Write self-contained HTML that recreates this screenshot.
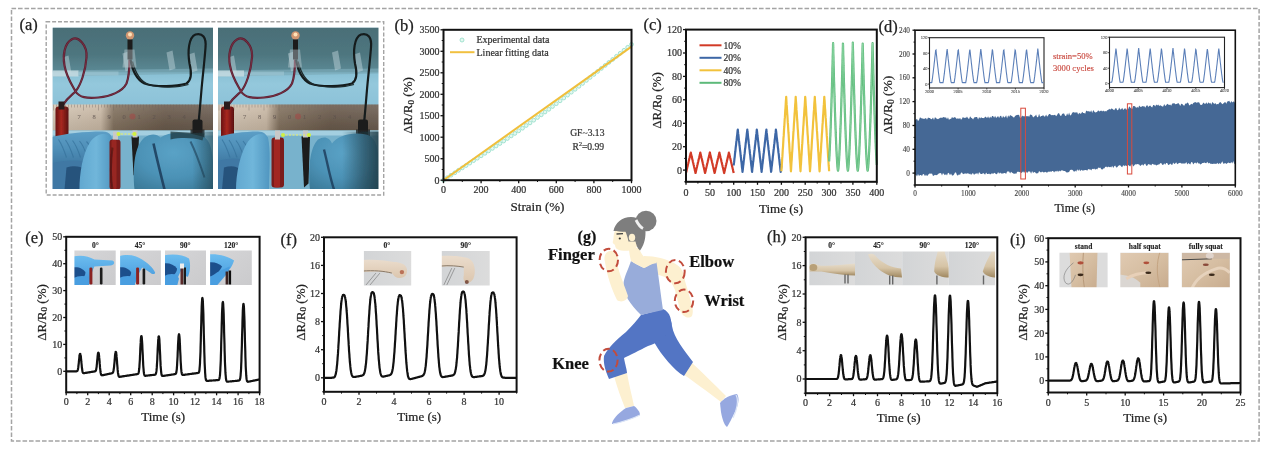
<!DOCTYPE html><html><head><meta charset="utf-8"><style>html,body{margin:0;padding:0;background:#fff;width:1268px;height:451px;overflow:hidden}svg{display:block;filter:blur(0.4px)}</style></head><body>
<svg width="1268" height="451" viewBox="0 0 1268 451" font-family="'Liberation Serif','Times New Roman',serif">
<rect width="1268" height="451" fill="#fff"/>
<rect x="11.5" y="8.6" width="1247.6" height="432.4" fill="none" stroke="#a4a4a4" stroke-width="1.5" stroke-dasharray="4.6 1.9"/>
<text x="19.5" y="30.0" font-size="16.5" fill="#222" stroke="#222" stroke-width="0.25">(a)</text>
<rect x="46.2" y="21.8" width="337.5" height="173.2" fill="none" stroke="#a4a4a4" stroke-width="1.4" stroke-dasharray="4 1.9"/>
<defs>
<linearGradient id="wallTop" x1="0" y1="0" x2="0" y2="1">
 <stop offset="0" stop-color="#4a6e77"/><stop offset="0.6" stop-color="#4e767f"/><stop offset="1" stop-color="#5c8a96"/></linearGradient>
<linearGradient id="wallLow" x1="0" y1="0" x2="0" y2="1">
 <stop offset="0" stop-color="#88c0d4"/><stop offset="0.35" stop-color="#94c8dc"/><stop offset="1" stop-color="#8cc2d8"/></linearGradient>
<linearGradient id="ruler" x1="0" y1="0" x2="1" y2="0">
 <stop offset="0" stop-color="#d6c8b6"/><stop offset="0.3" stop-color="#cbbaa6"/><stop offset="0.38" stop-color="#83725f"/><stop offset="0.7" stop-color="#6a5a4b"/><stop offset="1" stop-color="#6c5e52"/></linearGradient>
<linearGradient id="rulerV" x1="0" y1="0" x2="0" y2="1">
 <stop offset="0" stop-color="#fff" stop-opacity="0.12"/><stop offset="1" stop-color="#000" stop-opacity="0.1"/></linearGradient>
<linearGradient id="gloveA" x1="0" y1="0" x2="0" y2="1">
 <stop offset="0" stop-color="#5c9ec6"/><stop offset="0.5" stop-color="#4f8fb8"/><stop offset="1" stop-color="#3e78a2"/></linearGradient>
<linearGradient id="gloveB" x1="0" y1="0" x2="1" y2="0">
 <stop offset="0" stop-color="#62a8d0"/><stop offset="0.5" stop-color="#70b6da"/><stop offset="1" stop-color="#5096c0"/></linearGradient>
<radialGradient id="gloveC" cx="0.5" cy="0.35" r="0.8">
 <stop offset="0" stop-color="#5aa2c6"/><stop offset="0.55" stop-color="#4c92b6"/><stop offset="1" stop-color="#3a7896"/></radialGradient>
<linearGradient id="redclip" x1="0" y1="0" x2="1" y2="0">
 <stop offset="0" stop-color="#6a1212"/><stop offset="0.45" stop-color="#a82820"/><stop offset="1" stop-color="#5a1010"/></linearGradient>
<linearGradient id="darkEdge" x1="0" y1="0" x2="1" y2="0"><stop offset="0" stop-color="#20404c" stop-opacity="0"/><stop offset="1" stop-color="#20404c" stop-opacity="0.6"/></linearGradient>
<linearGradient id="darkEdge2" x1="0" y1="0" x2="1" y2="0"><stop offset="0" stop-color="#1e3a44" stop-opacity="0"/><stop offset="0.6" stop-color="#1e3a44" stop-opacity="0.55"/><stop offset="1" stop-color="#1e3a44" stop-opacity="0.85"/></linearGradient>
<clipPath id="cpA1"><rect x="0" y="0" width="160.5" height="161.5"/></clipPath>
<filter id="soft" x="-5%" y="-5%" width="110%" height="110%"><feGaussianBlur stdDeviation="0.6"/></filter>
<filter id="soft2" x="-20%" y="-20%" width="140%" height="140%"><feGaussianBlur stdDeviation="1.2"/></filter>
</defs>
<g transform="translate(52.5,27.5)" clip-path="url(#cpA1)">
<g filter="url(#soft)">
<rect x="0" y="0" width="161" height="162" fill="#6aaac6"/>
<rect x="0" y="0" width="161" height="45" fill="url(#wallTop)"/>
<rect x="0" y="45" width="161" height="33" fill="url(#wallLow)"/>
<path d="M0,43 L161,41 L161,46 L0,49 Z" fill="#7aaab8" opacity="0.7"/>
<rect x="0" y="43" width="26" height="6" fill="#d6e6ea" opacity="0.7"/>
<rect x="26" y="44" width="40" height="4" fill="#a8ccd8" opacity="0.5"/>
<path d="M10,30 l6,-2 l3,18 l-6,2 z" fill="#c5d9df" opacity="0.45"/>
<path d="M70,26 l6,-2 l3,18 l-6,2 z" fill="#c5d9df" opacity="0.45"/>
<path d="M114,25 l6,-2 l3,18 l-6,2 z" fill="#c5d9df" opacity="0.45"/>
<path d="M136,27 l6,-2 l3,18 l-6,2 z" fill="#c5d9df" opacity="0.45"/>
<rect x="0" y="77" width="161" height="26" fill="url(#ruler)"/>
<rect x="0" y="77" width="161" height="26" fill="url(#rulerV)"/>
<line x1="1" y1="77" x2="1" y2="83" stroke="#6d625e" stroke-width="0.6" opacity="0.6"/>
<line x1="4" y1="77" x2="4" y2="80" stroke="#6d625e" stroke-width="0.6" opacity="0.6"/>
<line x1="7" y1="77" x2="7" y2="80" stroke="#6d625e" stroke-width="0.6" opacity="0.6"/>
<line x1="10" y1="77" x2="10" y2="80" stroke="#6d625e" stroke-width="0.6" opacity="0.6"/>
<line x1="13" y1="77" x2="13" y2="80" stroke="#6d625e" stroke-width="0.6" opacity="0.6"/>
<line x1="16" y1="77" x2="16" y2="83" stroke="#6d625e" stroke-width="0.6" opacity="0.6"/>
<line x1="19" y1="77" x2="19" y2="80" stroke="#6d625e" stroke-width="0.6" opacity="0.6"/>
<line x1="22" y1="77" x2="22" y2="80" stroke="#6d625e" stroke-width="0.6" opacity="0.6"/>
<line x1="25" y1="77" x2="25" y2="80" stroke="#6d625e" stroke-width="0.6" opacity="0.6"/>
<line x1="28" y1="77" x2="28" y2="80" stroke="#6d625e" stroke-width="0.6" opacity="0.6"/>
<line x1="31" y1="77" x2="31" y2="83" stroke="#6d625e" stroke-width="0.6" opacity="0.6"/>
<line x1="34" y1="77" x2="34" y2="80" stroke="#6d625e" stroke-width="0.6" opacity="0.6"/>
<line x1="37" y1="77" x2="37" y2="80" stroke="#6d625e" stroke-width="0.6" opacity="0.6"/>
<line x1="40" y1="77" x2="40" y2="80" stroke="#6d625e" stroke-width="0.6" opacity="0.6"/>
<line x1="43" y1="77" x2="43" y2="80" stroke="#6d625e" stroke-width="0.6" opacity="0.6"/>
<line x1="46" y1="77" x2="46" y2="83" stroke="#6d625e" stroke-width="0.6" opacity="0.6"/>
<line x1="49" y1="77" x2="49" y2="80" stroke="#6d625e" stroke-width="0.6" opacity="0.6"/>
<line x1="52" y1="77" x2="52" y2="80" stroke="#6d625e" stroke-width="0.6" opacity="0.6"/>
<line x1="55" y1="77" x2="55" y2="80" stroke="#6d625e" stroke-width="0.6" opacity="0.6"/>
<line x1="58" y1="77" x2="58" y2="80" stroke="#6d625e" stroke-width="0.6" opacity="0.6"/>
<line x1="61" y1="77" x2="61" y2="83" stroke="#6d625e" stroke-width="0.6" opacity="0.6"/>
<line x1="64" y1="77" x2="64" y2="80" stroke="#6d625e" stroke-width="0.6" opacity="0.6"/>
<line x1="67" y1="77" x2="67" y2="80" stroke="#6d625e" stroke-width="0.6" opacity="0.6"/>
<line x1="70" y1="77" x2="70" y2="80" stroke="#6d625e" stroke-width="0.6" opacity="0.6"/>
<line x1="73" y1="77" x2="73" y2="80" stroke="#6d625e" stroke-width="0.6" opacity="0.6"/>
<line x1="76" y1="77" x2="76" y2="83" stroke="#6d625e" stroke-width="0.6" opacity="0.6"/>
<line x1="79" y1="77" x2="79" y2="80" stroke="#6d625e" stroke-width="0.6" opacity="0.6"/>
<line x1="82" y1="77" x2="82" y2="80" stroke="#6d625e" stroke-width="0.6" opacity="0.6"/>
<line x1="85" y1="77" x2="85" y2="80" stroke="#6d625e" stroke-width="0.6" opacity="0.6"/>
<line x1="88" y1="77" x2="88" y2="80" stroke="#6d625e" stroke-width="0.6" opacity="0.6"/>
<line x1="91" y1="77" x2="91" y2="83" stroke="#6d625e" stroke-width="0.6" opacity="0.6"/>
<line x1="94" y1="77" x2="94" y2="80" stroke="#6d625e" stroke-width="0.6" opacity="0.6"/>
<line x1="97" y1="77" x2="97" y2="80" stroke="#6d625e" stroke-width="0.6" opacity="0.6"/>
<line x1="100" y1="77" x2="100" y2="80" stroke="#6d625e" stroke-width="0.6" opacity="0.6"/>
<line x1="103" y1="77" x2="103" y2="80" stroke="#6d625e" stroke-width="0.6" opacity="0.6"/>
<line x1="106" y1="77" x2="106" y2="83" stroke="#6d625e" stroke-width="0.6" opacity="0.6"/>
<line x1="109" y1="77" x2="109" y2="80" stroke="#6d625e" stroke-width="0.6" opacity="0.6"/>
<line x1="112" y1="77" x2="112" y2="80" stroke="#6d625e" stroke-width="0.6" opacity="0.6"/>
<line x1="115" y1="77" x2="115" y2="80" stroke="#6d625e" stroke-width="0.6" opacity="0.6"/>
<line x1="118" y1="77" x2="118" y2="80" stroke="#6d625e" stroke-width="0.6" opacity="0.6"/>
<line x1="121" y1="77" x2="121" y2="83" stroke="#6d625e" stroke-width="0.6" opacity="0.6"/>
<line x1="124" y1="77" x2="124" y2="80" stroke="#6d625e" stroke-width="0.6" opacity="0.6"/>
<line x1="127" y1="77" x2="127" y2="80" stroke="#6d625e" stroke-width="0.6" opacity="0.6"/>
<line x1="130" y1="77" x2="130" y2="80" stroke="#6d625e" stroke-width="0.6" opacity="0.6"/>
<line x1="133" y1="77" x2="133" y2="80" stroke="#6d625e" stroke-width="0.6" opacity="0.6"/>
<line x1="136" y1="77" x2="136" y2="83" stroke="#6d625e" stroke-width="0.6" opacity="0.6"/>
<line x1="139" y1="77" x2="139" y2="80" stroke="#6d625e" stroke-width="0.6" opacity="0.6"/>
<line x1="142" y1="77" x2="142" y2="80" stroke="#6d625e" stroke-width="0.6" opacity="0.6"/>
<line x1="145" y1="77" x2="145" y2="80" stroke="#6d625e" stroke-width="0.6" opacity="0.6"/>
<line x1="148" y1="77" x2="148" y2="80" stroke="#6d625e" stroke-width="0.6" opacity="0.6"/>
<line x1="151" y1="77" x2="151" y2="83" stroke="#6d625e" stroke-width="0.6" opacity="0.6"/>
<line x1="154" y1="77" x2="154" y2="80" stroke="#6d625e" stroke-width="0.6" opacity="0.6"/>
<line x1="157" y1="77" x2="157" y2="80" stroke="#6d625e" stroke-width="0.6" opacity="0.6"/>
<line x1="160" y1="77" x2="160" y2="80" stroke="#6d625e" stroke-width="0.6" opacity="0.6"/>
<text x="10" y="91" font-size="6.5" fill="#5d524e" opacity="0.75" stroke="#5d524e" stroke-width="0.12">6</text>
<text x="25" y="91" font-size="6.5" fill="#5d524e" opacity="0.75" stroke="#5d524e" stroke-width="0.12">7</text>
<text x="40" y="91" font-size="6.5" fill="#5d524e" opacity="0.75" stroke="#5d524e" stroke-width="0.12">8</text>
<text x="55" y="91" font-size="6.5" fill="#5d524e" opacity="0.75" stroke="#5d524e" stroke-width="0.12">9</text>
<text x="70" y="91" font-size="6.5" fill="#5d524e" opacity="0.75" stroke="#5d524e" stroke-width="0.12">0</text>
<text x="85" y="91" font-size="6.5" fill="#5d524e" opacity="0.75" stroke="#5d524e" stroke-width="0.12">1</text>
<text x="100" y="91" font-size="6.5" fill="#5d524e" opacity="0.75" stroke="#5d524e" stroke-width="0.12">2</text>
<text x="115" y="91" font-size="6.5" fill="#5d524e" opacity="0.75" stroke="#5d524e" stroke-width="0.12">3</text>
<text x="130" y="91" font-size="6.5" fill="#5d524e" opacity="0.75" stroke="#5d524e" stroke-width="0.12">4</text>
<text x="145" y="91" font-size="6.5" fill="#5d524e" opacity="0.75" stroke="#5d524e" stroke-width="0.12">5</text>
<circle cx="80" cy="89" r="3" fill="#b04040" opacity="0.45"/>
<rect x="0" y="103" width="161" height="6" fill="#a4cfe0"/>
<rect x="0" y="108" width="161" height="54" fill="#78b2cc"/>
<path d="M10,78 C15,70 20,67 23,64 C28,58 33,44 34,30 C35,18 26,8 19,12 C12,16 10,28 12,38 C14,50 20,58 23,64 C27,70 34,71 46,70 C58,69 70,64 74,56 C77,48 77,40 77,32" fill="none" stroke="#5a2030" stroke-width="2.2"/>
<path d="M10,78 C15,70 20,67 23,64 C28,58 33,44 34,30 C35,18 26,8 19,12 C12,16 10,28 12,38 C14,50 20,58 23,64 C27,70 34,71 46,70 C58,69 70,64 74,56 C77,48 77,40 77,32" fill="none" stroke="#93405a" stroke-width="0.8" opacity="0.6"/>
<path d="M78,32 C80,44 84,52 92,56 C104,60 124,59 134,56 C140,52 139,44 137,36 C135,24 136,10 143,7 C150,5 154,10 153,20 C152,34 150,50 149,62 C148,74 147,86 146,96" fill="none" stroke="#141c1e" stroke-width="2.2"/>
<path d="M80,34 C83,46 88,54 96,57 C108,61 126,60 136,57" fill="none" stroke="#1e2a2c" stroke-width="1.3"/>
<circle cx="77.5" cy="8" r="4.2" fill="#e09a70" opacity="0.9"/>
<circle cx="77.5" cy="7" r="2" fill="#ffe2b8"/>
<rect x="75" y="12" width="5" height="20" fill="#1a1a1a"/>
<path d="M72,22 l10,0 l2,18 l-14,0 z" fill="#c8d8dc" opacity="0.4"/>
<rect x="3" y="79" width="13" height="34" rx="3" fill="url(#redclip)"/>
<rect x="6" y="74" width="6" height="8" fill="#2a1a1a"/>
<rect x="140" y="92" width="10" height="20" rx="2" fill="#1b1b1b"/>
<rect x="138" y="102" width="14" height="10" fill="#222" opacity="0.8"/>
<path d="M-2,110 C12,106 32,104 50,104 C58,104 62,110 58,118 L50,132 L30,136 L-2,138 Z" fill="url(#gloveA)"/>
<path d="M-2,136 C10,133 22,132 32,134 L30,162 L-2,162 Z" fill="#3f78a4"/>
<path d="M14,140 C20,138 28,138 32,142 L30,162 L12,162 Z" fill="#264f78" opacity="0.9"/>
<path d="M6,112.0 C10,118 12,124 14,130" stroke="#35709a" stroke-width="1.1" fill="none" opacity="0.7"/>
<path d="M13,112.5 C17,118 19,124 21,130" stroke="#35709a" stroke-width="1.1" fill="none" opacity="0.7"/>
<path d="M20,113.0 C24,118 26,124 28,130" stroke="#35709a" stroke-width="1.1" fill="none" opacity="0.7"/>
<path d="M27,113.5 C31,118 33,124 35,130" stroke="#35709a" stroke-width="1.1" fill="none" opacity="0.7"/>
<path d="M34,114.0 C38,118 40,124 42,130" stroke="#35709a" stroke-width="1.1" fill="none" opacity="0.7"/>
<path d="M27,162 C27,146 30,126 38,114 C44,106 54,104 58,110 C62,124 60,146 60,162 Z" fill="url(#gloveB)"/>
<rect x="57" y="112" width="11" height="50" rx="3" fill="#7a1c1c"/>
<rect x="59" y="112" width="5" height="50" rx="2" fill="#a02a24" opacity="0.8"/>
<rect x="60.5" y="104" width="5" height="8" fill="#c8c8c8"/>
<path d="M79,109 L86.5,109 L85,144 L81,148 Z" fill="#1a1a1a"/>
<rect x="80" y="103" width="5" height="7" fill="#c8c8c8"/>
<path d="M82,162 C80,140 82,118 92,110 C98,106 104,106 108,110 C116,104 130,104 146,108 C156,110 162,114 161,162 Z" fill="url(#gloveC)"/>
<path d="M118,104 L152,106 L150,113 C140,110 128,110 118,112 Z" fill="#20383e" opacity="0.75"/>
<path d="M101,116 C104,130 108,146 112,162" stroke="#1c3a58" stroke-width="2.6" fill="none" opacity="0.85"/>
<path d="M138,114 C144,126 148,138 152,150" stroke="#234a64" stroke-width="2" fill="none" opacity="0.7"/>
<path d="M60,162 C58,150 58,135 60,120" stroke="#3a1010" stroke-width="2" fill="none" opacity="0.5"/>
<rect x="140" y="104" width="21" height="58" fill="url(#darkEdge)"/>
<line x1="65" y1="106.5" x2="83" y2="106.5" stroke="#e8f060" stroke-width="1.2" stroke-dasharray="2 1.5"/>
<circle cx="66" cy="106.5" r="2" fill="#d0f040"/><circle cx="82" cy="106.5" r="2" fill="#d0f040"/>
</g></g>
<g transform="translate(218.0,27.5)" clip-path="url(#cpA1)">
<g filter="url(#soft)">
<rect x="0" y="0" width="161" height="162" fill="#6aaac6"/>
<rect x="0" y="0" width="161" height="45" fill="url(#wallTop)"/>
<rect x="0" y="45" width="161" height="33" fill="url(#wallLow)"/>
<path d="M0,43 L161,41 L161,46 L0,49 Z" fill="#7aaab8" opacity="0.7"/>
<rect x="0" y="43" width="26" height="6" fill="#d6e6ea" opacity="0.7"/>
<rect x="26" y="44" width="40" height="4" fill="#a8ccd8" opacity="0.5"/>
<path d="M10,30 l6,-2 l3,18 l-6,2 z" fill="#c5d9df" opacity="0.45"/>
<path d="M70,26 l6,-2 l3,18 l-6,2 z" fill="#c5d9df" opacity="0.45"/>
<path d="M114,25 l6,-2 l3,18 l-6,2 z" fill="#c5d9df" opacity="0.45"/>
<path d="M136,27 l6,-2 l3,18 l-6,2 z" fill="#c5d9df" opacity="0.45"/>
<rect x="0" y="77" width="161" height="26" fill="url(#ruler)"/>
<rect x="0" y="77" width="161" height="26" fill="url(#rulerV)"/>
<line x1="1" y1="77" x2="1" y2="83" stroke="#6d625e" stroke-width="0.6" opacity="0.6"/>
<line x1="4" y1="77" x2="4" y2="80" stroke="#6d625e" stroke-width="0.6" opacity="0.6"/>
<line x1="7" y1="77" x2="7" y2="80" stroke="#6d625e" stroke-width="0.6" opacity="0.6"/>
<line x1="10" y1="77" x2="10" y2="80" stroke="#6d625e" stroke-width="0.6" opacity="0.6"/>
<line x1="13" y1="77" x2="13" y2="80" stroke="#6d625e" stroke-width="0.6" opacity="0.6"/>
<line x1="16" y1="77" x2="16" y2="83" stroke="#6d625e" stroke-width="0.6" opacity="0.6"/>
<line x1="19" y1="77" x2="19" y2="80" stroke="#6d625e" stroke-width="0.6" opacity="0.6"/>
<line x1="22" y1="77" x2="22" y2="80" stroke="#6d625e" stroke-width="0.6" opacity="0.6"/>
<line x1="25" y1="77" x2="25" y2="80" stroke="#6d625e" stroke-width="0.6" opacity="0.6"/>
<line x1="28" y1="77" x2="28" y2="80" stroke="#6d625e" stroke-width="0.6" opacity="0.6"/>
<line x1="31" y1="77" x2="31" y2="83" stroke="#6d625e" stroke-width="0.6" opacity="0.6"/>
<line x1="34" y1="77" x2="34" y2="80" stroke="#6d625e" stroke-width="0.6" opacity="0.6"/>
<line x1="37" y1="77" x2="37" y2="80" stroke="#6d625e" stroke-width="0.6" opacity="0.6"/>
<line x1="40" y1="77" x2="40" y2="80" stroke="#6d625e" stroke-width="0.6" opacity="0.6"/>
<line x1="43" y1="77" x2="43" y2="80" stroke="#6d625e" stroke-width="0.6" opacity="0.6"/>
<line x1="46" y1="77" x2="46" y2="83" stroke="#6d625e" stroke-width="0.6" opacity="0.6"/>
<line x1="49" y1="77" x2="49" y2="80" stroke="#6d625e" stroke-width="0.6" opacity="0.6"/>
<line x1="52" y1="77" x2="52" y2="80" stroke="#6d625e" stroke-width="0.6" opacity="0.6"/>
<line x1="55" y1="77" x2="55" y2="80" stroke="#6d625e" stroke-width="0.6" opacity="0.6"/>
<line x1="58" y1="77" x2="58" y2="80" stroke="#6d625e" stroke-width="0.6" opacity="0.6"/>
<line x1="61" y1="77" x2="61" y2="83" stroke="#6d625e" stroke-width="0.6" opacity="0.6"/>
<line x1="64" y1="77" x2="64" y2="80" stroke="#6d625e" stroke-width="0.6" opacity="0.6"/>
<line x1="67" y1="77" x2="67" y2="80" stroke="#6d625e" stroke-width="0.6" opacity="0.6"/>
<line x1="70" y1="77" x2="70" y2="80" stroke="#6d625e" stroke-width="0.6" opacity="0.6"/>
<line x1="73" y1="77" x2="73" y2="80" stroke="#6d625e" stroke-width="0.6" opacity="0.6"/>
<line x1="76" y1="77" x2="76" y2="83" stroke="#6d625e" stroke-width="0.6" opacity="0.6"/>
<line x1="79" y1="77" x2="79" y2="80" stroke="#6d625e" stroke-width="0.6" opacity="0.6"/>
<line x1="82" y1="77" x2="82" y2="80" stroke="#6d625e" stroke-width="0.6" opacity="0.6"/>
<line x1="85" y1="77" x2="85" y2="80" stroke="#6d625e" stroke-width="0.6" opacity="0.6"/>
<line x1="88" y1="77" x2="88" y2="80" stroke="#6d625e" stroke-width="0.6" opacity="0.6"/>
<line x1="91" y1="77" x2="91" y2="83" stroke="#6d625e" stroke-width="0.6" opacity="0.6"/>
<line x1="94" y1="77" x2="94" y2="80" stroke="#6d625e" stroke-width="0.6" opacity="0.6"/>
<line x1="97" y1="77" x2="97" y2="80" stroke="#6d625e" stroke-width="0.6" opacity="0.6"/>
<line x1="100" y1="77" x2="100" y2="80" stroke="#6d625e" stroke-width="0.6" opacity="0.6"/>
<line x1="103" y1="77" x2="103" y2="80" stroke="#6d625e" stroke-width="0.6" opacity="0.6"/>
<line x1="106" y1="77" x2="106" y2="83" stroke="#6d625e" stroke-width="0.6" opacity="0.6"/>
<line x1="109" y1="77" x2="109" y2="80" stroke="#6d625e" stroke-width="0.6" opacity="0.6"/>
<line x1="112" y1="77" x2="112" y2="80" stroke="#6d625e" stroke-width="0.6" opacity="0.6"/>
<line x1="115" y1="77" x2="115" y2="80" stroke="#6d625e" stroke-width="0.6" opacity="0.6"/>
<line x1="118" y1="77" x2="118" y2="80" stroke="#6d625e" stroke-width="0.6" opacity="0.6"/>
<line x1="121" y1="77" x2="121" y2="83" stroke="#6d625e" stroke-width="0.6" opacity="0.6"/>
<line x1="124" y1="77" x2="124" y2="80" stroke="#6d625e" stroke-width="0.6" opacity="0.6"/>
<line x1="127" y1="77" x2="127" y2="80" stroke="#6d625e" stroke-width="0.6" opacity="0.6"/>
<line x1="130" y1="77" x2="130" y2="80" stroke="#6d625e" stroke-width="0.6" opacity="0.6"/>
<line x1="133" y1="77" x2="133" y2="80" stroke="#6d625e" stroke-width="0.6" opacity="0.6"/>
<line x1="136" y1="77" x2="136" y2="83" stroke="#6d625e" stroke-width="0.6" opacity="0.6"/>
<line x1="139" y1="77" x2="139" y2="80" stroke="#6d625e" stroke-width="0.6" opacity="0.6"/>
<line x1="142" y1="77" x2="142" y2="80" stroke="#6d625e" stroke-width="0.6" opacity="0.6"/>
<line x1="145" y1="77" x2="145" y2="80" stroke="#6d625e" stroke-width="0.6" opacity="0.6"/>
<line x1="148" y1="77" x2="148" y2="80" stroke="#6d625e" stroke-width="0.6" opacity="0.6"/>
<line x1="151" y1="77" x2="151" y2="83" stroke="#6d625e" stroke-width="0.6" opacity="0.6"/>
<line x1="154" y1="77" x2="154" y2="80" stroke="#6d625e" stroke-width="0.6" opacity="0.6"/>
<line x1="157" y1="77" x2="157" y2="80" stroke="#6d625e" stroke-width="0.6" opacity="0.6"/>
<line x1="160" y1="77" x2="160" y2="80" stroke="#6d625e" stroke-width="0.6" opacity="0.6"/>
<text x="10" y="91" font-size="6.5" fill="#5d524e" opacity="0.75" stroke="#5d524e" stroke-width="0.12">6</text>
<text x="25" y="91" font-size="6.5" fill="#5d524e" opacity="0.75" stroke="#5d524e" stroke-width="0.12">7</text>
<text x="40" y="91" font-size="6.5" fill="#5d524e" opacity="0.75" stroke="#5d524e" stroke-width="0.12">8</text>
<text x="55" y="91" font-size="6.5" fill="#5d524e" opacity="0.75" stroke="#5d524e" stroke-width="0.12">9</text>
<text x="70" y="91" font-size="6.5" fill="#5d524e" opacity="0.75" stroke="#5d524e" stroke-width="0.12">0</text>
<text x="85" y="91" font-size="6.5" fill="#5d524e" opacity="0.75" stroke="#5d524e" stroke-width="0.12">1</text>
<text x="100" y="91" font-size="6.5" fill="#5d524e" opacity="0.75" stroke="#5d524e" stroke-width="0.12">2</text>
<text x="115" y="91" font-size="6.5" fill="#5d524e" opacity="0.75" stroke="#5d524e" stroke-width="0.12">3</text>
<text x="130" y="91" font-size="6.5" fill="#5d524e" opacity="0.75" stroke="#5d524e" stroke-width="0.12">4</text>
<text x="145" y="91" font-size="6.5" fill="#5d524e" opacity="0.75" stroke="#5d524e" stroke-width="0.12">5</text>
<circle cx="80" cy="89" r="3" fill="#b04040" opacity="0.45"/>
<rect x="0" y="103" width="161" height="6" fill="#a4cfe0"/>
<rect x="0" y="108" width="161" height="54" fill="#78b2cc"/>
<path d="M10,78 C15,70 20,67 23,64 C28,58 33,44 34,30 C35,18 26,8 19,12 C12,16 10,28 12,38 C14,50 20,58 23,64 C27,70 34,71 46,70 C58,69 70,64 74,56 C77,48 77,40 77,32" fill="none" stroke="#5a2030" stroke-width="2.2"/>
<path d="M10,78 C15,70 20,67 23,64 C28,58 33,44 34,30 C35,18 26,8 19,12 C12,16 10,28 12,38 C14,50 20,58 23,64 C27,70 34,71 46,70 C58,69 70,64 74,56 C77,48 77,40 77,32" fill="none" stroke="#93405a" stroke-width="0.8" opacity="0.6"/>
<path d="M78,32 C80,44 84,52 92,56 C104,60 124,59 134,56 C140,52 139,44 137,36 C135,24 136,10 143,7 C150,5 154,10 153,20 C152,34 150,50 149,62 C148,74 147,86 146,96" fill="none" stroke="#141c1e" stroke-width="2.2"/>
<path d="M80,34 C83,46 88,54 96,57 C108,61 126,60 136,57" fill="none" stroke="#1e2a2c" stroke-width="1.3"/>
<circle cx="77.5" cy="8" r="4.2" fill="#e09a70" opacity="0.9"/>
<circle cx="77.5" cy="7" r="2" fill="#ffe2b8"/>
<rect x="75" y="12" width="5" height="20" fill="#1a1a1a"/>
<path d="M72,22 l10,0 l2,18 l-14,0 z" fill="#c8d8dc" opacity="0.4"/>
<rect x="3" y="79" width="13" height="34" rx="3" fill="url(#redclip)"/>
<rect x="6" y="74" width="6" height="8" fill="#2a1a1a"/>
<rect x="140" y="92" width="10" height="20" rx="2" fill="#1b1b1b"/>
<rect x="138" y="102" width="14" height="10" fill="#222" opacity="0.8"/>
<path d="M-2,110 C10,106 26,104 40,104 C48,104 52,110 48,118 L42,130 L24,134 L-2,136 Z" fill="url(#gloveA)"/>
<path d="M-2,134 C8,131 16,130 24,132 L22,162 L-2,162 Z" fill="#3f78a4"/>
<path d="M6,140 C12,138 18,138 22,142 L20,162 L4,162 Z" fill="#264f78" opacity="0.9"/>
<path d="M4,112.0 C8,118 10,124 12,130" stroke="#35709a" stroke-width="1.1" fill="none" opacity="0.7"/>
<path d="M11,112.5 C15,118 17,124 19,130" stroke="#35709a" stroke-width="1.1" fill="none" opacity="0.7"/>
<path d="M18,113.0 C22,118 24,124 26,130" stroke="#35709a" stroke-width="1.1" fill="none" opacity="0.7"/>
<path d="M25,113.5 C29,118 31,124 33,130" stroke="#35709a" stroke-width="1.1" fill="none" opacity="0.7"/>
<path d="M18,162 C18,146 22,126 30,114 C36,106 46,104 50,110 C53,124 51,146 51,162 Z" fill="url(#gloveB)"/>
<rect x="53.5" y="110" width="12.5" height="50" rx="3" fill="#7a1c1c"/>
<rect x="56" y="110" width="6" height="50" rx="2" fill="#a82a24" opacity="0.85"/>
<rect x="57" y="103" width="5" height="9" fill="#c8c8c8"/>
<path d="M83.5,109 L92,109 L90.5,156 L86,160 Z" fill="#1a1a1a"/>
<rect x="85" y="103" width="5" height="7" fill="#c8c8c8"/>
<path d="M92,162 C90,140 92,120 100,112 C106,108 112,110 114,116 C120,108 134,104 148,107 C158,110 162,116 161,162 Z" fill="url(#gloveC)"/>
<path d="M106,122 C110,138 112,150 116,162" stroke="#1c3a58" stroke-width="2.4" fill="none" opacity="0.8"/>
<rect x="124" y="104" width="37" height="58" fill="url(#darkEdge2)"/>
<line x1="64" y1="107.5" x2="92" y2="107.5" stroke="#e8f060" stroke-width="1.2" stroke-dasharray="2 1.5"/>
<circle cx="65" cy="107.5" r="2" fill="#d0f040"/><circle cx="91" cy="107.5" r="2" fill="#d0f040"/>
</g></g>
<text x="394.5" y="30.5" font-size="16.5" fill="#222" stroke="#222" stroke-width="0.25">(b)</text>
<circle cx="443.5" cy="180.2" r="1.9" fill="#e4f8f0" stroke="#8edcc6" stroke-width="0.8"/>
<circle cx="447.3" cy="177.7" r="1.9" fill="#e4f8f0" stroke="#8edcc6" stroke-width="0.8"/>
<circle cx="451.0" cy="175.2" r="1.9" fill="#e4f8f0" stroke="#8edcc6" stroke-width="0.8"/>
<circle cx="454.8" cy="172.8" r="1.9" fill="#e4f8f0" stroke="#8edcc6" stroke-width="0.8"/>
<circle cx="458.5" cy="170.3" r="1.9" fill="#e4f8f0" stroke="#8edcc6" stroke-width="0.8"/>
<circle cx="462.3" cy="167.9" r="1.9" fill="#e4f8f0" stroke="#8edcc6" stroke-width="0.8"/>
<circle cx="466.1" cy="165.5" r="1.9" fill="#e4f8f0" stroke="#8edcc6" stroke-width="0.8"/>
<circle cx="469.8" cy="163.1" r="1.9" fill="#e4f8f0" stroke="#8edcc6" stroke-width="0.8"/>
<circle cx="473.6" cy="160.6" r="1.9" fill="#e4f8f0" stroke="#8edcc6" stroke-width="0.8"/>
<circle cx="477.3" cy="158.2" r="1.9" fill="#e4f8f0" stroke="#8edcc6" stroke-width="0.8"/>
<circle cx="481.1" cy="155.8" r="1.9" fill="#e4f8f0" stroke="#8edcc6" stroke-width="0.8"/>
<circle cx="484.9" cy="153.3" r="1.9" fill="#e4f8f0" stroke="#8edcc6" stroke-width="0.8"/>
<circle cx="488.6" cy="150.9" r="1.9" fill="#e4f8f0" stroke="#8edcc6" stroke-width="0.8"/>
<circle cx="492.4" cy="148.4" r="1.9" fill="#e4f8f0" stroke="#8edcc6" stroke-width="0.8"/>
<circle cx="496.1" cy="146.0" r="1.9" fill="#e4f8f0" stroke="#8edcc6" stroke-width="0.8"/>
<circle cx="499.9" cy="143.5" r="1.9" fill="#e4f8f0" stroke="#8edcc6" stroke-width="0.8"/>
<circle cx="503.7" cy="141.0" r="1.9" fill="#e4f8f0" stroke="#8edcc6" stroke-width="0.8"/>
<circle cx="507.4" cy="138.5" r="1.9" fill="#e4f8f0" stroke="#8edcc6" stroke-width="0.8"/>
<circle cx="511.2" cy="135.9" r="1.9" fill="#e4f8f0" stroke="#8edcc6" stroke-width="0.8"/>
<circle cx="514.9" cy="133.4" r="1.9" fill="#e4f8f0" stroke="#8edcc6" stroke-width="0.8"/>
<circle cx="518.7" cy="130.8" r="1.9" fill="#e4f8f0" stroke="#8edcc6" stroke-width="0.8"/>
<circle cx="522.5" cy="128.2" r="1.9" fill="#e4f8f0" stroke="#8edcc6" stroke-width="0.8"/>
<circle cx="526.2" cy="125.5" r="1.9" fill="#e4f8f0" stroke="#8edcc6" stroke-width="0.8"/>
<circle cx="530.0" cy="122.9" r="1.9" fill="#e4f8f0" stroke="#8edcc6" stroke-width="0.8"/>
<circle cx="533.7" cy="120.2" r="1.9" fill="#e4f8f0" stroke="#8edcc6" stroke-width="0.8"/>
<circle cx="537.5" cy="117.5" r="1.9" fill="#e4f8f0" stroke="#8edcc6" stroke-width="0.8"/>
<circle cx="541.3" cy="114.8" r="1.9" fill="#e4f8f0" stroke="#8edcc6" stroke-width="0.8"/>
<circle cx="545.0" cy="112.0" r="1.9" fill="#e4f8f0" stroke="#8edcc6" stroke-width="0.8"/>
<circle cx="548.8" cy="109.3" r="1.9" fill="#e4f8f0" stroke="#8edcc6" stroke-width="0.8"/>
<circle cx="552.5" cy="106.5" r="1.9" fill="#e4f8f0" stroke="#8edcc6" stroke-width="0.8"/>
<circle cx="556.3" cy="103.7" r="1.9" fill="#e4f8f0" stroke="#8edcc6" stroke-width="0.8"/>
<circle cx="560.1" cy="100.8" r="1.9" fill="#e4f8f0" stroke="#8edcc6" stroke-width="0.8"/>
<circle cx="563.8" cy="98.0" r="1.9" fill="#e4f8f0" stroke="#8edcc6" stroke-width="0.8"/>
<circle cx="567.6" cy="95.1" r="1.9" fill="#e4f8f0" stroke="#8edcc6" stroke-width="0.8"/>
<circle cx="571.3" cy="92.2" r="1.9" fill="#e4f8f0" stroke="#8edcc6" stroke-width="0.8"/>
<circle cx="575.1" cy="89.3" r="1.9" fill="#e4f8f0" stroke="#8edcc6" stroke-width="0.8"/>
<circle cx="578.9" cy="86.3" r="1.9" fill="#e4f8f0" stroke="#8edcc6" stroke-width="0.8"/>
<circle cx="582.6" cy="83.4" r="1.9" fill="#e4f8f0" stroke="#8edcc6" stroke-width="0.8"/>
<circle cx="586.4" cy="80.4" r="1.9" fill="#e4f8f0" stroke="#8edcc6" stroke-width="0.8"/>
<circle cx="590.1" cy="77.4" r="1.9" fill="#e4f8f0" stroke="#8edcc6" stroke-width="0.8"/>
<circle cx="593.9" cy="74.4" r="1.9" fill="#e4f8f0" stroke="#8edcc6" stroke-width="0.8"/>
<circle cx="597.7" cy="71.4" r="1.9" fill="#e4f8f0" stroke="#8edcc6" stroke-width="0.8"/>
<circle cx="601.4" cy="68.4" r="1.9" fill="#e4f8f0" stroke="#8edcc6" stroke-width="0.8"/>
<circle cx="605.2" cy="65.4" r="1.9" fill="#e4f8f0" stroke="#8edcc6" stroke-width="0.8"/>
<circle cx="608.9" cy="62.4" r="1.9" fill="#e4f8f0" stroke="#8edcc6" stroke-width="0.8"/>
<circle cx="612.7" cy="59.4" r="1.9" fill="#e4f8f0" stroke="#8edcc6" stroke-width="0.8"/>
<circle cx="616.5" cy="56.3" r="1.9" fill="#e4f8f0" stroke="#8edcc6" stroke-width="0.8"/>
<circle cx="620.2" cy="53.3" r="1.9" fill="#e4f8f0" stroke="#8edcc6" stroke-width="0.8"/>
<circle cx="624.0" cy="50.3" r="1.9" fill="#e4f8f0" stroke="#8edcc6" stroke-width="0.8"/>
<circle cx="627.7" cy="47.3" r="1.9" fill="#e4f8f0" stroke="#8edcc6" stroke-width="0.8"/>
<circle cx="631.5" cy="44.4" r="1.9" fill="#e4f8f0" stroke="#8edcc6" stroke-width="0.8"/>
<line x1="443.5" y1="180.2" x2="631.5" y2="46.6" stroke="#f0bf3c" stroke-width="2"/>
<rect x="443.5" y="29.8" width="188.0" height="150.4" fill="none" stroke="#111" stroke-width="2.0"/>
<line x1="443.5" y1="180.2" x2="443.5" y2="183.2" stroke="#111" stroke-width="1.3"/>
<text x="443.5" y="193.2" font-size="10" text-anchor="middle" fill="#333" stroke="#333" stroke-width="0.22">0</text>
<line x1="481.1" y1="180.2" x2="481.1" y2="183.2" stroke="#111" stroke-width="1.3"/>
<text x="481.1" y="193.2" font-size="10" text-anchor="middle" fill="#333" stroke="#333" stroke-width="0.22">200</text>
<line x1="518.7" y1="180.2" x2="518.7" y2="183.2" stroke="#111" stroke-width="1.3"/>
<text x="518.7" y="193.2" font-size="10" text-anchor="middle" fill="#333" stroke="#333" stroke-width="0.22">400</text>
<line x1="556.3" y1="180.2" x2="556.3" y2="183.2" stroke="#111" stroke-width="1.3"/>
<text x="556.3" y="193.2" font-size="10" text-anchor="middle" fill="#333" stroke="#333" stroke-width="0.22">600</text>
<line x1="593.9" y1="180.2" x2="593.9" y2="183.2" stroke="#111" stroke-width="1.3"/>
<text x="593.9" y="193.2" font-size="10" text-anchor="middle" fill="#333" stroke="#333" stroke-width="0.22">800</text>
<line x1="631.5" y1="180.2" x2="631.5" y2="183.2" stroke="#111" stroke-width="1.3"/>
<text x="631.5" y="193.2" font-size="10" text-anchor="middle" fill="#333" stroke="#333" stroke-width="0.22">1000</text>
<line x1="462.3" y1="180.2" x2="462.3" y2="182.0" stroke="#111" stroke-width="1"/>
<line x1="499.9" y1="180.2" x2="499.9" y2="182.0" stroke="#111" stroke-width="1"/>
<line x1="537.5" y1="180.2" x2="537.5" y2="182.0" stroke="#111" stroke-width="1"/>
<line x1="575.1" y1="180.2" x2="575.1" y2="182.0" stroke="#111" stroke-width="1"/>
<line x1="612.7" y1="180.2" x2="612.7" y2="182.0" stroke="#111" stroke-width="1"/>
<line x1="440.5" y1="180.2" x2="443.5" y2="180.2" stroke="#111" stroke-width="1.3"/>
<text x="439.5" y="183.6" font-size="10" text-anchor="end" fill="#333" stroke="#333" stroke-width="0.22">0</text>
<line x1="440.5" y1="158.7" x2="443.5" y2="158.7" stroke="#111" stroke-width="1.3"/>
<text x="439.5" y="162.1" font-size="10" text-anchor="end" fill="#333" stroke="#333" stroke-width="0.22">500</text>
<line x1="440.5" y1="137.2" x2="443.5" y2="137.2" stroke="#111" stroke-width="1.3"/>
<text x="439.5" y="140.6" font-size="10" text-anchor="end" fill="#333" stroke="#333" stroke-width="0.22">1000</text>
<line x1="440.5" y1="115.7" x2="443.5" y2="115.7" stroke="#111" stroke-width="1.3"/>
<text x="439.5" y="119.1" font-size="10" text-anchor="end" fill="#333" stroke="#333" stroke-width="0.22">1500</text>
<line x1="440.5" y1="94.3" x2="443.5" y2="94.3" stroke="#111" stroke-width="1.3"/>
<text x="439.5" y="97.7" font-size="10" text-anchor="end" fill="#333" stroke="#333" stroke-width="0.22">2000</text>
<line x1="440.5" y1="72.8" x2="443.5" y2="72.8" stroke="#111" stroke-width="1.3"/>
<text x="439.5" y="76.2" font-size="10" text-anchor="end" fill="#333" stroke="#333" stroke-width="0.22">2500</text>
<line x1="440.5" y1="51.3" x2="443.5" y2="51.3" stroke="#111" stroke-width="1.3"/>
<text x="439.5" y="54.7" font-size="10" text-anchor="end" fill="#333" stroke="#333" stroke-width="0.22">3000</text>
<line x1="440.5" y1="29.8" x2="443.5" y2="29.8" stroke="#111" stroke-width="1.3"/>
<text x="439.5" y="33.2" font-size="10" text-anchor="end" fill="#333" stroke="#333" stroke-width="0.22">3500</text>
<line x1="441.7" y1="169.5" x2="443.5" y2="169.5" stroke="#111" stroke-width="1"/>
<line x1="441.7" y1="148.0" x2="443.5" y2="148.0" stroke="#111" stroke-width="1"/>
<line x1="441.7" y1="126.5" x2="443.5" y2="126.5" stroke="#111" stroke-width="1"/>
<line x1="441.7" y1="105.0" x2="443.5" y2="105.0" stroke="#111" stroke-width="1"/>
<line x1="441.7" y1="83.5" x2="443.5" y2="83.5" stroke="#111" stroke-width="1"/>
<line x1="441.7" y1="62.0" x2="443.5" y2="62.0" stroke="#111" stroke-width="1"/>
<line x1="441.7" y1="40.5" x2="443.5" y2="40.5" stroke="#111" stroke-width="1"/>
<circle cx="462" cy="40" r="2" fill="#e4f8f0" stroke="#8edcc6" stroke-width="0.8"/>
<text x="476.5" y="43.3" font-size="10" fill="#333" stroke="#333" stroke-width="0.22">Experimental data</text>
<line x1="450" y1="52.2" x2="474.5" y2="52.2" stroke="#f1c040" stroke-width="2"/>
<text x="476.5" y="55.6" font-size="10" fill="#333" stroke="#333" stroke-width="0.22">Linear fitting data</text>
<text x="570.2" y="136.3" font-size="9.6" fill="#333" stroke="#333" stroke-width="0.22">GF<tspan fill="#bbb">~</tspan>3.13</text>
<text x="572.5" y="149.6" font-size="9.6" fill="#333" stroke="#333" stroke-width="0.22">R<tspan font-size="6" dy="-3.5">2</tspan><tspan dy="3.5">=0.99</tspan></text>
<text transform="translate(407.3,105.5) rotate(-90)" font-size="13" text-anchor="middle" fill="#222" dominant-baseline="central" stroke="#222" stroke-width="0.22">ΔR/R<tspan font-size="9.1" dy="3.2">0</tspan><tspan dy="-3.2"> (%)</tspan></text>
<text x="537.5" y="210.5" font-size="13" text-anchor="middle" fill="#222" stroke="#222" stroke-width="0.22">Strain (%)</text>
<text x="643.5" y="30.0" font-size="16.5" fill="#222" stroke="#222" stroke-width="0.25">(c)</text>
<path d="M686.0,173.0 L686.1,172.5 L686.2,172.0 L686.4,171.5 L686.5,171.0 L686.6,170.5 L686.7,169.9 L686.8,169.4 L687.0,168.9 L687.1,168.4 L687.2,167.9 L687.3,167.4 L687.4,166.9 L687.6,166.4 L687.7,165.8 L687.8,165.3 L687.9,164.8 L688.0,164.3 L688.1,163.8 L688.3,163.3 L688.4,162.8 L688.5,162.3 L688.6,161.8 L688.7,161.2 L688.9,160.7 L689.0,160.2 L689.1,159.7 L689.2,159.2 L689.3,158.7 L689.5,158.2 L689.6,157.7 L689.7,157.1 L689.8,156.6 L689.9,156.1 L690.1,155.6 L690.2,155.1 L690.3,154.6 L690.4,154.1 L690.5,153.6 L690.7,153.0 L690.8,152.5 L690.9,153.0 L691.0,153.6 L691.1,154.1 L691.2,154.6 L691.4,155.1 L691.5,155.6 L691.6,156.1 L691.7,156.6 L691.8,157.1 L692.0,157.7 L692.1,158.2 L692.2,158.7 L692.3,159.2 L692.4,159.7 L692.6,160.2 L692.7,160.7 L692.8,161.2 L692.9,161.8 L693.0,162.3 L693.2,162.8 L693.3,163.3 L693.4,163.8 L693.5,164.3 L693.6,164.8 L693.8,165.3 L693.9,165.8 L694.0,166.4 L694.1,166.9 L694.2,167.4 L694.3,167.9 L694.5,168.4 L694.6,168.9 L694.7,169.4 L694.8,169.9 L694.9,170.5 L695.1,171.0 L695.2,171.5 L695.3,172.0 L695.4,172.5 L695.5,173.0 L695.7,172.5 L695.8,172.0 L695.9,171.5 L696.0,171.0 L696.1,170.5 L696.3,169.9 L696.4,169.4 L696.5,168.9 L696.6,168.4 L696.7,167.9 L696.9,167.4 L697.0,166.9 L697.1,166.4 L697.2,165.8 L697.3,165.3 L697.4,164.8 L697.6,164.3 L697.7,163.8 L697.8,163.3 L697.9,162.8 L698.0,162.3 L698.2,161.8 L698.3,161.2 L698.4,160.7 L698.5,160.2 L698.6,159.7 L698.8,159.2 L698.9,158.7 L699.0,158.2 L699.1,157.7 L699.2,157.1 L699.4,156.6 L699.5,156.1 L699.6,155.6 L699.7,155.1 L699.8,154.6 L700.0,154.1 L700.1,153.6 L700.2,153.0 L700.3,152.5 L700.4,153.0 L700.5,153.6 L700.7,154.1 L700.8,154.6 L700.9,155.1 L701.0,155.6 L701.1,156.1 L701.3,156.6 L701.4,157.1 L701.5,157.7 L701.6,158.2 L701.7,158.7 L701.9,159.2 L702.0,159.7 L702.1,160.2 L702.2,160.7 L702.3,161.2 L702.5,161.8 L702.6,162.3 L702.7,162.8 L702.8,163.3 L702.9,163.8 L703.1,164.3 L703.2,164.8 L703.3,165.3 L703.4,165.8 L703.5,166.4 L703.6,166.9 L703.8,167.4 L703.9,167.9 L704.0,168.4 L704.1,168.9 L704.2,169.4 L704.4,169.9 L704.5,170.5 L704.6,171.0 L704.7,171.5 L704.8,172.0 L705.0,172.5 L705.1,173.0 L705.2,172.5 L705.3,172.0 L705.4,171.5 L705.6,171.0 L705.7,170.5 L705.8,169.9 L705.9,169.4 L706.0,168.9 L706.2,168.4 L706.3,167.9 L706.4,167.4 L706.5,166.9 L706.6,166.4 L706.7,165.8 L706.9,165.3 L707.0,164.8 L707.1,164.3 L707.2,163.8 L707.3,163.3 L707.5,162.8 L707.6,162.3 L707.7,161.8 L707.8,161.2 L707.9,160.7 L708.1,160.2 L708.2,159.7 L708.3,159.2 L708.4,158.7 L708.5,158.2 L708.7,157.7 L708.8,157.1 L708.9,156.6 L709.0,156.1 L709.1,155.6 L709.3,155.1 L709.4,154.6 L709.5,154.1 L709.6,153.6 L709.7,153.0 L709.9,152.5 L710.0,153.0 L710.1,153.6 L710.2,154.1 L710.3,154.6 L710.4,155.1 L710.6,155.6 L710.7,156.1 L710.8,156.6 L710.9,157.1 L711.0,157.7 L711.2,158.2 L711.3,158.7 L711.4,159.2 L711.5,159.7 L711.6,160.2 L711.8,160.7 L711.9,161.2 L712.0,161.8 L712.1,162.3 L712.2,162.8 L712.4,163.3 L712.5,163.8 L712.6,164.3 L712.7,164.8 L712.8,165.3 L713.0,165.8 L713.1,166.4 L713.2,166.9 L713.3,167.4 L713.4,167.9 L713.5,168.4 L713.7,168.9 L713.8,169.4 L713.9,169.9 L714.0,170.5 L714.1,171.0 L714.3,171.5 L714.4,172.0 L714.5,172.5 L714.6,173.0 L714.7,172.5 L714.9,172.0 L715.0,171.5 L715.1,171.0 L715.2,170.5 L715.3,169.9 L715.5,169.4 L715.6,168.9 L715.7,168.4 L715.8,167.9 L715.9,167.4 L716.1,166.9 L716.2,166.4 L716.3,165.8 L716.4,165.3 L716.5,164.8 L716.6,164.3 L716.8,163.8 L716.9,163.3 L717.0,162.8 L717.1,162.3 L717.2,161.8 L717.4,161.2 L717.5,160.7 L717.6,160.2 L717.7,159.7 L717.8,159.2 L718.0,158.7 L718.1,158.2 L718.2,157.7 L718.3,157.1 L718.4,156.6 L718.6,156.1 L718.7,155.6 L718.8,155.1 L718.9,154.6 L719.0,154.1 L719.2,153.6 L719.3,153.0 L719.4,152.5 L719.5,153.0 L719.6,153.6 L719.7,154.1 L719.9,154.6 L720.0,155.1 L720.1,155.6 L720.2,156.1 L720.3,156.6 L720.5,157.1 L720.6,157.7 L720.7,158.2 L720.8,158.7 L720.9,159.2 L721.1,159.7 L721.2,160.2 L721.3,160.7 L721.4,161.2 L721.5,161.8 L721.7,162.3 L721.8,162.8 L721.9,163.3 L722.0,163.8 L722.1,164.3 L722.3,164.8 L722.4,165.3 L722.5,165.8 L722.6,166.4 L722.7,166.9 L722.8,167.4 L723.0,167.9 L723.1,168.4 L723.2,168.9 L723.3,169.4 L723.4,169.9 L723.6,170.5 L723.7,171.0 L723.8,171.5 L723.9,172.0 L724.0,172.5 L724.2,173.0 L724.3,172.5 L724.4,172.0 L724.5,171.5 L724.6,171.0 L724.8,170.5 L724.9,169.9 L725.0,169.4 L725.1,168.9 L725.2,168.4 L725.4,167.9 L725.5,167.4 L725.6,166.9 L725.7,166.4 L725.8,165.8 L725.9,165.3 L726.1,164.8 L726.2,164.3 L726.3,163.8 L726.4,163.3 L726.5,162.8 L726.7,162.3 L726.8,161.8 L726.9,161.2 L727.0,160.7 L727.1,160.2 L727.3,159.7 L727.4,159.2 L727.5,158.7 L727.6,158.2 L727.7,157.7 L727.9,157.1 L728.0,156.6 L728.1,156.1 L728.2,155.6 L728.3,155.1 L728.5,154.6 L728.6,154.1 L728.7,153.6 L728.8,153.0 L728.9,152.5 L729.0,153.0 L729.2,153.6 L729.3,154.1 L729.4,154.6 L729.5,155.1 L729.6,155.6 L729.8,156.1 L729.9,156.6 L730.0,157.1 L730.1,157.7 L730.2,158.2 L730.4,158.7 L730.5,159.2 L730.6,159.7 L730.7,160.2 L730.8,160.7 L731.0,161.2 L731.1,161.8 L731.2,162.3 L731.3,162.8 L731.4,163.3 L731.6,163.8 L731.7,164.3 L731.8,164.8 L731.9,165.3 L732.0,165.8 L732.1,166.4 L732.3,166.9 L732.4,167.4 L732.5,167.9 L732.6,168.4 L732.7,168.9 L732.9,169.4 L733.0,169.9 L733.1,170.5 L733.2,171.0 L733.3,171.5 L733.5,172.0 L733.6,172.5 L733.7,173.0" fill="none" stroke="#d23a26" stroke-width="2.2" stroke-linejoin="round"/>
<path d="M733.7,165.5 L733.8,164.5 L733.9,163.4 L734.1,162.4 L734.2,161.3 L734.3,160.3 L734.4,159.2 L734.5,158.2 L734.7,157.1 L734.8,156.0 L734.9,155.0 L735.0,153.9 L735.1,152.9 L735.3,151.8 L735.4,150.8 L735.5,149.7 L735.6,148.7 L735.7,147.6 L735.8,146.6 L736.0,145.5 L736.1,144.5 L736.2,143.4 L736.3,142.3 L736.4,141.3 L736.6,140.2 L736.7,139.2 L736.8,138.1 L736.9,137.1 L737.0,136.0 L737.2,135.0 L737.3,133.9 L737.4,132.9 L737.5,131.8 L737.6,130.8 L737.8,129.7 L737.9,130.8 L738.0,131.8 L738.1,132.9 L738.2,133.9 L738.4,135.0 L738.5,136.0 L738.6,137.1 L738.7,138.1 L738.8,139.2 L738.9,140.2 L739.1,141.3 L739.2,142.3 L739.3,143.4 L739.4,144.5 L739.5,145.5 L739.7,146.6 L739.8,147.6 L739.9,148.7 L740.0,149.7 L740.1,150.8 L740.3,151.8 L740.4,152.9 L740.5,153.9 L740.6,155.0 L740.7,156.0 L740.9,157.1 L741.0,158.2 L741.1,159.2 L741.2,160.3 L741.3,161.3 L741.5,162.4 L741.6,163.4 L741.7,164.5 L741.8,165.5 L741.9,166.6 L742.0,167.6 L742.2,168.7 L742.3,169.7 L742.4,170.8 L742.5,171.8 L742.6,170.8 L742.8,169.7 L742.9,168.7 L743.0,167.6 L743.1,166.6 L743.2,165.5 L743.4,164.5 L743.5,163.4 L743.6,162.4 L743.7,161.3 L743.8,160.3 L744.0,159.2 L744.1,158.2 L744.2,157.1 L744.3,156.0 L744.4,155.0 L744.6,153.9 L744.7,152.9 L744.8,151.8 L744.9,150.8 L745.0,149.7 L745.1,148.7 L745.3,147.6 L745.4,146.6 L745.5,145.5 L745.6,144.5 L745.7,143.4 L745.9,142.3 L746.0,141.3 L746.1,140.2 L746.2,139.2 L746.3,138.1 L746.5,137.1 L746.6,136.0 L746.7,135.0 L746.8,133.9 L746.9,132.9 L747.1,131.8 L747.2,130.8 L747.3,129.7 L747.4,130.8 L747.5,131.8 L747.7,132.9 L747.8,133.9 L747.9,135.0 L748.0,136.0 L748.1,137.1 L748.2,138.1 L748.4,139.2 L748.5,140.2 L748.6,141.3 L748.7,142.3 L748.8,143.4 L749.0,144.5 L749.1,145.5 L749.2,146.6 L749.3,147.6 L749.4,148.7 L749.6,149.7 L749.7,150.8 L749.8,151.8 L749.9,152.9 L750.0,153.9 L750.2,155.0 L750.3,156.0 L750.4,157.1 L750.5,158.2 L750.6,159.2 L750.8,160.3 L750.9,161.3 L751.0,162.4 L751.1,163.4 L751.2,164.5 L751.3,165.5 L751.5,166.6 L751.6,167.6 L751.7,168.7 L751.8,169.7 L751.9,170.8 L752.1,171.8 L752.2,170.8 L752.3,169.7 L752.4,168.7 L752.5,167.6 L752.7,166.6 L752.8,165.5 L752.9,164.5 L753.0,163.4 L753.1,162.4 L753.3,161.3 L753.4,160.3 L753.5,159.2 L753.6,158.2 L753.7,157.1 L753.9,156.0 L754.0,155.0 L754.1,153.9 L754.2,152.9 L754.3,151.8 L754.4,150.8 L754.6,149.7 L754.7,148.7 L754.8,147.6 L754.9,146.6 L755.0,145.5 L755.2,144.5 L755.3,143.4 L755.4,142.3 L755.5,141.3 L755.6,140.2 L755.8,139.2 L755.9,138.1 L756.0,137.1 L756.1,136.0 L756.2,135.0 L756.4,133.9 L756.5,132.9 L756.6,131.8 L756.7,130.8 L756.8,129.7 L757.0,130.8 L757.1,131.8 L757.2,132.9 L757.3,133.9 L757.4,135.0 L757.5,136.0 L757.7,137.1 L757.8,138.1 L757.9,139.2 L758.0,140.2 L758.1,141.3 L758.3,142.3 L758.4,143.4 L758.5,144.5 L758.6,145.5 L758.7,146.6 L758.9,147.6 L759.0,148.7 L759.1,149.7 L759.2,150.8 L759.3,151.8 L759.5,152.9 L759.6,153.9 L759.7,155.0 L759.8,156.0 L759.9,157.1 L760.1,158.2 L760.2,159.2 L760.3,160.3 L760.4,161.3 L760.5,162.4 L760.7,163.4 L760.8,164.5 L760.9,165.5 L761.0,166.6 L761.1,167.6 L761.2,168.7 L761.4,169.7 L761.5,170.8 L761.6,171.8 L761.7,170.8 L761.8,169.7 L762.0,168.7 L762.1,167.6 L762.2,166.6 L762.3,165.5 L762.4,164.5 L762.6,163.4 L762.7,162.4 L762.8,161.3 L762.9,160.3 L763.0,159.2 L763.2,158.2 L763.3,157.1 L763.4,156.0 L763.5,155.0 L763.6,153.9 L763.8,152.9 L763.9,151.8 L764.0,150.8 L764.1,149.7 L764.2,148.7 L764.3,147.6 L764.5,146.6 L764.6,145.5 L764.7,144.5 L764.8,143.4 L764.9,142.3 L765.1,141.3 L765.2,140.2 L765.3,139.2 L765.4,138.1 L765.5,137.1 L765.7,136.0 L765.8,135.0 L765.9,133.9 L766.0,132.9 L766.1,131.8 L766.3,130.8 L766.4,129.7 L766.5,130.8 L766.6,131.8 L766.7,132.9 L766.9,133.9 L767.0,135.0 L767.1,136.0 L767.2,137.1 L767.3,138.1 L767.4,139.2 L767.6,140.2 L767.7,141.3 L767.8,142.3 L767.9,143.4 L768.0,144.5 L768.2,145.5 L768.3,146.6 L768.4,147.6 L768.5,148.7 L768.6,149.7 L768.8,150.8 L768.9,151.8 L769.0,152.9 L769.1,153.9 L769.2,155.0 L769.4,156.0 L769.5,157.1 L769.6,158.2 L769.7,159.2 L769.8,160.3 L770.0,161.3 L770.1,162.4 L770.2,163.4 L770.3,164.5 L770.4,165.5 L770.5,166.6 L770.7,167.6 L770.8,168.7 L770.9,169.7 L771.0,170.8 L771.1,171.8 L771.3,170.8 L771.4,169.7 L771.5,168.7 L771.6,167.6 L771.7,166.6 L771.9,165.5 L772.0,164.5 L772.1,163.4 L772.2,162.4 L772.3,161.3 L772.5,160.3 L772.6,159.2 L772.7,158.2 L772.8,157.1 L772.9,156.0 L773.1,155.0 L773.2,153.9 L773.3,152.9 L773.4,151.8 L773.5,150.8 L773.6,149.7 L773.8,148.7 L773.9,147.6 L774.0,146.6 L774.1,145.5 L774.2,144.5 L774.4,143.4 L774.5,142.3 L774.6,141.3 L774.7,140.2 L774.8,139.2 L775.0,138.1 L775.1,137.1 L775.2,136.0 L775.3,135.0 L775.4,133.9 L775.6,132.9 L775.7,131.8 L775.8,130.8 L775.9,129.7 L776.0,130.8 L776.2,131.8 L776.3,132.9 L776.4,133.9 L776.5,135.0 L776.6,136.0 L776.7,137.1 L776.9,138.1 L777.0,139.2 L777.1,140.2 L777.2,141.3 L777.3,142.3 L777.5,143.4 L777.6,144.5 L777.7,145.5 L777.8,146.6 L777.9,147.6 L778.1,148.7 L778.2,149.7 L778.3,150.8 L778.4,151.8 L778.5,152.9 L778.7,153.9 L778.8,155.0 L778.9,156.0 L779.0,157.1 L779.1,158.2 L779.3,159.2 L779.4,160.3 L779.5,161.3 L779.6,162.4 L779.7,163.4 L779.8,164.5 L780.0,165.5 L780.1,166.6 L780.2,167.6 L780.3,168.7 L780.4,169.7 L780.6,170.8 L780.7,171.8 L780.8,170.8 L780.9,169.7 L781.0,168.7 L781.2,167.6 L781.3,166.6 L781.4,165.5" fill="none" stroke="#3d67a6" stroke-width="2.2" stroke-linejoin="round"/>
<path d="M781.4,171.3 L781.5,169.4 L781.6,167.5 L781.8,165.7 L781.9,163.8 L782.0,162.0 L782.1,160.1 L782.2,158.3 L782.4,156.4 L782.5,154.5 L782.6,152.7 L782.7,150.8 L782.8,149.0 L783.0,147.1 L783.1,145.2 L783.2,143.4 L783.3,141.5 L783.4,139.7 L783.5,137.8 L783.7,135.9 L783.8,134.1 L783.9,132.2 L784.0,130.4 L784.1,128.5 L784.3,126.7 L784.4,124.8 L784.5,122.9 L784.6,121.1 L784.7,119.2 L784.9,117.4 L785.0,115.5 L785.1,113.6 L785.2,111.8 L785.3,109.9 L785.5,108.1 L785.6,106.2 L785.7,104.4 L785.8,102.5 L785.9,100.6 L786.1,98.8 L786.2,96.9 L786.3,98.8 L786.4,100.6 L786.5,102.5 L786.6,104.4 L786.8,106.2 L786.9,108.1 L787.0,109.9 L787.1,111.8 L787.2,113.6 L787.4,115.5 L787.5,117.4 L787.6,119.2 L787.7,121.1 L787.8,122.9 L788.0,124.8 L788.1,126.7 L788.2,128.5 L788.3,130.4 L788.4,132.2 L788.6,134.1 L788.7,135.9 L788.8,137.8 L788.9,139.7 L789.0,141.5 L789.2,143.4 L789.3,145.2 L789.4,147.1 L789.5,149.0 L789.6,150.8 L789.7,152.7 L789.9,154.5 L790.0,156.4 L790.1,158.3 L790.2,160.1 L790.3,162.0 L790.5,163.8 L790.6,165.7 L790.7,167.5 L790.8,169.4 L790.9,171.3 L791.1,169.4 L791.2,167.5 L791.3,165.7 L791.4,163.8 L791.5,162.0 L791.7,160.1 L791.8,158.3 L791.9,156.4 L792.0,154.5 L792.1,152.7 L792.3,150.8 L792.4,149.0 L792.5,147.1 L792.6,145.2 L792.7,143.4 L792.8,141.5 L793.0,139.7 L793.1,137.8 L793.2,135.9 L793.3,134.1 L793.4,132.2 L793.6,130.4 L793.7,128.5 L793.8,126.7 L793.9,124.8 L794.0,122.9 L794.2,121.1 L794.3,119.2 L794.4,117.4 L794.5,115.5 L794.6,113.6 L794.8,111.8 L794.9,109.9 L795.0,108.1 L795.1,106.2 L795.2,104.4 L795.4,102.5 L795.5,100.6 L795.6,98.8 L795.7,96.9 L795.8,98.8 L795.9,100.6 L796.1,102.5 L796.2,104.4 L796.3,106.2 L796.4,108.1 L796.5,109.9 L796.7,111.8 L796.8,113.6 L796.9,115.5 L797.0,117.4 L797.1,119.2 L797.3,121.1 L797.4,122.9 L797.5,124.8 L797.6,126.7 L797.7,128.5 L797.9,130.4 L798.0,132.2 L798.1,134.1 L798.2,135.9 L798.3,137.8 L798.5,139.7 L798.6,141.5 L798.7,143.4 L798.8,145.2 L798.9,147.1 L799.0,149.0 L799.2,150.8 L799.3,152.7 L799.4,154.5 L799.5,156.4 L799.6,158.3 L799.8,160.1 L799.9,162.0 L800.0,163.8 L800.1,165.7 L800.2,167.5 L800.4,169.4 L800.5,171.3 L800.6,169.4 L800.7,167.5 L800.8,165.7 L801.0,163.8 L801.1,162.0 L801.2,160.1 L801.3,158.3 L801.4,156.4 L801.6,154.5 L801.7,152.7 L801.8,150.8 L801.9,149.0 L802.0,147.1 L802.1,145.2 L802.3,143.4 L802.4,141.5 L802.5,139.7 L802.6,137.8 L802.7,135.9 L802.9,134.1 L803.0,132.2 L803.1,130.4 L803.2,128.5 L803.3,126.7 L803.5,124.8 L803.6,122.9 L803.7,121.1 L803.8,119.2 L803.9,117.4 L804.1,115.5 L804.2,113.6 L804.3,111.8 L804.4,109.9 L804.5,108.1 L804.7,106.2 L804.8,104.4 L804.9,102.5 L805.0,100.6 L805.1,98.8 L805.2,96.9 L805.4,98.8 L805.5,100.6 L805.6,102.5 L805.7,104.4 L805.8,106.2 L806.0,108.1 L806.1,109.9 L806.2,111.8 L806.3,113.6 L806.4,115.5 L806.6,117.4 L806.7,119.2 L806.8,121.1 L806.9,122.9 L807.0,124.8 L807.2,126.7 L807.3,128.5 L807.4,130.4 L807.5,132.2 L807.6,134.1 L807.8,135.9 L807.9,137.8 L808.0,139.7 L808.1,141.5 L808.2,143.4 L808.4,145.2 L808.5,147.1 L808.6,149.0 L808.7,150.8 L808.8,152.7 L808.9,154.5 L809.1,156.4 L809.2,158.3 L809.3,160.1 L809.4,162.0 L809.5,163.8 L809.7,165.7 L809.8,167.5 L809.9,169.4 L810.0,171.3 L810.1,169.4 L810.3,167.5 L810.4,165.7 L810.5,163.8 L810.6,162.0 L810.7,160.1 L810.9,158.3 L811.0,156.4 L811.1,154.5 L811.2,152.7 L811.3,150.8 L811.5,149.0 L811.6,147.1 L811.7,145.2 L811.8,143.4 L811.9,141.5 L812.0,139.7 L812.2,137.8 L812.3,135.9 L812.4,134.1 L812.5,132.2 L812.6,130.4 L812.8,128.5 L812.9,126.7 L813.0,124.8 L813.1,122.9 L813.2,121.1 L813.4,119.2 L813.5,117.4 L813.6,115.5 L813.7,113.6 L813.8,111.8 L814.0,109.9 L814.1,108.1 L814.2,106.2 L814.3,104.4 L814.4,102.5 L814.6,100.6 L814.7,98.8 L814.8,96.9 L814.9,98.8 L815.0,100.6 L815.1,102.5 L815.3,104.4 L815.4,106.2 L815.5,108.1 L815.6,109.9 L815.7,111.8 L815.9,113.6 L816.0,115.5 L816.1,117.4 L816.2,119.2 L816.3,121.1 L816.5,122.9 L816.6,124.8 L816.7,126.7 L816.8,128.5 L816.9,130.4 L817.1,132.2 L817.2,134.1 L817.3,135.9 L817.4,137.8 L817.5,139.7 L817.7,141.5 L817.8,143.4 L817.9,145.2 L818.0,147.1 L818.1,149.0 L818.2,150.8 L818.4,152.7 L818.5,154.5 L818.6,156.4 L818.7,158.3 L818.8,160.1 L819.0,162.0 L819.1,163.8 L819.2,165.7 L819.3,167.5 L819.4,169.4 L819.6,171.3 L819.7,169.4 L819.8,167.5 L819.9,165.7 L820.0,163.8 L820.2,162.0 L820.3,160.1 L820.4,158.3 L820.5,156.4 L820.6,154.5 L820.8,152.7 L820.9,150.8 L821.0,149.0 L821.1,147.1 L821.2,145.2 L821.3,143.4 L821.5,141.5 L821.6,139.7 L821.7,137.8 L821.8,135.9 L821.9,134.1 L822.1,132.2 L822.2,130.4 L822.3,128.5 L822.4,126.7 L822.5,124.8 L822.7,122.9 L822.8,121.1 L822.9,119.2 L823.0,117.4 L823.1,115.5 L823.3,113.6 L823.4,111.8 L823.5,109.9 L823.6,108.1 L823.7,106.2 L823.9,104.4 L824.0,102.5 L824.1,100.6 L824.2,98.8 L824.3,96.9 L824.4,98.8 L824.6,100.6 L824.7,102.5 L824.8,104.4 L824.9,106.2 L825.0,108.1 L825.2,109.9 L825.3,111.8 L825.4,113.6 L825.5,115.5 L825.6,117.4 L825.8,119.2 L825.9,121.1 L826.0,122.9 L826.1,124.8 L826.2,126.7 L826.4,128.5 L826.5,130.4 L826.6,132.2 L826.7,134.1 L826.8,135.9 L827.0,137.8 L827.1,139.7 L827.2,141.5 L827.3,143.4 L827.4,145.2 L827.5,147.1 L827.7,149.0 L827.8,150.8 L827.9,152.7 L828.0,154.5 L828.1,156.4 L828.3,158.3 L828.4,160.1 L828.5,162.0 L828.6,163.8 L828.7,165.7 L828.9,167.5 L829.0,169.4 L829.1,171.3" fill="none" stroke="#f2c23c" stroke-width="2.2" stroke-linejoin="round"/>
<path d="M829.1,161.4 L829.2,160.5 L829.2,159.5 L829.3,158.5 L829.3,157.5 L829.4,156.4 L829.5,155.3 L829.5,154.2 L829.6,153.0 L829.6,151.8 L829.7,150.6 L829.8,149.3 L829.8,148.1 L829.9,146.8 L829.9,145.4 L830.0,144.1 L830.1,142.7 L830.1,141.3 L830.2,139.8 L830.2,138.4 L830.3,136.9 L830.4,135.3 L830.4,133.8 L830.5,132.2 L830.5,130.7 L830.6,129.0 L830.7,127.4 L830.7,125.7 L830.8,124.1 L830.8,122.4 L830.9,120.6 L830.9,118.9 L831.0,117.1 L831.1,115.3 L831.1,113.5 L831.2,111.6 L831.2,109.8 L831.3,107.9 L831.4,106.0 L831.4,104.1 L831.5,102.1 L831.5,100.1 L831.6,98.1 L831.7,96.1 L831.7,94.1 L831.8,92.1 L831.8,90.0 L831.9,87.9 L832.0,85.8 L832.0,83.6 L832.1,81.5 L832.1,79.3 L832.2,77.1 L832.3,74.9 L832.3,72.7 L832.4,70.4 L832.4,68.2 L832.5,65.9 L832.6,63.6 L832.6,61.2 L832.7,58.9 L832.7,56.5 L832.8,54.2 L832.9,51.8 L832.9,49.3 L833.0,46.9 L833.0,44.5 L833.1,43.0 L833.2,45.4 L833.2,47.9 L833.3,50.3 L833.3,52.7 L833.4,55.1 L833.5,57.5 L833.5,59.8 L833.6,62.2 L833.6,64.5 L833.7,66.8 L833.8,69.1 L833.8,71.3 L833.9,73.6 L833.9,75.8 L834.0,78.0 L834.0,80.2 L834.1,82.4 L834.2,84.5 L834.2,86.6 L834.3,88.7 L834.3,90.8 L834.4,92.9 L834.5,94.9 L834.5,96.9 L834.6,98.9 L834.6,100.9 L834.7,102.9 L834.8,104.8 L834.8,106.7 L834.9,108.6 L834.9,110.5 L835.0,112.4 L835.1,114.2 L835.1,116.0 L835.2,117.8 L835.2,119.6 L835.3,121.3 L835.4,123.0 L835.4,124.7 L835.5,126.4 L835.5,128.1 L835.6,129.7 L835.7,131.3 L835.7,132.9 L835.8,134.4 L835.8,136.0 L835.9,137.5 L836.0,138.9 L836.0,140.4 L836.1,141.8 L836.1,143.2 L836.2,144.6 L836.3,146.0 L836.3,147.3 L836.4,148.6 L836.4,149.8 L836.5,151.1 L836.6,152.3 L836.6,153.5 L836.7,154.6 L836.7,155.7 L836.8,156.8 L836.9,157.9 L836.9,158.9 L837.0,159.9 L837.0,160.9 L837.1,161.8 L837.1,162.7 L837.2,163.6 L837.3,164.4 L837.3,165.2 L837.4,165.9 L837.4,166.6 L837.5,167.3 L837.6,167.9 L837.6,168.4 L837.7,169.0 L837.7,169.4 L837.8,169.8 L837.9,170.2 L837.9,170.4 L838.0,170.6 L838.0,170.7 L838.1,170.5 L838.2,170.2 L838.2,169.9 L838.3,169.5 L838.3,169.1 L838.4,168.5 L838.5,168.0 L838.5,167.4 L838.6,166.7 L838.6,166.0 L838.7,165.3 L838.8,164.5 L838.8,163.7 L838.9,162.9 L838.9,162.0 L839.0,161.1 L839.1,160.1 L839.1,159.1 L839.2,158.1 L839.2,157.0 L839.3,156.0 L839.4,154.8 L839.4,153.7 L839.5,152.5 L839.5,151.3 L839.6,150.1 L839.7,148.8 L839.7,147.5 L839.8,146.2 L839.8,144.9 L839.9,143.5 L840.0,142.1 L840.0,140.7 L840.1,139.2 L840.1,137.8 L840.2,136.3 L840.2,134.7 L840.3,133.2 L840.4,131.6 L840.4,130.0 L840.5,128.4 L840.5,126.7 L840.6,125.1 L840.7,123.4 L840.7,121.7 L840.8,119.9 L840.8,118.2 L840.9,116.4 L841.0,114.6 L841.0,112.7 L841.1,110.9 L841.1,109.0 L841.2,107.1 L841.3,105.2 L841.3,103.3 L841.4,101.3 L841.4,99.3 L841.5,97.3 L841.6,95.3 L841.6,93.3 L841.7,91.2 L841.7,89.1 L841.8,87.0 L841.9,84.9 L841.9,82.8 L842.0,80.6 L842.0,78.4 L842.1,76.2 L842.2,74.0 L842.2,71.8 L842.3,69.5 L842.3,67.3 L842.4,65.0 L842.5,62.6 L842.5,60.3 L842.6,58.0 L842.6,55.6 L842.7,53.2 L842.8,50.8 L842.8,48.4 L842.9,45.9 L842.9,43.5 L843.0,44.0 L843.1,46.4 L843.1,48.9 L843.2,51.3 L843.2,53.7 L843.3,56.1 L843.4,58.4 L843.4,60.8 L843.5,63.1 L843.5,65.4 L843.6,67.7 L843.6,70.0 L843.7,72.2 L843.8,74.5 L843.8,76.7 L843.9,78.9 L843.9,81.1 L844.0,83.2 L844.1,85.3 L844.1,87.5 L844.2,89.6 L844.2,91.6 L844.3,93.7 L844.4,95.7 L844.4,97.7 L844.5,99.7 L844.5,101.7 L844.6,103.7 L844.7,105.6 L844.7,107.5 L844.8,109.4 L844.8,111.3 L844.9,113.1 L845.0,114.9 L845.0,116.7 L845.1,118.5 L845.1,120.3 L845.2,122.0 L845.3,123.7 L845.3,125.4 L845.4,127.1 L845.4,128.7 L845.5,130.3 L845.6,131.9 L845.6,133.5 L845.7,135.0 L845.7,136.6 L845.8,138.1 L845.9,139.5 L845.9,141.0 L846.0,142.4 L846.0,143.8 L846.1,145.1 L846.2,146.5 L846.2,147.8 L846.3,149.1 L846.3,150.3 L846.4,151.6 L846.5,152.8 L846.5,153.9 L846.6,155.1 L846.6,156.2 L846.7,157.3 L846.7,158.3 L846.8,159.3 L846.9,160.3 L846.9,161.3 L847.0,162.2 L847.0,163.0 L847.1,163.9 L847.2,164.7 L847.2,165.5 L847.3,166.2 L847.3,166.9 L847.4,167.5 L847.5,168.1 L847.5,168.7 L847.6,169.1 L847.6,169.6 L847.7,170.0 L847.8,170.3 L847.8,170.5 L847.9,170.7 L847.9,170.6 L848.0,170.4 L848.1,170.1 L848.1,169.8 L848.2,169.3 L848.2,168.9 L848.3,168.3 L848.4,167.8 L848.4,167.1 L848.5,166.5 L848.5,165.8 L848.6,165.0 L848.7,164.2 L848.7,163.4 L848.8,162.5 L848.8,161.6 L848.9,160.7 L849.0,159.7 L849.0,158.7 L849.1,157.7 L849.1,156.6 L849.2,155.5 L849.3,154.4 L849.3,153.2 L849.4,152.0 L849.4,150.8 L849.5,149.6 L849.6,148.3 L849.6,147.0 L849.7,145.7 L849.7,144.3 L849.8,142.9 L849.8,141.5 L849.9,140.1 L850.0,138.6 L850.0,137.2 L850.1,135.7 L850.1,134.1 L850.2,132.6 L850.3,131.0 L850.3,129.4 L850.4,127.7 L850.4,126.1 L850.5,124.4 L850.6,122.7 L850.6,121.0 L850.7,119.2 L850.7,117.5 L850.8,115.7 L850.9,113.8 L850.9,112.0 L851.0,110.1 L851.0,108.3 L851.1,106.4 L851.2,104.4 L851.2,102.5 L851.3,100.5 L851.3,98.5 L851.4,96.5 L851.5,94.5 L851.5,92.5 L851.6,90.4 L851.6,88.3 L851.7,86.2 L851.8,84.1 L851.8,81.9 L851.9,79.8 L851.9,77.6 L852.0,75.4 L852.1,73.1 L852.1,70.9 L852.2,68.6 L852.2,66.3 L852.3,64.0 L852.4,61.7 L852.4,59.4 L852.5,57.0 L852.5,54.6 L852.6,52.2 L852.7,49.8 L852.7,47.4 L852.8,44.9 L852.8,42.5 L852.9,44.9 L852.9,47.4 L853.0,49.8 L853.1,52.2 L853.1,54.6 L853.2,57.0 L853.2,59.4 L853.3,61.7 L853.4,64.0 L853.4,66.3 L853.5,68.6 L853.5,70.9 L853.6,73.1 L853.7,75.4 L853.7,77.6 L853.8,79.8 L853.8,81.9 L853.9,84.1 L854.0,86.2 L854.0,88.3 L854.1,90.4 L854.1,92.5 L854.2,94.5 L854.3,96.5 L854.3,98.5 L854.4,100.5 L854.4,102.5 L854.5,104.4 L854.6,106.4 L854.6,108.3 L854.7,110.1 L854.7,112.0 L854.8,113.8 L854.9,115.7 L854.9,117.5 L855.0,119.2 L855.0,121.0 L855.1,122.7 L855.2,124.4 L855.2,126.1 L855.3,127.7 L855.3,129.4 L855.4,131.0 L855.5,132.6 L855.5,134.1 L855.6,135.7 L855.6,137.2 L855.7,138.6 L855.8,140.1 L855.8,141.5 L855.9,142.9 L855.9,144.3 L856.0,145.7 L856.1,147.0 L856.1,148.3 L856.2,149.6 L856.2,150.8 L856.3,152.0 L856.3,153.2 L856.4,154.4 L856.5,155.5 L856.5,156.6 L856.6,157.7 L856.6,158.7 L856.7,159.7 L856.8,160.7 L856.8,161.6 L856.9,162.5 L856.9,163.4 L857.0,164.2 L857.1,165.0 L857.1,165.8 L857.2,166.5 L857.2,167.1 L857.3,167.8 L857.4,168.3 L857.4,168.9 L857.5,169.3 L857.5,169.8 L857.6,170.1 L857.7,170.4 L857.7,170.6 L857.8,170.7 L857.8,170.5 L857.9,170.3 L858.0,170.0 L858.0,169.6 L858.1,169.1 L858.1,168.7 L858.2,168.1 L858.3,167.5 L858.3,166.9 L858.4,166.2 L858.4,165.5 L858.5,164.7 L858.6,163.9 L858.6,163.0 L858.7,162.2 L858.7,161.3 L858.8,160.3 L858.9,159.3 L858.9,158.3 L859.0,157.3 L859.0,156.2 L859.1,155.1 L859.2,153.9 L859.2,152.8 L859.3,151.6 L859.3,150.3 L859.4,149.1 L859.4,147.8 L859.5,146.5 L859.6,145.1 L859.6,143.8 L859.7,142.4 L859.7,141.0 L859.8,139.5 L859.9,138.1 L859.9,136.6 L860.0,135.0 L860.0,133.5 L860.1,131.9 L860.2,130.3 L860.2,128.7 L860.3,127.1 L860.3,125.4 L860.4,123.7 L860.5,122.0 L860.5,120.3 L860.6,118.5 L860.6,116.7 L860.7,114.9 L860.8,113.1 L860.8,111.3 L860.9,109.4 L860.9,107.5 L861.0,105.6 L861.1,103.7 L861.1,101.7 L861.2,99.7 L861.2,97.7 L861.3,95.7 L861.4,93.7 L861.4,91.6 L861.5,89.6 L861.5,87.5 L861.6,85.3 L861.7,83.2 L861.7,81.1 L861.8,78.9 L861.8,76.7 L861.9,74.5 L862.0,72.2 L862.0,70.0 L862.1,67.7 L862.1,65.4 L862.2,63.1 L862.3,60.8 L862.3,58.4 L862.4,56.1 L862.4,53.7 L862.5,51.3 L862.5,48.9 L862.6,46.4 L862.7,44.0 L862.7,43.5 L862.8,45.9 L862.8,48.4 L862.9,50.8 L863.0,53.2 L863.0,55.6 L863.1,58.0 L863.1,60.3 L863.2,62.6 L863.3,65.0 L863.3,67.3 L863.4,69.5 L863.4,71.8 L863.5,74.0 L863.6,76.2 L863.6,78.4 L863.7,80.6 L863.7,82.8 L863.8,84.9 L863.9,87.0 L863.9,89.1 L864.0,91.2 L864.0,93.3 L864.1,95.3 L864.2,97.3 L864.2,99.3 L864.3,101.3 L864.3,103.3 L864.4,105.2 L864.5,107.1 L864.5,109.0 L864.6,110.9 L864.6,112.7 L864.7,114.6 L864.8,116.4 L864.8,118.2 L864.9,119.9 L864.9,121.7 L865.0,123.4 L865.1,125.1 L865.1,126.7 L865.2,128.4 L865.2,130.0 L865.3,131.6 L865.4,133.2 L865.4,134.7 L865.5,136.3 L865.5,137.8 L865.6,139.2 L865.7,140.7 L865.7,142.1 L865.8,143.5 L865.8,144.9 L865.9,146.2 L865.9,147.5 L866.0,148.8 L866.1,150.1 L866.1,151.3 L866.2,152.5 L866.2,153.7 L866.3,154.8 L866.4,156.0 L866.4,157.0 L866.5,158.1 L866.5,159.1 L866.6,160.1 L866.7,161.1 L866.7,162.0 L866.8,162.9 L866.8,163.7 L866.9,164.5 L867.0,165.3 L867.0,166.0 L867.1,166.7 L867.1,167.4 L867.2,168.0 L867.3,168.5 L867.3,169.1 L867.4,169.5 L867.4,169.9 L867.5,170.2 L867.6,170.5 L867.6,170.7 L867.7,170.6 L867.7,170.4 L867.8,170.2 L867.9,169.8 L867.9,169.4 L868.0,169.0 L868.0,168.4 L868.1,167.9 L868.2,167.3 L868.2,166.6 L868.3,165.9 L868.3,165.2 L868.4,164.4 L868.5,163.6 L868.5,162.7 L868.6,161.8 L868.6,160.9 L868.7,159.9 L868.8,158.9 L868.8,157.9 L868.9,156.8 L868.9,155.7 L869.0,154.6 L869.0,153.5 L869.1,152.3 L869.2,151.1 L869.2,149.8 L869.3,148.6 L869.3,147.3 L869.4,146.0 L869.5,144.6 L869.5,143.2 L869.6,141.8 L869.6,140.4 L869.7,138.9 L869.8,137.5 L869.8,136.0 L869.9,134.4 L869.9,132.9 L870.0,131.3 L870.1,129.7 L870.1,128.1 L870.2,126.4 L870.2,124.7 L870.3,123.0 L870.4,121.3 L870.4,119.6 L870.5,117.8 L870.5,116.0 L870.6,114.2 L870.7,112.4 L870.7,110.5 L870.8,108.6 L870.8,106.7 L870.9,104.8 L871.0,102.9 L871.0,100.9 L871.1,98.9 L871.1,96.9 L871.2,94.9 L871.3,92.9 L871.3,90.8 L871.4,88.7 L871.4,86.6 L871.5,84.5 L871.6,82.4 L871.6,80.2 L871.7,78.0 L871.7,75.8 L871.8,73.6 L871.9,71.3 L871.9,69.1 L872.0,66.8 L872.0,64.5 L872.1,62.2 L872.1,59.8 L872.2,57.5 L872.3,55.1 L872.3,52.7 L872.4,50.3 L872.4,47.9 L872.5,45.4 L872.6,43.0 L872.6,44.5 L872.7,46.9 L872.7,49.3 L872.8,51.8 L872.9,54.2 L872.9,56.5 L873.0,58.9 L873.0,61.2 L873.1,63.6 L873.2,65.9 L873.2,68.2 L873.3,70.4 L873.3,72.7 L873.4,74.9 L873.5,77.1 L873.5,79.3 L873.6,81.5 L873.6,83.6 L873.7,85.8 L873.8,87.9 L873.8,90.0 L873.9,92.1 L873.9,94.1 L874.0,96.1 L874.1,98.1 L874.1,100.1 L874.2,102.1 L874.2,104.1 L874.3,106.0 L874.4,107.9 L874.4,109.8 L874.5,111.6 L874.5,113.5 L874.6,115.3 L874.7,117.1 L874.7,118.9 L874.8,120.6 L874.8,122.4 L874.9,124.1 L875.0,125.7 L875.0,127.4 L875.1,129.0 L875.1,130.7 L875.2,132.2 L875.2,133.8 L875.3,135.3 L875.4,136.9 L875.4,138.4 L875.5,139.8 L875.5,141.3 L875.6,142.7 L875.7,144.1 L875.7,145.4 L875.8,146.8 L875.8,148.1 L875.9,149.3 L876.0,150.6 L876.0,151.8 L876.1,153.0 L876.1,154.2 L876.2,155.3 L876.3,156.4 L876.3,157.5 L876.4,158.5 L876.4,159.5 L876.5,160.5 L876.6,161.4 L876.6,162.3 L876.7,163.2 L876.7,164.1 L876.8,164.8" fill="none" stroke="#5dba7a" stroke-width="2.2" stroke-linejoin="round"/>
<path d="M829.1,161.4 L829.2,160.5 L829.2,159.5 L829.3,158.5 L829.3,157.5 L829.4,156.4 L829.5,155.3 L829.5,154.2 L829.6,153.0 L829.6,151.8 L829.7,150.6 L829.8,149.3 L829.8,148.1 L829.9,146.8 L829.9,145.4 L830.0,144.1 L830.1,142.7 L830.1,141.3 L830.2,139.8 L830.2,138.4 L830.3,136.9 L830.4,135.3 L830.4,133.8 L830.5,132.2 L830.5,130.7 L830.6,129.0 L830.7,127.4 L830.7,125.7 L830.8,124.1 L830.8,122.4 L830.9,120.6 L830.9,118.9 L831.0,117.1 L831.1,115.3 L831.1,113.5 L831.2,111.6 L831.2,109.8 L831.3,107.9 L831.4,106.0 L831.4,104.1 L831.5,102.1 L831.5,100.1 L831.6,98.1 L831.7,96.1 L831.7,94.1 L831.8,92.1 L831.8,90.0 L831.9,87.9 L832.0,85.8 L832.0,83.6 L832.1,81.5 L832.1,79.3 L832.2,77.1 L832.3,74.9 L832.3,72.7 L832.4,70.4 L832.4,68.2 L832.5,65.9 L832.6,63.6 L832.6,61.2 L832.7,58.9 L832.7,56.5 L832.8,54.2 L832.9,51.8 L832.9,49.3 L833.0,46.9 L833.0,44.5 L833.1,43.0 L833.2,45.4 L833.2,47.9 L833.3,50.3 L833.3,52.7 L833.4,55.1 L833.5,57.5 L833.5,59.8 L833.6,62.2 L833.6,64.5 L833.7,66.8 L833.8,69.1 L833.8,71.3 L833.9,73.6 L833.9,75.8 L834.0,78.0 L834.0,80.2 L834.1,82.4 L834.2,84.5 L834.2,86.6 L834.3,88.7 L834.3,90.8 L834.4,92.9 L834.5,94.9 L834.5,96.9 L834.6,98.9 L834.6,100.9 L834.7,102.9 L834.8,104.8 L834.8,106.7 L834.9,108.6 L834.9,110.5 L835.0,112.4 L835.1,114.2 L835.1,116.0 L835.2,117.8 L835.2,119.6 L835.3,121.3 L835.4,123.0 L835.4,124.7 L835.5,126.4 L835.5,128.1 L835.6,129.7 L835.7,131.3 L835.7,132.9 L835.8,134.4 L835.8,136.0 L835.9,137.5 L836.0,138.9 L836.0,140.4 L836.1,141.8 L836.1,143.2 L836.2,144.6 L836.3,146.0 L836.3,147.3 L836.4,148.6 L836.4,149.8 L836.5,151.1 L836.6,152.3 L836.6,153.5 L836.7,154.6 L836.7,155.7 L836.8,156.8 L836.9,157.9 L836.9,158.9 L837.0,159.9 L837.0,160.9 L837.1,161.8 L837.1,162.7 L837.2,163.6 L837.3,164.4 L837.3,165.2 L837.4,165.9 L837.4,166.6 L837.5,167.3 L837.6,167.9 L837.6,168.4 L837.7,169.0 L837.7,169.4 L837.8,169.8 L837.9,170.2 L837.9,170.4 L838.0,170.6 L838.0,170.7 L838.1,170.5 L838.2,170.2 L838.2,169.9 L838.3,169.5 L838.3,169.1 L838.4,168.5 L838.5,168.0 L838.5,167.4 L838.6,166.7 L838.6,166.0 L838.7,165.3 L838.8,164.5 L838.8,163.7 L838.9,162.9 L838.9,162.0 L839.0,161.1 L839.1,160.1 L839.1,159.1 L839.2,158.1 L839.2,157.0 L839.3,156.0 L839.4,154.8 L839.4,153.7 L839.5,152.5 L839.5,151.3 L839.6,150.1 L839.7,148.8 L839.7,147.5 L839.8,146.2 L839.8,144.9 L839.9,143.5 L840.0,142.1 L840.0,140.7 L840.1,139.2 L840.1,137.8 L840.2,136.3 L840.2,134.7 L840.3,133.2 L840.4,131.6 L840.4,130.0 L840.5,128.4 L840.5,126.7 L840.6,125.1 L840.7,123.4 L840.7,121.7 L840.8,119.9 L840.8,118.2 L840.9,116.4 L841.0,114.6 L841.0,112.7 L841.1,110.9 L841.1,109.0 L841.2,107.1 L841.3,105.2 L841.3,103.3 L841.4,101.3 L841.4,99.3 L841.5,97.3 L841.6,95.3 L841.6,93.3 L841.7,91.2 L841.7,89.1 L841.8,87.0 L841.9,84.9 L841.9,82.8 L842.0,80.6 L842.0,78.4 L842.1,76.2 L842.2,74.0 L842.2,71.8 L842.3,69.5 L842.3,67.3 L842.4,65.0 L842.5,62.6 L842.5,60.3 L842.6,58.0 L842.6,55.6 L842.7,53.2 L842.8,50.8 L842.8,48.4 L842.9,45.9 L842.9,43.5 L843.0,44.0 L843.1,46.4 L843.1,48.9 L843.2,51.3 L843.2,53.7 L843.3,56.1 L843.4,58.4 L843.4,60.8 L843.5,63.1 L843.5,65.4 L843.6,67.7 L843.6,70.0 L843.7,72.2 L843.8,74.5 L843.8,76.7 L843.9,78.9 L843.9,81.1 L844.0,83.2 L844.1,85.3 L844.1,87.5 L844.2,89.6 L844.2,91.6 L844.3,93.7 L844.4,95.7 L844.4,97.7 L844.5,99.7 L844.5,101.7 L844.6,103.7 L844.7,105.6 L844.7,107.5 L844.8,109.4 L844.8,111.3 L844.9,113.1 L845.0,114.9 L845.0,116.7 L845.1,118.5 L845.1,120.3 L845.2,122.0 L845.3,123.7 L845.3,125.4 L845.4,127.1 L845.4,128.7 L845.5,130.3 L845.6,131.9 L845.6,133.5 L845.7,135.0 L845.7,136.6 L845.8,138.1 L845.9,139.5 L845.9,141.0 L846.0,142.4 L846.0,143.8 L846.1,145.1 L846.2,146.5 L846.2,147.8 L846.3,149.1 L846.3,150.3 L846.4,151.6 L846.5,152.8 L846.5,153.9 L846.6,155.1 L846.6,156.2 L846.7,157.3 L846.7,158.3 L846.8,159.3 L846.9,160.3 L846.9,161.3 L847.0,162.2 L847.0,163.0 L847.1,163.9 L847.2,164.7 L847.2,165.5 L847.3,166.2 L847.3,166.9 L847.4,167.5 L847.5,168.1 L847.5,168.7 L847.6,169.1 L847.6,169.6 L847.7,170.0 L847.8,170.3 L847.8,170.5 L847.9,170.7 L847.9,170.6 L848.0,170.4 L848.1,170.1 L848.1,169.8 L848.2,169.3 L848.2,168.9 L848.3,168.3 L848.4,167.8 L848.4,167.1 L848.5,166.5 L848.5,165.8 L848.6,165.0 L848.7,164.2 L848.7,163.4 L848.8,162.5 L848.8,161.6 L848.9,160.7 L849.0,159.7 L849.0,158.7 L849.1,157.7 L849.1,156.6 L849.2,155.5 L849.3,154.4 L849.3,153.2 L849.4,152.0 L849.4,150.8 L849.5,149.6 L849.6,148.3 L849.6,147.0 L849.7,145.7 L849.7,144.3 L849.8,142.9 L849.8,141.5 L849.9,140.1 L850.0,138.6 L850.0,137.2 L850.1,135.7 L850.1,134.1 L850.2,132.6 L850.3,131.0 L850.3,129.4 L850.4,127.7 L850.4,126.1 L850.5,124.4 L850.6,122.7 L850.6,121.0 L850.7,119.2 L850.7,117.5 L850.8,115.7 L850.9,113.8 L850.9,112.0 L851.0,110.1 L851.0,108.3 L851.1,106.4 L851.2,104.4 L851.2,102.5 L851.3,100.5 L851.3,98.5 L851.4,96.5 L851.5,94.5 L851.5,92.5 L851.6,90.4 L851.6,88.3 L851.7,86.2 L851.8,84.1 L851.8,81.9 L851.9,79.8 L851.9,77.6 L852.0,75.4 L852.1,73.1 L852.1,70.9 L852.2,68.6 L852.2,66.3 L852.3,64.0 L852.4,61.7 L852.4,59.4 L852.5,57.0 L852.5,54.6 L852.6,52.2 L852.7,49.8 L852.7,47.4 L852.8,44.9 L852.8,42.5 L852.9,44.9 L852.9,47.4 L853.0,49.8 L853.1,52.2 L853.1,54.6 L853.2,57.0 L853.2,59.4 L853.3,61.7 L853.4,64.0 L853.4,66.3 L853.5,68.6 L853.5,70.9 L853.6,73.1 L853.7,75.4 L853.7,77.6 L853.8,79.8 L853.8,81.9 L853.9,84.1 L854.0,86.2 L854.0,88.3 L854.1,90.4 L854.1,92.5 L854.2,94.5 L854.3,96.5 L854.3,98.5 L854.4,100.5 L854.4,102.5 L854.5,104.4 L854.6,106.4 L854.6,108.3 L854.7,110.1 L854.7,112.0 L854.8,113.8 L854.9,115.7 L854.9,117.5 L855.0,119.2 L855.0,121.0 L855.1,122.7 L855.2,124.4 L855.2,126.1 L855.3,127.7 L855.3,129.4 L855.4,131.0 L855.5,132.6 L855.5,134.1 L855.6,135.7 L855.6,137.2 L855.7,138.6 L855.8,140.1 L855.8,141.5 L855.9,142.9 L855.9,144.3 L856.0,145.7 L856.1,147.0 L856.1,148.3 L856.2,149.6 L856.2,150.8 L856.3,152.0 L856.3,153.2 L856.4,154.4 L856.5,155.5 L856.5,156.6 L856.6,157.7 L856.6,158.7 L856.7,159.7 L856.8,160.7 L856.8,161.6 L856.9,162.5 L856.9,163.4 L857.0,164.2 L857.1,165.0 L857.1,165.8 L857.2,166.5 L857.2,167.1 L857.3,167.8 L857.4,168.3 L857.4,168.9 L857.5,169.3 L857.5,169.8 L857.6,170.1 L857.7,170.4 L857.7,170.6 L857.8,170.7 L857.8,170.5 L857.9,170.3 L858.0,170.0 L858.0,169.6 L858.1,169.1 L858.1,168.7 L858.2,168.1 L858.3,167.5 L858.3,166.9 L858.4,166.2 L858.4,165.5 L858.5,164.7 L858.6,163.9 L858.6,163.0 L858.7,162.2 L858.7,161.3 L858.8,160.3 L858.9,159.3 L858.9,158.3 L859.0,157.3 L859.0,156.2 L859.1,155.1 L859.2,153.9 L859.2,152.8 L859.3,151.6 L859.3,150.3 L859.4,149.1 L859.4,147.8 L859.5,146.5 L859.6,145.1 L859.6,143.8 L859.7,142.4 L859.7,141.0 L859.8,139.5 L859.9,138.1 L859.9,136.6 L860.0,135.0 L860.0,133.5 L860.1,131.9 L860.2,130.3 L860.2,128.7 L860.3,127.1 L860.3,125.4 L860.4,123.7 L860.5,122.0 L860.5,120.3 L860.6,118.5 L860.6,116.7 L860.7,114.9 L860.8,113.1 L860.8,111.3 L860.9,109.4 L860.9,107.5 L861.0,105.6 L861.1,103.7 L861.1,101.7 L861.2,99.7 L861.2,97.7 L861.3,95.7 L861.4,93.7 L861.4,91.6 L861.5,89.6 L861.5,87.5 L861.6,85.3 L861.7,83.2 L861.7,81.1 L861.8,78.9 L861.8,76.7 L861.9,74.5 L862.0,72.2 L862.0,70.0 L862.1,67.7 L862.1,65.4 L862.2,63.1 L862.3,60.8 L862.3,58.4 L862.4,56.1 L862.4,53.7 L862.5,51.3 L862.5,48.9 L862.6,46.4 L862.7,44.0 L862.7,43.5 L862.8,45.9 L862.8,48.4 L862.9,50.8 L863.0,53.2 L863.0,55.6 L863.1,58.0 L863.1,60.3 L863.2,62.6 L863.3,65.0 L863.3,67.3 L863.4,69.5 L863.4,71.8 L863.5,74.0 L863.6,76.2 L863.6,78.4 L863.7,80.6 L863.7,82.8 L863.8,84.9 L863.9,87.0 L863.9,89.1 L864.0,91.2 L864.0,93.3 L864.1,95.3 L864.2,97.3 L864.2,99.3 L864.3,101.3 L864.3,103.3 L864.4,105.2 L864.5,107.1 L864.5,109.0 L864.6,110.9 L864.6,112.7 L864.7,114.6 L864.8,116.4 L864.8,118.2 L864.9,119.9 L864.9,121.7 L865.0,123.4 L865.1,125.1 L865.1,126.7 L865.2,128.4 L865.2,130.0 L865.3,131.6 L865.4,133.2 L865.4,134.7 L865.5,136.3 L865.5,137.8 L865.6,139.2 L865.7,140.7 L865.7,142.1 L865.8,143.5 L865.8,144.9 L865.9,146.2 L865.9,147.5 L866.0,148.8 L866.1,150.1 L866.1,151.3 L866.2,152.5 L866.2,153.7 L866.3,154.8 L866.4,156.0 L866.4,157.0 L866.5,158.1 L866.5,159.1 L866.6,160.1 L866.7,161.1 L866.7,162.0 L866.8,162.9 L866.8,163.7 L866.9,164.5 L867.0,165.3 L867.0,166.0 L867.1,166.7 L867.1,167.4 L867.2,168.0 L867.3,168.5 L867.3,169.1 L867.4,169.5 L867.4,169.9 L867.5,170.2 L867.6,170.5 L867.6,170.7 L867.7,170.6 L867.7,170.4 L867.8,170.2 L867.9,169.8 L867.9,169.4 L868.0,169.0 L868.0,168.4 L868.1,167.9 L868.2,167.3 L868.2,166.6 L868.3,165.9 L868.3,165.2 L868.4,164.4 L868.5,163.6 L868.5,162.7 L868.6,161.8 L868.6,160.9 L868.7,159.9 L868.8,158.9 L868.8,157.9 L868.9,156.8 L868.9,155.7 L869.0,154.6 L869.0,153.5 L869.1,152.3 L869.2,151.1 L869.2,149.8 L869.3,148.6 L869.3,147.3 L869.4,146.0 L869.5,144.6 L869.5,143.2 L869.6,141.8 L869.6,140.4 L869.7,138.9 L869.8,137.5 L869.8,136.0 L869.9,134.4 L869.9,132.9 L870.0,131.3 L870.1,129.7 L870.1,128.1 L870.2,126.4 L870.2,124.7 L870.3,123.0 L870.4,121.3 L870.4,119.6 L870.5,117.8 L870.5,116.0 L870.6,114.2 L870.7,112.4 L870.7,110.5 L870.8,108.6 L870.8,106.7 L870.9,104.8 L871.0,102.9 L871.0,100.9 L871.1,98.9 L871.1,96.9 L871.2,94.9 L871.3,92.9 L871.3,90.8 L871.4,88.7 L871.4,86.6 L871.5,84.5 L871.6,82.4 L871.6,80.2 L871.7,78.0 L871.7,75.8 L871.8,73.6 L871.9,71.3 L871.9,69.1 L872.0,66.8 L872.0,64.5 L872.1,62.2 L872.1,59.8 L872.2,57.5 L872.3,55.1 L872.3,52.7 L872.4,50.3 L872.4,47.9 L872.5,45.4 L872.6,43.0 L872.6,44.5 L872.7,46.9 L872.7,49.3 L872.8,51.8 L872.9,54.2 L872.9,56.5 L873.0,58.9 L873.0,61.2 L873.1,63.6 L873.2,65.9 L873.2,68.2 L873.3,70.4 L873.3,72.7 L873.4,74.9 L873.5,77.1 L873.5,79.3 L873.6,81.5 L873.6,83.6 L873.7,85.8 L873.8,87.9 L873.8,90.0 L873.9,92.1 L873.9,94.1 L874.0,96.1 L874.1,98.1 L874.1,100.1 L874.2,102.1 L874.2,104.1 L874.3,106.0 L874.4,107.9 L874.4,109.8 L874.5,111.6 L874.5,113.5 L874.6,115.3 L874.7,117.1 L874.7,118.9 L874.8,120.6 L874.8,122.4 L874.9,124.1 L875.0,125.7 L875.0,127.4 L875.1,129.0 L875.1,130.7 L875.2,132.2 L875.2,133.8 L875.3,135.3 L875.4,136.9 L875.4,138.4 L875.5,139.8 L875.5,141.3 L875.6,142.7 L875.7,144.1 L875.7,145.4 L875.8,146.8 L875.8,148.1 L875.9,149.3 L876.0,150.6 L876.0,151.8 L876.1,153.0 L876.1,154.2 L876.2,155.3 L876.3,156.4 L876.3,157.5 L876.4,158.5 L876.4,159.5 L876.5,160.5 L876.6,161.4 L876.6,162.3 L876.7,163.2 L876.7,164.1 L876.8,164.8" fill="none" stroke="#9ee0b4" stroke-width="0.7" opacity="0.8"/>
<rect x="686.0" y="29.6" width="190.8" height="152.2" fill="none" stroke="#111" stroke-width="2.0"/>
<line x1="686.0" y1="181.8" x2="686.0" y2="184.8" stroke="#111" stroke-width="1.3"/>
<text x="686.0" y="195.8" font-size="10" text-anchor="middle" fill="#333" stroke="#333" stroke-width="0.22">0</text>
<line x1="709.9" y1="181.8" x2="709.9" y2="184.8" stroke="#111" stroke-width="1.3"/>
<text x="709.9" y="195.8" font-size="10" text-anchor="middle" fill="#333" stroke="#333" stroke-width="0.22">50</text>
<line x1="733.7" y1="181.8" x2="733.7" y2="184.8" stroke="#111" stroke-width="1.3"/>
<text x="733.7" y="195.8" font-size="10" text-anchor="middle" fill="#333" stroke="#333" stroke-width="0.22">100</text>
<line x1="757.5" y1="181.8" x2="757.5" y2="184.8" stroke="#111" stroke-width="1.3"/>
<text x="757.5" y="195.8" font-size="10" text-anchor="middle" fill="#333" stroke="#333" stroke-width="0.22">150</text>
<line x1="781.4" y1="181.8" x2="781.4" y2="184.8" stroke="#111" stroke-width="1.3"/>
<text x="781.4" y="195.8" font-size="10" text-anchor="middle" fill="#333" stroke="#333" stroke-width="0.22">200</text>
<line x1="805.2" y1="181.8" x2="805.2" y2="184.8" stroke="#111" stroke-width="1.3"/>
<text x="805.2" y="195.8" font-size="10" text-anchor="middle" fill="#333" stroke="#333" stroke-width="0.22">250</text>
<line x1="829.1" y1="181.8" x2="829.1" y2="184.8" stroke="#111" stroke-width="1.3"/>
<text x="829.1" y="195.8" font-size="10" text-anchor="middle" fill="#333" stroke="#333" stroke-width="0.22">300</text>
<line x1="852.9" y1="181.8" x2="852.9" y2="184.8" stroke="#111" stroke-width="1.3"/>
<text x="852.9" y="195.8" font-size="10" text-anchor="middle" fill="#333" stroke="#333" stroke-width="0.22">350</text>
<line x1="876.8" y1="181.8" x2="876.8" y2="184.8" stroke="#111" stroke-width="1.3"/>
<text x="876.8" y="195.8" font-size="10" text-anchor="middle" fill="#333" stroke="#333" stroke-width="0.22">400</text>
<line x1="697.9" y1="181.8" x2="697.9" y2="183.6" stroke="#111" stroke-width="1"/>
<line x1="721.8" y1="181.8" x2="721.8" y2="183.6" stroke="#111" stroke-width="1"/>
<line x1="745.6" y1="181.8" x2="745.6" y2="183.6" stroke="#111" stroke-width="1"/>
<line x1="769.5" y1="181.8" x2="769.5" y2="183.6" stroke="#111" stroke-width="1"/>
<line x1="793.3" y1="181.8" x2="793.3" y2="183.6" stroke="#111" stroke-width="1"/>
<line x1="817.2" y1="181.8" x2="817.2" y2="183.6" stroke="#111" stroke-width="1"/>
<line x1="841.0" y1="181.8" x2="841.0" y2="183.6" stroke="#111" stroke-width="1"/>
<line x1="864.9" y1="181.8" x2="864.9" y2="183.6" stroke="#111" stroke-width="1"/>
<line x1="683.0" y1="170.1" x2="686.0" y2="170.1" stroke="#111" stroke-width="1.3"/>
<text x="682.0" y="173.5" font-size="10" text-anchor="end" fill="#333" stroke="#333" stroke-width="0.22">0</text>
<line x1="683.0" y1="146.7" x2="686.0" y2="146.7" stroke="#111" stroke-width="1.3"/>
<text x="682.0" y="150.1" font-size="10" text-anchor="end" fill="#333" stroke="#333" stroke-width="0.22">20</text>
<line x1="683.0" y1="123.3" x2="686.0" y2="123.3" stroke="#111" stroke-width="1.3"/>
<text x="682.0" y="126.7" font-size="10" text-anchor="end" fill="#333" stroke="#333" stroke-width="0.22">40</text>
<line x1="683.0" y1="99.8" x2="686.0" y2="99.8" stroke="#111" stroke-width="1.3"/>
<text x="682.0" y="103.2" font-size="10" text-anchor="end" fill="#333" stroke="#333" stroke-width="0.22">60</text>
<line x1="683.0" y1="76.4" x2="686.0" y2="76.4" stroke="#111" stroke-width="1.3"/>
<text x="682.0" y="79.8" font-size="10" text-anchor="end" fill="#333" stroke="#333" stroke-width="0.22">80</text>
<line x1="683.0" y1="53.0" x2="686.0" y2="53.0" stroke="#111" stroke-width="1.3"/>
<text x="682.0" y="56.4" font-size="10" text-anchor="end" fill="#333" stroke="#333" stroke-width="0.22">100</text>
<line x1="683.0" y1="29.6" x2="686.0" y2="29.6" stroke="#111" stroke-width="1.3"/>
<text x="682.0" y="33.0" font-size="10" text-anchor="end" fill="#333" stroke="#333" stroke-width="0.22">120</text>
<line x1="684.2" y1="181.8" x2="686.0" y2="181.8" stroke="#111" stroke-width="1"/>
<line x1="684.2" y1="158.4" x2="686.0" y2="158.4" stroke="#111" stroke-width="1"/>
<line x1="684.2" y1="135.0" x2="686.0" y2="135.0" stroke="#111" stroke-width="1"/>
<line x1="684.2" y1="111.6" x2="686.0" y2="111.6" stroke="#111" stroke-width="1"/>
<line x1="684.2" y1="88.1" x2="686.0" y2="88.1" stroke="#111" stroke-width="1"/>
<line x1="684.2" y1="64.7" x2="686.0" y2="64.7" stroke="#111" stroke-width="1"/>
<line x1="684.2" y1="41.3" x2="686.0" y2="41.3" stroke="#111" stroke-width="1"/>
<line x1="699.5" y1="45.3" x2="721.5" y2="45.3" stroke="#d23a26" stroke-width="2"/>
<text x="723.5" y="48.7" font-size="9.6" fill="#333" stroke="#333" stroke-width="0.22">10%</text>
<line x1="699.5" y1="57.8" x2="721.5" y2="57.8" stroke="#3d67a6" stroke-width="2"/>
<text x="723.5" y="61.2" font-size="9.6" fill="#333" stroke="#333" stroke-width="0.22">20%</text>
<line x1="699.5" y1="70.3" x2="721.5" y2="70.3" stroke="#f2c23c" stroke-width="2"/>
<text x="723.5" y="73.7" font-size="9.6" fill="#333" stroke="#333" stroke-width="0.22">40%</text>
<line x1="699.5" y1="82.8" x2="721.5" y2="82.8" stroke="#5dba7a" stroke-width="2"/>
<text x="723.5" y="86.2" font-size="9.6" fill="#333" stroke="#333" stroke-width="0.22">80%</text>
<text transform="translate(656.0,100.5) rotate(-90)" font-size="13" text-anchor="middle" fill="#222" dominant-baseline="central" stroke="#222" stroke-width="0.22">ΔR/R<tspan font-size="9.1" dy="3.2">0</tspan><tspan dy="-3.2"> (%)</tspan></text>
<text x="781.0" y="213.0" font-size="13" text-anchor="middle" fill="#222" stroke="#222" stroke-width="0.22">Time (s)</text>
<text x="878.5" y="31.5" font-size="16.5" fill="#222" stroke="#222" stroke-width="0.25">(d)</text>
<path d="M915.0,120.1 L916.0,119.7 L917.0,118.7 L918.0,120.9 L919.0,120.0 L920.0,117.3 L921.0,117.9 L922.0,118.6 L923.0,118.5 L924.0,118.9 L925.0,118.4 L926.0,118.0 L927.0,119.7 L928.0,117.6 L929.0,118.1 L930.0,118.1 L931.0,119.2 L932.0,119.0 L933.0,117.5 L934.0,120.1 L935.0,117.1 L936.0,118.3 L937.0,118.7 L938.0,119.2 L939.0,118.4 L940.0,118.0 L941.0,117.4 L942.0,118.0 L943.0,117.3 L944.0,117.1 L945.0,117.8 L946.0,117.3 L947.0,119.3 L948.0,117.2 L949.0,119.9 L950.0,118.7 L951.0,119.1 L952.0,117.1 L953.0,118.0 L954.0,117.6 L955.0,117.0 L956.0,118.3 L957.0,119.0 L958.0,117.9 L959.0,119.3 L960.0,117.8 L961.0,119.8 L962.0,118.8 L963.0,116.7 L964.0,118.3 L965.0,117.6 L966.0,117.9 L967.0,116.5 L968.0,118.3 L969.1,118.9 L970.1,116.3 L971.1,117.8 L972.1,118.2 L973.1,119.6 L974.1,117.4 L975.1,117.3 L976.1,117.1 L977.1,117.0 L978.1,119.4 L979.1,117.0 L980.1,118.5 L981.1,117.3 L982.1,118.0 L983.1,118.0 L984.1,118.2 L985.1,116.5 L986.1,117.2 L987.1,118.1 L988.1,116.3 L989.1,118.4 L990.1,116.6 L991.1,117.9 L992.1,116.0 L993.1,115.9 L994.1,117.7 L995.1,115.8 L996.1,118.1 L997.1,117.0 L998.1,115.9 L999.1,118.1 L1000.1,115.9 L1001.1,115.8 L1002.1,118.2 L1003.1,115.8 L1004.1,117.4 L1005.1,117.1 L1006.1,115.3 L1007.1,118.5 L1008.1,115.3 L1009.1,116.9 L1010.1,115.1 L1011.1,115.7 L1012.1,116.0 L1013.1,117.3 L1014.1,117.5 L1015.1,116.1 L1016.1,115.3 L1017.1,114.9 L1018.1,114.8 L1019.1,114.9 L1020.1,118.0 L1021.1,117.4 L1022.1,115.6 L1023.1,116.5 L1024.1,115.7 L1025.1,117.0 L1026.1,116.1 L1027.1,116.5 L1028.1,115.8 L1029.1,117.1 L1030.1,114.4 L1031.1,114.7 L1032.1,115.3 L1033.1,117.4 L1034.1,116.5 L1035.1,116.0 L1036.1,114.6 L1037.1,117.2 L1038.1,116.9 L1039.1,113.8 L1040.1,116.9 L1041.1,116.1 L1042.1,115.9 L1043.1,115.0 L1044.1,116.4 L1045.1,116.6 L1046.1,114.4 L1047.1,116.7 L1048.1,115.6 L1049.1,114.1 L1050.1,114.0 L1051.1,115.2 L1052.1,115.0 L1053.1,115.2 L1054.1,115.0 L1055.1,114.7 L1056.1,116.3 L1057.1,115.0 L1058.1,113.2 L1059.1,113.2 L1060.1,115.5 L1061.1,115.9 L1062.1,114.0 L1063.1,113.5 L1064.1,113.6 L1065.1,115.8 L1066.1,116.0 L1067.1,113.2 L1068.1,115.5 L1069.1,112.6 L1070.1,115.6 L1071.1,115.1 L1072.1,113.0 L1073.1,111.9 L1074.1,112.4 L1075.2,112.4 L1076.2,112.5 L1077.2,112.3 L1078.2,114.6 L1079.2,112.7 L1080.2,113.8 L1081.2,113.6 L1082.2,111.7 L1083.2,113.0 L1084.2,113.0 L1085.2,113.8 L1086.2,110.5 L1087.2,111.2 L1088.2,111.3 L1089.2,111.3 L1090.2,111.9 L1091.2,110.3 L1092.2,113.1 L1093.2,110.0 L1094.2,111.6 L1095.2,112.4 L1096.2,112.3 L1097.2,111.8 L1098.2,110.3 L1099.2,111.6 L1100.2,111.1 L1101.2,110.4 L1102.2,111.6 L1103.2,110.6 L1104.2,111.6 L1105.2,110.9 L1106.2,111.5 L1107.2,110.2 L1108.2,110.1 L1109.2,108.7 L1110.2,109.8 L1111.2,108.4 L1112.2,108.7 L1113.2,109.6 L1114.2,110.3 L1115.2,108.6 L1116.2,107.9 L1117.2,110.2 L1118.2,110.1 L1119.2,107.6 L1120.2,109.6 L1121.2,109.3 L1122.2,107.7 L1123.2,109.9 L1124.2,109.1 L1125.2,108.0 L1126.2,109.9 L1127.2,108.3 L1128.2,109.0 L1129.2,106.2 L1130.2,107.6 L1131.2,108.5 L1132.2,109.0 L1133.2,106.1 L1134.2,105.9 L1135.2,106.4 L1136.2,108.0 L1137.2,106.7 L1138.2,108.0 L1139.2,105.4 L1140.2,106.8 L1141.2,106.9 L1142.2,106.0 L1143.2,106.5 L1144.2,106.1 L1145.2,107.7 L1146.2,105.9 L1147.2,104.9 L1148.2,106.9 L1149.2,105.9 L1150.2,105.6 L1151.2,106.8 L1152.2,107.6 L1153.2,105.0 L1154.2,105.0 L1155.2,106.6 L1156.2,104.4 L1157.2,105.6 L1158.2,104.6 L1159.2,106.0 L1160.2,105.2 L1161.2,105.8 L1162.2,106.6 L1163.2,106.6 L1164.2,104.1 L1165.2,106.1 L1166.2,105.2 L1167.2,103.7 L1168.2,104.5 L1169.2,105.1 L1170.2,104.6 L1171.2,105.8 L1172.2,103.6 L1173.2,103.5 L1174.2,103.0 L1175.2,104.3 L1176.2,104.0 L1177.2,103.8 L1178.2,103.1 L1179.2,104.0 L1180.2,106.1 L1181.2,103.7 L1182.3,104.1 L1183.3,105.3 L1184.3,105.8 L1185.3,103.6 L1186.3,103.8 L1187.3,102.6 L1188.3,102.9 L1189.3,105.5 L1190.3,104.8 L1191.3,103.7 L1192.3,104.4 L1193.3,103.1 L1194.3,102.4 L1195.3,102.1 L1196.3,102.8 L1197.3,102.5 L1198.3,102.2 L1199.3,102.6 L1200.3,104.8 L1201.3,104.9 L1202.3,104.6 L1203.3,102.6 L1204.3,103.6 L1205.3,103.9 L1206.3,102.3 L1207.3,104.3 L1208.3,102.3 L1209.3,103.5 L1210.3,102.7 L1211.3,104.8 L1212.3,101.9 L1213.3,103.0 L1214.3,103.9 L1215.3,103.1 L1216.3,104.4 L1217.3,103.9 L1218.3,104.2 L1219.3,102.8 L1220.3,101.9 L1221.3,102.9 L1222.3,104.2 L1223.3,103.5 L1224.3,102.5 L1225.3,101.9 L1226.3,103.7 L1227.3,101.5 L1228.3,101.2 L1229.3,100.7 L1230.3,103.1 L1231.3,101.0 L1232.3,102.6 L1233.3,101.4 L1234.3,101.7 L1235.3,103.6 L1235.3,163.6 L1234.3,163.9 L1233.3,161.0 L1232.3,163.6 L1231.3,162.1 L1230.3,163.2 L1229.3,163.1 L1228.3,162.6 L1227.3,163.2 L1226.3,163.9 L1225.3,163.0 L1224.3,163.6 L1223.3,163.8 L1222.3,161.3 L1221.3,163.0 L1220.3,164.0 L1219.3,163.0 L1218.3,164.2 L1217.3,162.8 L1216.3,163.9 L1215.3,163.8 L1214.3,163.8 L1213.3,163.8 L1212.3,163.9 L1211.3,163.8 L1210.3,163.7 L1209.3,162.8 L1208.3,163.4 L1207.3,161.8 L1206.3,163.3 L1205.3,163.1 L1204.3,162.6 L1203.3,163.0 L1202.3,163.1 L1201.3,164.0 L1200.3,164.5 L1199.3,163.2 L1198.3,163.4 L1197.3,161.9 L1196.3,163.7 L1195.3,162.6 L1194.3,163.0 L1193.3,164.4 L1192.3,162.2 L1191.3,162.0 L1190.3,164.6 L1189.3,163.8 L1188.3,163.0 L1187.3,164.5 L1186.3,162.1 L1185.3,163.6 L1184.3,163.5 L1183.3,163.4 L1182.3,163.6 L1181.2,163.6 L1180.2,162.8 L1179.2,162.9 L1178.2,163.6 L1177.2,164.2 L1176.2,162.2 L1175.2,163.4 L1174.2,164.0 L1173.2,162.5 L1172.2,165.1 L1171.2,164.5 L1170.2,163.6 L1169.2,164.7 L1168.2,164.9 L1167.2,163.1 L1166.2,163.1 L1165.2,164.8 L1164.2,163.3 L1163.2,165.1 L1162.2,164.7 L1161.2,163.0 L1160.2,163.3 L1159.2,164.4 L1158.2,164.6 L1157.2,165.0 L1156.2,165.6 L1155.2,164.6 L1154.2,164.7 L1153.2,164.2 L1152.2,163.8 L1151.2,165.4 L1150.2,164.6 L1149.2,164.4 L1148.2,163.9 L1147.2,165.7 L1146.2,165.8 L1145.2,163.5 L1144.2,164.3 L1143.2,165.7 L1142.2,164.3 L1141.2,165.3 L1140.2,166.0 L1139.2,164.4 L1138.2,164.2 L1137.2,164.1 L1136.2,164.5 L1135.2,164.3 L1134.2,165.5 L1133.2,166.4 L1132.2,164.1 L1131.2,164.8 L1130.2,166.4 L1129.2,165.7 L1128.2,165.1 L1127.2,165.5 L1126.2,166.1 L1125.2,165.2 L1124.2,166.3 L1123.2,165.0 L1122.2,167.3 L1121.2,166.4 L1120.2,165.2 L1119.2,165.2 L1118.2,165.9 L1117.2,167.3 L1116.2,167.5 L1115.2,165.5 L1114.2,166.3 L1113.2,167.9 L1112.2,165.8 L1111.2,167.6 L1110.2,166.7 L1109.2,167.3 L1108.2,166.6 L1107.2,167.4 L1106.2,166.4 L1105.2,167.1 L1104.2,168.5 L1103.2,168.5 L1102.2,169.7 L1101.2,169.1 L1100.2,167.5 L1099.2,168.0 L1098.2,167.4 L1097.2,169.6 L1096.2,168.7 L1095.2,169.8 L1094.2,168.5 L1093.2,169.2 L1092.2,168.7 L1091.2,170.6 L1090.2,169.2 L1089.2,169.6 L1088.2,169.0 L1087.2,170.8 L1086.2,170.1 L1085.2,169.9 L1084.2,170.2 L1083.2,170.4 L1082.2,170.4 L1081.2,169.8 L1080.2,171.2 L1079.2,169.3 L1078.2,170.9 L1077.2,169.2 L1076.2,171.7 L1075.2,170.6 L1074.1,172.0 L1073.1,170.5 L1072.1,169.8 L1071.1,169.8 L1070.1,169.9 L1069.1,171.9 L1068.1,172.3 L1067.1,172.5 L1066.1,172.3 L1065.1,171.0 L1064.1,171.1 L1063.1,170.8 L1062.1,170.2 L1061.1,170.5 L1060.1,171.5 L1059.1,170.6 L1058.1,171.9 L1057.1,170.4 L1056.1,171.8 L1055.1,171.0 L1054.1,172.4 L1053.1,171.0 L1052.1,171.0 L1051.1,172.1 L1050.1,171.3 L1049.1,172.1 L1048.1,171.5 L1047.1,172.7 L1046.1,172.2 L1045.1,171.7 L1044.1,172.4 L1043.1,172.3 L1042.1,171.5 L1041.1,172.5 L1040.1,172.0 L1039.1,171.0 L1038.1,173.3 L1037.1,173.2 L1036.1,173.6 L1035.1,172.2 L1034.1,172.1 L1033.1,172.9 L1032.1,171.1 L1031.1,173.7 L1030.1,171.4 L1029.1,171.4 L1028.1,171.4 L1027.1,173.2 L1026.1,171.5 L1025.1,171.3 L1024.1,172.9 L1023.1,171.2 L1022.1,172.4 L1021.1,173.1 L1020.1,171.8 L1019.1,172.3 L1018.1,171.4 L1017.1,172.0 L1016.1,174.0 L1015.1,173.3 L1014.1,174.0 L1013.1,173.2 L1012.1,172.7 L1011.1,171.7 L1010.1,173.6 L1009.1,171.4 L1008.1,171.4 L1007.1,171.5 L1006.1,173.9 L1005.1,173.1 L1004.1,173.1 L1003.1,173.6 L1002.1,173.6 L1001.1,173.4 L1000.1,172.6 L999.1,173.7 L998.1,172.0 L997.1,174.0 L996.1,174.2 L995.1,173.2 L994.1,172.7 L993.1,174.1 L992.1,173.3 L991.1,173.7 L990.1,174.4 L989.1,173.4 L988.1,174.0 L987.1,174.1 L986.1,172.6 L985.1,174.7 L984.1,173.7 L983.1,173.1 L982.1,173.9 L981.1,173.9 L980.1,173.6 L979.1,172.1 L978.1,174.8 L977.1,172.8 L976.1,174.0 L975.1,173.6 L974.1,174.9 L973.1,173.2 L972.1,173.4 L971.1,175.1 L970.1,173.6 L969.1,174.3 L968.0,173.0 L967.0,173.7 L966.0,173.4 L965.0,173.5 L964.0,173.7 L963.0,174.2 L962.0,172.5 L961.0,172.8 L960.0,174.9 L959.0,174.2 L958.0,175.4 L957.0,175.3 L956.0,172.5 L955.0,172.6 L954.0,174.6 L953.0,175.5 L952.0,175.5 L951.0,173.4 L950.0,175.2 L949.0,173.3 L948.0,172.8 L947.0,175.6 L946.0,174.1 L945.0,175.2 L944.0,174.2 L943.0,173.0 L942.0,175.4 L941.0,173.0 L940.0,173.2 L939.0,173.3 L938.0,174.3 L937.0,174.9 L936.0,175.2 L935.0,174.8 L934.0,175.5 L933.0,175.9 L932.0,173.4 L931.0,173.8 L930.0,173.5 L929.0,173.7 L928.0,174.9 L927.0,176.2 L926.0,174.6 L925.0,176.2 L924.0,174.2 L923.0,173.9 L922.0,176.0 L921.0,175.1 L920.0,175.1 L919.0,175.9 L918.0,174.1 L917.0,176.4 L916.0,174.8 L915.0,175.0 Z" fill="#456895"/>
<rect x="1020.8" y="108.2" width="4.6" height="70.8" fill="none" stroke="#d94a3c" stroke-width="1"/>
<rect x="1127.4" y="103.8" width="4.4" height="70.2" fill="none" stroke="#d94a3c" stroke-width="1"/>
<rect x="915.0" y="30.2" width="320.3" height="154.8" fill="none" stroke="#111" stroke-width="1.6"/>
<line x1="915.0" y1="185.0" x2="915.0" y2="187.5" stroke="#111" stroke-width="1.3"/>
<text x="915.0" y="196.0" font-size="7.3" text-anchor="middle" fill="#444" stroke="#444" stroke-width="0.12">0</text>
<line x1="968.4" y1="185.0" x2="968.4" y2="187.5" stroke="#111" stroke-width="1.3"/>
<text x="968.4" y="196.0" font-size="7.3" text-anchor="middle" fill="#444" stroke="#444" stroke-width="0.12">1000</text>
<line x1="1021.8" y1="185.0" x2="1021.8" y2="187.5" stroke="#111" stroke-width="1.3"/>
<text x="1021.8" y="196.0" font-size="7.3" text-anchor="middle" fill="#444" stroke="#444" stroke-width="0.12">2000</text>
<line x1="1075.2" y1="185.0" x2="1075.2" y2="187.5" stroke="#111" stroke-width="1.3"/>
<text x="1075.2" y="196.0" font-size="7.3" text-anchor="middle" fill="#444" stroke="#444" stroke-width="0.12">3000</text>
<line x1="1128.5" y1="185.0" x2="1128.5" y2="187.5" stroke="#111" stroke-width="1.3"/>
<text x="1128.5" y="196.0" font-size="7.3" text-anchor="middle" fill="#444" stroke="#444" stroke-width="0.12">4000</text>
<line x1="1181.9" y1="185.0" x2="1181.9" y2="187.5" stroke="#111" stroke-width="1.3"/>
<text x="1181.9" y="196.0" font-size="7.3" text-anchor="middle" fill="#444" stroke="#444" stroke-width="0.12">5000</text>
<line x1="1235.3" y1="185.0" x2="1235.3" y2="187.5" stroke="#111" stroke-width="1.3"/>
<text x="1235.3" y="196.0" font-size="7.3" text-anchor="middle" fill="#444" stroke="#444" stroke-width="0.12">6000</text>
<line x1="941.7" y1="185.0" x2="941.7" y2="186.5" stroke="#111" stroke-width="1"/>
<line x1="995.1" y1="185.0" x2="995.1" y2="186.5" stroke="#111" stroke-width="1"/>
<line x1="1048.5" y1="185.0" x2="1048.5" y2="186.5" stroke="#111" stroke-width="1"/>
<line x1="1101.8" y1="185.0" x2="1101.8" y2="186.5" stroke="#111" stroke-width="1"/>
<line x1="1155.2" y1="185.0" x2="1155.2" y2="186.5" stroke="#111" stroke-width="1"/>
<line x1="1208.6" y1="185.0" x2="1208.6" y2="186.5" stroke="#111" stroke-width="1"/>
<line x1="912.5" y1="173.1" x2="915.0" y2="173.1" stroke="#111" stroke-width="1.3"/>
<text x="910.0" y="175.6" font-size="7.3" text-anchor="end" fill="#444" stroke="#444" stroke-width="0.12">0</text>
<line x1="912.5" y1="149.3" x2="915.0" y2="149.3" stroke="#111" stroke-width="1.3"/>
<text x="910.0" y="151.8" font-size="7.3" text-anchor="end" fill="#444" stroke="#444" stroke-width="0.12">40</text>
<line x1="912.5" y1="125.5" x2="915.0" y2="125.5" stroke="#111" stroke-width="1.3"/>
<text x="910.0" y="127.9" font-size="7.3" text-anchor="end" fill="#444" stroke="#444" stroke-width="0.12">80</text>
<line x1="912.5" y1="101.6" x2="915.0" y2="101.6" stroke="#111" stroke-width="1.3"/>
<text x="910.0" y="104.1" font-size="7.3" text-anchor="end" fill="#444" stroke="#444" stroke-width="0.12">120</text>
<line x1="912.5" y1="77.8" x2="915.0" y2="77.8" stroke="#111" stroke-width="1.3"/>
<text x="910.0" y="80.3" font-size="7.3" text-anchor="end" fill="#444" stroke="#444" stroke-width="0.12">160</text>
<line x1="912.5" y1="54.0" x2="915.0" y2="54.0" stroke="#111" stroke-width="1.3"/>
<text x="910.0" y="56.5" font-size="7.3" text-anchor="end" fill="#444" stroke="#444" stroke-width="0.12">200</text>
<line x1="912.5" y1="30.2" x2="915.0" y2="30.2" stroke="#111" stroke-width="1.3"/>
<text x="910.0" y="32.7" font-size="7.3" text-anchor="end" fill="#444" stroke="#444" stroke-width="0.12">240</text>
<line x1="913.5" y1="185.0" x2="915.0" y2="185.0" stroke="#111" stroke-width="1"/>
<line x1="913.5" y1="161.2" x2="915.0" y2="161.2" stroke="#111" stroke-width="1"/>
<line x1="913.5" y1="137.4" x2="915.0" y2="137.4" stroke="#111" stroke-width="1"/>
<line x1="913.5" y1="113.6" x2="915.0" y2="113.6" stroke="#111" stroke-width="1"/>
<line x1="913.5" y1="89.7" x2="915.0" y2="89.7" stroke="#111" stroke-width="1"/>
<line x1="913.5" y1="65.9" x2="915.0" y2="65.9" stroke="#111" stroke-width="1"/>
<line x1="913.5" y1="42.1" x2="915.0" y2="42.1" stroke="#111" stroke-width="1"/>
<text transform="translate(887.2,105.0) rotate(-90)" font-size="13.5" text-anchor="middle" fill="#222" dominant-baseline="central" stroke="#222" stroke-width="0.22">ΔR/R<tspan font-size="9.4" dy="3.4">0</tspan><tspan dy="-3.4"> (%)</tspan></text>
<text x="1074.7" y="211.5" font-size="12" text-anchor="middle" fill="#222" stroke="#222" stroke-width="0.22">Time (s)</text>
<text x="1053" y="58.5" font-size="8.6" fill="#c8443a" stroke="#c8443a" stroke-width="0.12">strain=50%</text>
<text x="1053" y="70.5" font-size="8.6" fill="#c8443a" stroke="#c8443a" stroke-width="0.12">3000 cycles</text>
<rect x="929.5" y="37.7" width="114.5" height="50.3" fill="#fff" stroke="#222" stroke-width="1.1"/>
<path d="M930.0,82.6 L930.4,82.6 L930.7,82.6 L931.1,82.6 L931.4,82.6 L931.8,82.5 L932.1,80.4 L932.5,77.9 L932.8,75.2 L933.2,72.4 L933.5,69.5 L933.9,66.5 L934.2,63.4 L934.6,60.2 L934.9,57.0 L935.3,53.8 L935.6,50.4 L936.0,50.0 L936.3,53.3 L936.7,56.6 L937.0,59.8 L937.4,62.9 L937.7,66.0 L938.1,69.0 L938.4,72.0 L938.8,74.8 L939.1,77.5 L939.5,80.0 L939.8,82.2 L940.2,82.6 L940.5,82.6 L940.9,82.6 L941.2,82.6 L941.6,82.6 L941.9,82.6 L942.3,82.6 L942.6,82.6 L943.0,82.6 L943.3,81.0 L943.7,78.6 L944.0,76.0 L944.4,73.2 L944.7,70.3 L945.1,67.3 L945.4,64.3 L945.8,61.1 L946.1,57.9 L946.5,54.7 L946.8,51.4 L947.2,49.0 L947.5,52.3 L947.9,55.6 L948.2,58.9 L948.6,62.0 L948.9,65.1 L949.3,68.2 L949.6,71.1 L950.0,74.0 L950.3,76.7 L950.7,79.3 L951.0,81.6 L951.4,82.6 L951.7,82.6 L952.1,82.6 L952.4,82.6 L952.8,82.6 L953.1,82.6 L953.5,82.6 L953.8,82.6 L954.2,82.5 L954.5,80.4 L954.9,77.9 L955.2,75.2 L955.6,72.4 L955.9,69.5 L956.3,66.5 L956.6,63.4 L957.0,60.2 L957.3,57.0 L957.7,53.8 L958.0,50.4 L958.4,50.0 L958.7,53.3 L959.1,56.6 L959.4,59.8 L959.8,62.9 L960.1,66.0 L960.5,69.0 L960.8,72.0 L961.2,74.8 L961.5,77.5 L961.9,80.0 L962.2,82.2 L962.6,82.6 L962.9,82.6 L963.3,82.6 L963.6,82.6 L964.0,82.6 L964.3,82.6 L964.7,82.6 L965.0,82.6 L965.4,82.6 L965.7,82.6 L966.1,80.7 L966.4,78.2 L966.8,75.6 L967.1,72.8 L967.5,69.9 L967.8,66.9 L968.2,63.8 L968.5,60.7 L968.9,57.5 L969.2,54.2 L969.6,50.9 L969.9,49.5 L970.3,52.8 L970.6,56.1 L971.0,59.3 L971.3,62.5 L971.7,65.6 L972.0,68.6 L972.4,71.6 L972.7,74.4 L973.1,77.1 L973.4,79.7 L973.8,81.9 L974.1,82.6 L974.5,82.6 L974.8,82.6 L975.2,82.6 L975.5,82.6 L975.9,82.6 L976.2,82.6 L976.6,82.6 L976.9,81.6 L977.3,79.3 L977.6,76.7 L978.0,74.0 L978.3,71.1 L978.7,68.2 L979.0,65.1 L979.4,62.0 L979.7,58.9 L980.1,55.6 L980.4,52.3 L980.8,49.0 L981.1,51.4 L981.5,54.7 L981.8,57.9 L982.2,61.1 L982.5,64.3 L982.9,67.3 L983.2,70.3 L983.6,73.2 L983.9,76.0 L984.3,78.6 L984.6,81.0 L985.0,82.6 L985.3,82.6 L985.7,82.6 L986.0,82.6 L986.4,82.6 L986.7,82.6 L987.1,82.6 L987.4,82.6 L987.8,82.6 L988.1,82.6 L988.5,81.9 L988.8,79.7 L989.2,77.1 L989.5,74.4 L989.9,71.6 L990.2,68.6 L990.6,65.6 L990.9,62.5 L991.3,59.3 L991.6,56.1 L992.0,52.8 L992.3,49.5 L992.7,50.9 L993.0,54.2 L993.4,57.5 L993.7,60.7 L994.1,63.8 L994.4,66.9 L994.8,69.9 L995.1,72.8 L995.5,75.6 L995.8,78.2 L996.2,80.7 L996.5,82.6 L996.9,82.6 L997.2,82.6 L997.6,82.6 L997.9,82.6 L998.3,82.6 L998.6,82.6 L999.0,82.6 L999.3,82.6 L999.7,82.5 L1000.0,80.4 L1000.4,77.9 L1000.7,75.2 L1001.1,72.4 L1001.4,69.5 L1001.8,66.5 L1002.1,63.4 L1002.5,60.2 L1002.8,57.0 L1003.2,53.8 L1003.5,50.4 L1003.9,50.0 L1004.2,53.3 L1004.6,56.6 L1004.9,59.8 L1005.3,62.9 L1005.6,66.0 L1006.0,69.0 L1006.3,72.0 L1006.7,74.8 L1007.0,77.5 L1007.4,80.0 L1007.7,82.2 L1008.1,82.6 L1008.4,82.6 L1008.8,82.6 L1009.1,82.6 L1009.5,82.6 L1009.8,82.6 L1010.2,82.6 L1010.5,82.6 L1010.9,82.6 L1011.2,82.2 L1011.6,80.0 L1011.9,77.5 L1012.3,74.8 L1012.6,72.0 L1013.0,69.0 L1013.3,66.0 L1013.7,62.9 L1014.0,59.8 L1014.4,56.6 L1014.7,53.3 L1015.1,50.0 L1015.4,50.4 L1015.8,53.8 L1016.1,57.0 L1016.5,60.2 L1016.8,63.4 L1017.2,66.5 L1017.5,69.5 L1017.9,72.4 L1018.2,75.2 L1018.6,77.9 L1018.9,80.4 L1019.3,82.5 L1019.6,82.6 L1020.0,82.6 L1020.3,82.6 L1020.7,82.6 L1021.0,82.6 L1021.4,82.6 L1021.7,82.6 L1022.1,82.6 L1022.4,82.6 L1022.8,80.7 L1023.1,78.2 L1023.5,75.6 L1023.8,72.8 L1024.2,69.9 L1024.5,66.9 L1024.9,63.8 L1025.2,60.7 L1025.6,57.5 L1025.9,54.2 L1026.3,50.9 L1026.6,49.5 L1027.0,52.8 L1027.3,56.1 L1027.7,59.3 L1028.0,62.5 L1028.4,65.6 L1028.7,68.6 L1029.1,71.6 L1029.4,74.4 L1029.8,77.1 L1030.1,79.7 L1030.5,81.9 L1030.8,82.6 L1031.2,82.6 L1031.5,82.6 L1031.9,82.6 L1032.2,82.6 L1032.6,82.6 L1032.9,82.6 L1033.3,82.6 L1033.6,82.6 L1034.0,81.3 L1034.3,79.0 L1034.7,76.4 L1035.0,73.6 L1035.4,70.7 L1035.7,67.8 L1036.1,64.7 L1036.4,61.6 L1036.8,58.4 L1037.1,55.2 L1037.5,51.9 L1037.8,48.5 L1038.2,51.9 L1038.5,55.2 L1038.9,58.4 L1039.2,61.6 L1039.6,64.7 L1039.9,67.8 L1040.3,70.7 L1040.6,73.6 L1041.0,76.4 L1041.3,79.0 L1041.7,81.3 L1042.0,82.6 L1042.4,82.6 L1042.7,82.6 L1043.1,82.6 L1043.4,82.6" fill="none" stroke="#5b7fb8" stroke-width="1.1"/>
<line x1="928.0" y1="84.1" x2="929.5" y2="84.1" stroke="#222" stroke-width="0.8"/>
<text x="927.5" y="85.6" font-size="4.5" text-anchor="end" fill="#555" stroke="#555" stroke-width="0.12">0</text>
<line x1="928.0" y1="68.7" x2="929.5" y2="68.7" stroke="#222" stroke-width="0.8"/>
<text x="927.5" y="70.2" font-size="4.5" text-anchor="end" fill="#555" stroke="#555" stroke-width="0.12">40</text>
<line x1="928.0" y1="53.2" x2="929.5" y2="53.2" stroke="#222" stroke-width="0.8"/>
<text x="927.5" y="54.7" font-size="4.5" text-anchor="end" fill="#555" stroke="#555" stroke-width="0.12">80</text>
<line x1="928.0" y1="37.7" x2="929.5" y2="37.7" stroke="#222" stroke-width="0.8"/>
<text x="927.5" y="39.2" font-size="4.5" text-anchor="end" fill="#555" stroke="#555" stroke-width="0.12">120</text>
<line x1="929.5" y1="88" x2="929.5" y2="89.5" stroke="#222" stroke-width="0.8"/>
<text x="929.5" y="92.6" font-size="4.5" text-anchor="middle" fill="#555" stroke="#555" stroke-width="0.12">2000</text>
<line x1="958.1" y1="88" x2="958.1" y2="89.5" stroke="#222" stroke-width="0.8"/>
<text x="958.1" y="92.6" font-size="4.5" text-anchor="middle" fill="#555" stroke="#555" stroke-width="0.12">2005</text>
<line x1="986.8" y1="88" x2="986.8" y2="89.5" stroke="#222" stroke-width="0.8"/>
<text x="986.8" y="92.6" font-size="4.5" text-anchor="middle" fill="#555" stroke="#555" stroke-width="0.12">2010</text>
<line x1="1015.4" y1="88" x2="1015.4" y2="89.5" stroke="#222" stroke-width="0.8"/>
<text x="1015.4" y="92.6" font-size="4.5" text-anchor="middle" fill="#555" stroke="#555" stroke-width="0.12">2015</text>
<line x1="1044.0" y1="88" x2="1044.0" y2="89.5" stroke="#222" stroke-width="0.8"/>
<text x="1044.0" y="92.6" font-size="4.5" text-anchor="middle" fill="#555" stroke="#555" stroke-width="0.12">2020</text>
<rect x="1109.5" y="37.2" width="115.0" height="50.39999999999999" fill="#fff" stroke="#222" stroke-width="1.1"/>
<path d="M1110.0,82.2 L1110.3,82.2 L1110.7,82.2 L1111.0,82.2 L1111.4,82.2 L1111.7,82.2 L1112.1,81.0 L1112.4,78.7 L1112.8,76.1 L1113.1,73.4 L1113.5,70.6 L1113.8,67.6 L1114.2,64.6 L1114.5,61.5 L1114.9,58.3 L1115.2,55.1 L1115.6,51.8 L1115.9,48.5 L1116.3,50.9 L1116.6,54.2 L1117.0,57.4 L1117.3,60.6 L1117.7,63.7 L1118.0,66.7 L1118.4,69.7 L1118.7,72.6 L1119.1,75.4 L1119.4,78.0 L1119.8,80.4 L1120.1,82.2 L1120.5,82.2 L1120.8,82.2 L1121.2,82.2 L1121.5,82.2 L1121.9,82.2 L1122.2,82.2 L1122.6,82.2 L1122.9,82.2 L1123.3,81.0 L1123.6,78.7 L1124.0,76.1 L1124.3,73.4 L1124.7,70.6 L1125.0,67.6 L1125.4,64.6 L1125.7,61.5 L1126.1,58.3 L1126.4,55.1 L1126.8,51.8 L1127.1,48.5 L1127.5,50.9 L1127.8,54.2 L1128.2,57.4 L1128.5,60.6 L1128.9,63.7 L1129.2,66.7 L1129.6,69.7 L1129.9,72.6 L1130.3,75.4 L1130.6,78.0 L1131.0,80.4 L1131.3,82.2 L1131.7,82.2 L1132.0,82.2 L1132.4,82.2 L1132.7,82.2 L1133.1,82.2 L1133.4,82.2 L1133.8,82.2 L1134.1,82.2 L1134.5,82.2 L1134.8,80.7 L1135.2,78.4 L1135.5,75.8 L1135.9,73.0 L1136.2,70.1 L1136.6,67.2 L1136.9,64.1 L1137.3,61.0 L1137.6,57.9 L1138.0,54.6 L1138.3,51.4 L1138.7,48.1 L1139.0,51.4 L1139.4,54.6 L1139.7,57.9 L1140.1,61.0 L1140.4,64.1 L1140.8,67.2 L1141.1,70.1 L1141.5,73.0 L1141.8,75.8 L1142.2,78.4 L1142.5,80.7 L1142.9,82.2 L1143.2,82.2 L1143.6,82.2 L1143.9,82.2 L1144.3,82.2 L1144.6,82.2 L1145.0,82.2 L1145.3,82.2 L1145.7,82.2 L1146.0,82.2 L1146.4,80.4 L1146.7,78.0 L1147.1,75.4 L1147.4,72.6 L1147.8,69.7 L1148.1,66.7 L1148.5,63.7 L1148.8,60.6 L1149.2,57.4 L1149.5,54.2 L1149.9,50.9 L1150.2,48.5 L1150.6,51.8 L1150.9,55.1 L1151.3,58.3 L1151.6,61.5 L1152.0,64.6 L1152.3,67.6 L1152.7,70.6 L1153.0,73.4 L1153.4,76.1 L1153.7,78.7 L1154.1,81.0 L1154.4,82.2 L1154.8,82.2 L1155.1,82.2 L1155.5,82.2 L1155.8,82.2 L1156.2,82.2 L1156.5,82.2 L1156.9,82.2 L1157.2,82.2 L1157.6,81.0 L1157.9,78.7 L1158.3,76.1 L1158.6,73.4 L1159.0,70.6 L1159.3,67.6 L1159.7,64.6 L1160.0,61.5 L1160.4,58.3 L1160.7,55.1 L1161.1,51.8 L1161.4,48.5 L1161.8,50.9 L1162.1,54.2 L1162.5,57.4 L1162.8,60.6 L1163.2,63.7 L1163.5,66.7 L1163.9,69.7 L1164.2,72.6 L1164.6,75.4 L1164.9,78.0 L1165.3,80.4 L1165.6,82.2 L1166.0,82.2 L1166.3,82.2 L1166.7,82.2 L1167.0,82.2 L1167.4,82.2 L1167.7,82.2 L1168.1,82.2 L1168.4,82.2 L1168.8,82.2 L1169.1,80.7 L1169.5,78.4 L1169.8,75.8 L1170.2,73.0 L1170.5,70.1 L1170.9,67.2 L1171.2,64.1 L1171.6,61.0 L1171.9,57.9 L1172.3,54.6 L1172.6,51.4 L1173.0,48.1 L1173.3,51.4 L1173.7,54.6 L1174.0,57.9 L1174.4,61.0 L1174.7,64.1 L1175.1,67.2 L1175.4,70.1 L1175.8,73.0 L1176.1,75.8 L1176.5,78.4 L1176.8,80.7 L1177.2,82.2 L1177.5,82.2 L1177.9,82.2 L1178.2,82.2 L1178.6,82.2 L1178.9,82.2 L1179.3,82.2 L1179.6,82.2 L1180.0,82.2 L1180.3,82.2 L1180.7,81.0 L1181.0,78.7 L1181.4,76.1 L1181.7,73.4 L1182.1,70.6 L1182.4,67.6 L1182.8,64.6 L1183.1,61.5 L1183.5,58.3 L1183.8,55.1 L1184.2,51.8 L1184.5,48.5 L1184.9,50.9 L1185.2,54.2 L1185.6,57.4 L1185.9,60.6 L1186.3,63.7 L1186.6,66.7 L1187.0,69.7 L1187.3,72.6 L1187.7,75.4 L1188.0,78.0 L1188.4,80.4 L1188.7,82.2 L1189.1,82.2 L1189.4,82.2 L1189.8,82.2 L1190.1,82.2 L1190.5,82.2 L1190.8,82.2 L1191.2,82.2 L1191.5,82.2 L1191.9,81.6 L1192.2,79.4 L1192.6,76.9 L1192.9,74.2 L1193.3,71.4 L1193.6,68.5 L1194.0,65.4 L1194.3,62.4 L1194.7,59.2 L1195.0,56.0 L1195.4,52.8 L1195.7,49.5 L1196.1,50.0 L1196.4,53.2 L1196.8,56.5 L1197.1,59.7 L1197.5,62.8 L1197.8,65.9 L1198.2,68.9 L1198.5,71.8 L1198.9,74.6 L1199.2,77.3 L1199.6,79.8 L1199.9,81.9 L1200.3,82.2 L1200.6,82.2 L1201.0,82.2 L1201.3,82.2 L1201.7,82.2 L1202.0,82.2 L1202.4,82.2 L1202.7,82.2 L1203.1,82.2 L1203.4,81.3 L1203.8,79.1 L1204.1,76.5 L1204.5,73.8 L1204.8,71.0 L1205.2,68.0 L1205.5,65.0 L1205.9,61.9 L1206.2,58.8 L1206.6,55.6 L1206.9,52.3 L1207.3,49.0 L1207.6,50.4 L1208.0,53.7 L1208.3,57.0 L1208.7,60.1 L1209.0,63.3 L1209.4,66.3 L1209.7,69.3 L1210.1,72.2 L1210.4,75.0 L1210.8,77.6 L1211.1,80.1 L1211.5,82.1 L1211.8,82.2 L1212.2,82.2 L1212.5,82.2 L1212.9,82.2 L1213.2,82.2 L1213.6,82.2 L1213.9,82.2 L1214.3,82.2 L1214.6,82.2 L1215.0,80.4 L1215.3,78.0 L1215.7,75.4 L1216.0,72.6 L1216.4,69.7 L1216.7,66.7 L1217.1,63.7 L1217.4,60.6 L1217.8,57.4 L1218.1,54.2 L1218.5,50.9 L1218.8,48.5 L1219.2,51.8 L1219.5,55.1 L1219.9,58.3 L1220.2,61.5 L1220.6,64.6 L1220.9,67.6 L1221.3,70.6 L1221.6,73.4 L1222.0,76.1 L1222.3,78.7 L1222.7,81.0 L1223.0,82.2 L1223.4,82.2 L1223.7,82.2" fill="none" stroke="#5b7fb8" stroke-width="1.1"/>
<line x1="1108.0" y1="83.7" x2="1109.5" y2="83.7" stroke="#222" stroke-width="0.8"/>
<text x="1107.5" y="85.2" font-size="4.5" text-anchor="end" fill="#555" stroke="#555" stroke-width="0.12">0</text>
<line x1="1108.0" y1="68.2" x2="1109.5" y2="68.2" stroke="#222" stroke-width="0.8"/>
<text x="1107.5" y="69.7" font-size="4.5" text-anchor="end" fill="#555" stroke="#555" stroke-width="0.12">40</text>
<line x1="1108.0" y1="52.7" x2="1109.5" y2="52.7" stroke="#222" stroke-width="0.8"/>
<text x="1107.5" y="54.2" font-size="4.5" text-anchor="end" fill="#555" stroke="#555" stroke-width="0.12">80</text>
<line x1="1108.0" y1="37.2" x2="1109.5" y2="37.2" stroke="#222" stroke-width="0.8"/>
<text x="1107.5" y="38.7" font-size="4.5" text-anchor="end" fill="#555" stroke="#555" stroke-width="0.12">120</text>
<line x1="1109.5" y1="87.6" x2="1109.5" y2="89.1" stroke="#222" stroke-width="0.8"/>
<text x="1109.5" y="92.2" font-size="4.5" text-anchor="middle" fill="#555" stroke="#555" stroke-width="0.12">4000</text>
<line x1="1138.2" y1="87.6" x2="1138.2" y2="89.1" stroke="#222" stroke-width="0.8"/>
<text x="1138.2" y="92.2" font-size="4.5" text-anchor="middle" fill="#555" stroke="#555" stroke-width="0.12">4005</text>
<line x1="1167.0" y1="87.6" x2="1167.0" y2="89.1" stroke="#222" stroke-width="0.8"/>
<text x="1167.0" y="92.2" font-size="4.5" text-anchor="middle" fill="#555" stroke="#555" stroke-width="0.12">4010</text>
<line x1="1195.8" y1="87.6" x2="1195.8" y2="89.1" stroke="#222" stroke-width="0.8"/>
<text x="1195.8" y="92.2" font-size="4.5" text-anchor="middle" fill="#555" stroke="#555" stroke-width="0.12">4015</text>
<line x1="1224.5" y1="87.6" x2="1224.5" y2="89.1" stroke="#222" stroke-width="0.8"/>
<text x="1224.5" y="92.2" font-size="4.5" text-anchor="middle" fill="#555" stroke="#555" stroke-width="0.12">4020</text>
<text x="25.3" y="242.5" font-size="16.5" fill="#222" stroke="#222" stroke-width="0.25">(e)</text>
<path d="M66.2,371.3 L66.4,371.3 L66.5,371.3 L66.7,371.3 L66.8,371.3 L67.0,371.3 L67.2,371.3 L67.3,371.3 L67.5,371.3 L67.7,371.3 L67.8,371.3 L68.0,371.3 L68.1,371.3 L68.3,371.3 L68.5,371.3 L68.6,371.3 L68.8,371.3 L68.9,371.3 L69.1,371.3 L69.3,371.3 L69.4,371.3 L69.6,371.3 L69.7,371.3 L69.9,371.3 L70.1,371.3 L70.2,371.3 L70.4,371.3 L70.6,371.3 L70.7,371.3 L70.9,371.3 L71.0,371.3 L71.2,371.3 L71.4,371.3 L71.5,371.3 L71.7,371.3 L71.8,371.3 L72.0,371.3 L72.2,371.3 L72.3,371.3 L72.5,371.3 L72.6,371.3 L72.8,371.3 L73.0,371.3 L73.1,371.3 L73.3,371.3 L73.5,371.3 L73.6,371.3 L73.8,371.3 L73.9,371.3 L74.1,371.3 L74.3,371.3 L74.4,371.3 L74.6,371.3 L74.7,371.3 L74.9,371.3 L75.1,371.3 L75.2,371.3 L75.4,371.3 L75.5,371.3 L75.7,371.3 L75.9,371.3 L76.0,371.3 L76.2,371.3 L76.4,371.3 L76.5,371.3 L76.7,371.2 L76.8,371.2 L77.0,371.1 L77.2,371.0 L77.3,370.9 L77.5,370.7 L77.6,370.3 L77.8,369.8 L78.0,369.1 L78.1,368.3 L78.3,367.2 L78.4,366.0 L78.6,364.5 L78.8,363.0 L78.9,361.3 L79.1,359.7 L79.3,358.1 L79.4,356.7 L79.6,355.5 L79.7,354.6 L79.9,354.0 L80.1,353.8 L80.2,353.8 L80.4,354.1 L80.5,354.7 L80.7,355.6 L80.9,356.8 L81.0,358.3 L81.2,360.0 L81.3,361.7 L81.5,363.5 L81.7,365.2 L81.8,366.8 L82.0,368.3 L82.2,369.5 L82.3,370.6 L82.5,371.4 L82.6,372.0 L82.8,372.4 L83.0,372.7 L83.1,372.9 L83.3,373.0 L83.4,373.1 L83.6,373.2 L83.8,373.2 L83.9,373.2 L84.1,373.2 L84.3,373.1 L84.4,373.1 L84.6,373.1 L84.7,373.1 L84.9,373.0 L85.1,373.0 L85.2,373.0 L85.4,373.0 L85.5,372.9 L85.7,372.9 L85.9,372.9 L86.0,372.8 L86.2,372.8 L86.3,372.8 L86.5,372.8 L86.7,372.7 L86.8,372.7 L87.0,372.7 L87.2,372.7 L87.3,372.6 L87.5,372.6 L87.6,372.6 L87.8,372.6 L88.0,372.5 L88.1,372.5 L88.3,372.5 L88.4,372.4 L88.6,372.4 L88.8,372.4 L88.9,372.4 L89.1,372.3 L89.2,372.3 L89.4,372.3 L89.6,372.3 L89.7,372.2 L89.9,372.2 L90.1,372.2 L90.2,372.1 L90.4,372.1 L90.5,372.1 L90.7,372.1 L90.9,372.0 L91.0,372.0 L91.2,372.0 L91.3,372.0 L91.5,371.9 L91.7,371.9 L91.8,371.9 L92.0,371.9 L92.1,371.8 L92.3,371.8 L92.5,371.8 L92.6,371.7 L92.8,371.7 L93.0,371.7 L93.1,371.7 L93.3,371.6 L93.4,371.6 L93.6,371.6 L93.8,371.6 L93.9,371.5 L94.1,371.5 L94.2,371.5 L94.4,371.4 L94.6,371.4 L94.7,371.4 L94.9,371.3 L95.0,371.2 L95.2,371.1 L95.4,371.1 L95.5,371.0 L95.7,370.8 L95.9,370.6 L96.0,370.1 L96.2,369.5 L96.3,368.6 L96.5,367.6 L96.7,366.3 L96.8,364.8 L97.0,363.1 L97.1,361.3 L97.3,359.5 L97.5,357.8 L97.6,356.2 L97.8,354.8 L97.9,353.7 L98.1,353.0 L98.3,352.6 L98.4,352.6 L98.6,352.9 L98.8,353.5 L98.9,354.5 L99.1,355.8 L99.2,357.4 L99.4,359.3 L99.6,361.3 L99.7,363.4 L99.9,365.4 L100.0,367.4 L100.2,369.1 L100.4,370.7 L100.5,372.0 L100.7,373.0 L100.9,373.7 L101.0,374.3 L101.2,374.6 L101.3,374.9 L101.5,375.1 L101.7,375.2 L101.8,375.2 L102.0,375.3 L102.1,375.3 L102.3,375.2 L102.5,375.2 L102.6,375.2 L102.8,375.2 L102.9,375.1 L103.1,375.1 L103.3,375.1 L103.4,375.0 L103.6,375.0 L103.8,375.0 L103.9,374.9 L104.1,374.9 L104.2,374.9 L104.4,374.8 L104.6,374.8 L104.7,374.8 L104.9,374.7 L105.0,374.7 L105.2,374.7 L105.4,374.6 L105.5,374.6 L105.7,374.6 L105.8,374.5 L106.0,374.5 L106.2,374.5 L106.3,374.4 L106.5,374.4 L106.7,374.4 L106.8,374.3 L107.0,374.3 L107.1,374.3 L107.3,374.2 L107.5,374.2 L107.6,374.2 L107.8,374.1 L107.9,374.1 L108.1,374.1 L108.3,374.0 L108.4,374.0 L108.6,373.9 L108.7,373.9 L108.9,373.9 L109.1,373.8 L109.2,373.8 L109.4,373.8 L109.6,373.7 L109.7,373.7 L109.9,373.7 L110.0,373.6 L110.2,373.6 L110.4,373.6 L110.5,373.5 L110.7,373.5 L110.8,373.5 L111.0,373.4 L111.2,373.4 L111.3,373.4 L111.5,373.3 L111.6,373.3 L111.8,373.3 L112.0,373.2 L112.1,373.2 L112.3,373.1 L112.5,373.0 L112.6,372.9 L112.8,372.7 L112.9,372.4 L113.1,372.1 L113.3,371.6 L113.4,370.9 L113.6,370.2 L113.7,369.3 L113.9,368.1 L114.1,366.7 L114.2,365.1 L114.4,363.3 L114.6,361.3 L114.7,359.4 L114.9,357.5 L115.0,355.7 L115.2,354.2 L115.4,353.0 L115.5,352.2 L115.7,351.9 L115.8,351.8 L116.0,352.1 L116.2,352.7 L116.3,353.8 L116.5,355.2 L116.6,356.9 L116.8,358.9 L117.0,361.1 L117.1,363.3 L117.3,365.4 L117.5,367.5 L117.6,369.4 L117.8,371.0 L117.9,372.4 L118.1,373.6 L118.3,374.5 L118.4,375.3 L118.6,375.8 L118.7,376.3 L118.9,376.6 L119.1,376.7 L119.2,376.8 L119.4,376.8 L119.5,376.8 L119.7,376.8 L119.9,376.8 L120.0,376.8 L120.2,376.8 L120.4,376.7 L120.5,376.7 L120.7,376.7 L120.8,376.7 L121.0,376.6 L121.2,376.6 L121.3,376.6 L121.5,376.6 L121.6,376.5 L121.8,376.5 L122.0,376.5 L122.1,376.5 L122.3,376.4 L122.4,376.4 L122.6,376.4 L122.8,376.4 L122.9,376.3 L123.1,376.3 L123.3,376.3 L123.4,376.3 L123.6,376.2 L123.7,376.2 L123.9,376.2 L124.1,376.2 L124.2,376.1 L124.4,376.1 L124.5,376.1 L124.7,376.1 L124.9,376.0 L125.0,376.0 L125.2,376.0 L125.3,376.0 L125.5,375.9 L125.7,375.9 L125.8,375.9 L126.0,375.9 L126.2,375.8 L126.3,375.8 L126.5,375.8 L126.6,375.8 L126.8,375.7 L127.0,375.7 L127.1,375.7 L127.3,375.7 L127.4,375.6 L127.6,375.6 L127.8,375.6 L127.9,375.6 L128.1,375.6 L128.2,375.5 L128.4,375.5 L128.6,375.5 L128.7,375.5 L128.9,375.4 L129.1,375.4 L129.2,375.4 L129.4,375.4 L129.5,375.3 L129.7,375.3 L129.9,375.3 L130.0,375.3 L130.2,375.2 L130.3,375.2 L130.5,375.2 L130.7,375.2 L130.8,375.1 L131.0,375.1 L131.2,375.1 L131.3,375.1 L131.5,375.0 L131.6,375.0 L131.8,375.0 L132.0,375.0 L132.1,374.9 L132.3,374.9 L132.4,374.9 L132.6,374.9 L132.8,374.8 L132.9,374.8 L133.1,374.8 L133.2,374.8 L133.4,374.7 L133.6,374.7 L133.7,374.7 L133.9,374.7 L134.1,374.6 L134.2,374.6 L134.4,374.6 L134.5,374.6 L134.7,374.5 L134.9,374.5 L135.0,374.5 L135.2,374.5 L135.3,374.4 L135.5,374.4 L135.7,374.4 L135.8,374.4 L136.0,374.3 L136.1,374.3 L136.3,374.3 L136.5,374.3 L136.6,374.2 L136.8,374.2 L137.0,374.2 L137.1,374.2 L137.3,374.1 L137.4,374.1 L137.6,374.0 L137.8,374.0 L137.9,373.9 L138.1,373.7 L138.2,373.6 L138.4,373.3 L138.6,372.9 L138.7,372.4 L138.9,371.5 L139.0,370.4 L139.2,369.0 L139.4,367.1 L139.5,364.8 L139.7,362.1 L139.9,359.1 L140.0,355.7 L140.2,352.2 L140.3,348.7 L140.5,345.4 L140.7,342.4 L140.8,339.8 L141.0,337.9 L141.1,336.6 L141.3,336.0 L141.5,336.0 L141.6,336.5 L141.8,337.6 L141.9,339.4 L142.1,341.9 L142.3,344.8 L142.4,348.2 L142.6,351.8 L142.8,355.4 L142.9,358.9 L143.1,362.1 L143.2,365.0 L143.4,367.5 L143.6,369.6 L143.7,371.3 L143.9,372.7 L144.0,373.7 L144.2,374.4 L144.4,374.9 L144.5,375.3 L144.7,375.6 L144.8,375.7 L145.0,375.7 L145.2,375.8 L145.3,375.8 L145.5,375.8 L145.7,375.8 L145.8,375.8 L146.0,375.7 L146.1,375.7 L146.3,375.7 L146.5,375.7 L146.6,375.7 L146.8,375.6 L146.9,375.6 L147.1,375.6 L147.3,375.6 L147.4,375.6 L147.6,375.6 L147.8,375.5 L147.9,375.5 L148.1,375.5 L148.2,375.5 L148.4,375.5 L148.6,375.4 L148.7,375.4 L148.9,375.4 L149.0,375.4 L149.2,375.4 L149.4,375.4 L149.5,375.3 L149.7,375.3 L149.8,375.3 L150.0,375.3 L150.2,375.3 L150.3,375.2 L150.5,375.2 L150.7,375.2 L150.8,375.2 L151.0,375.2 L151.1,375.1 L151.3,375.1 L151.5,375.1 L151.6,375.1 L151.8,375.1 L151.9,375.1 L152.1,375.0 L152.3,375.0 L152.4,375.0 L152.6,375.0 L152.7,375.0 L152.9,374.9 L153.1,374.9 L153.2,374.9 L153.4,374.9 L153.6,374.9 L153.7,374.9 L153.9,374.8 L154.0,374.8 L154.2,374.8 L154.4,374.8 L154.5,374.8 L154.7,374.7 L154.8,374.7 L155.0,374.7 L155.2,374.6 L155.3,374.5 L155.5,374.4 L155.6,374.2 L155.8,373.9 L156.0,373.4 L156.1,372.8 L156.3,371.9 L156.5,370.7 L156.6,369.3 L156.8,367.4 L156.9,365.1 L157.1,362.4 L157.3,359.4 L157.4,356.0 L157.6,352.5 L157.7,349.0 L157.9,345.7 L158.1,342.7 L158.2,340.1 L158.4,338.2 L158.5,336.9 L158.7,336.3 L158.9,336.3 L159.0,336.8 L159.2,337.9 L159.4,339.7 L159.5,342.2 L159.7,345.2 L159.8,348.5 L160.0,352.1 L160.2,355.7 L160.3,359.2 L160.5,362.4 L160.6,365.4 L160.8,367.9 L161.0,370.0 L161.1,371.7 L161.3,373.0 L161.4,374.0 L161.6,374.7 L161.8,375.3 L161.9,375.6 L162.1,375.8 L162.3,375.9 L162.4,376.0 L162.6,376.0 L162.7,376.0 L162.9,376.0 L163.1,376.0 L163.2,375.9 L163.4,375.9 L163.5,375.9 L163.7,375.9 L163.9,375.8 L164.0,375.8 L164.2,375.8 L164.4,375.8 L164.5,375.7 L164.7,375.7 L164.8,375.7 L165.0,375.7 L165.2,375.6 L165.3,375.6 L165.5,375.6 L165.6,375.6 L165.8,375.5 L166.0,375.5 L166.1,375.5 L166.3,375.5 L166.4,375.4 L166.6,375.4 L166.8,375.4 L166.9,375.4 L167.1,375.3 L167.3,375.3 L167.4,375.3 L167.6,375.3 L167.7,375.2 L167.9,375.2 L168.1,375.2 L168.2,375.2 L168.4,375.1 L168.5,375.1 L168.7,375.1 L168.9,375.1 L169.0,375.0 L169.2,375.0 L169.3,375.0 L169.5,375.0 L169.7,374.9 L169.8,374.9 L170.0,374.9 L170.2,374.9 L170.3,374.9 L170.5,374.8 L170.6,374.8 L170.8,374.8 L171.0,374.8 L171.1,374.7 L171.3,374.7 L171.4,374.7 L171.6,374.7 L171.8,374.6 L171.9,374.6 L172.1,374.6 L172.2,374.6 L172.4,374.5 L172.6,374.5 L172.7,374.5 L172.9,374.5 L173.1,374.4 L173.2,374.4 L173.4,374.4 L173.5,374.4 L173.7,374.3 L173.9,374.3 L174.0,374.3 L174.2,374.3 L174.3,374.2 L174.5,374.2 L174.7,374.2 L174.8,374.1 L175.0,374.1 L175.1,374.1 L175.3,374.0 L175.5,373.9 L175.6,373.8 L175.8,373.6 L176.0,373.4 L176.1,373.0 L176.3,372.5 L176.4,371.7 L176.6,370.6 L176.8,369.2 L176.9,367.4 L177.1,365.2 L177.2,362.5 L177.4,359.4 L177.6,356.0 L177.7,352.4 L177.9,348.8 L178.0,345.2 L178.2,341.9 L178.4,339.1 L178.5,336.9 L178.7,335.3 L178.9,334.4 L179.0,334.2 L179.2,334.5 L179.3,335.4 L179.5,337.0 L179.7,339.3 L179.8,342.2 L180.0,345.5 L180.1,349.2 L180.3,352.9 L180.5,356.5 L180.6,360.0 L180.8,363.1 L181.0,365.8 L181.1,368.1 L181.3,370.0 L181.4,371.4 L181.6,372.6 L181.8,373.4 L181.9,374.0 L182.1,374.4 L182.2,374.7 L182.4,374.8 L182.6,374.9 L182.7,374.9 L182.9,375.0 L183.0,375.0 L183.2,374.9 L183.4,374.9 L183.5,374.9 L183.7,374.9 L183.9,374.9 L184.0,374.8 L184.2,374.8 L184.3,374.8 L184.5,374.8 L184.7,374.8 L184.8,374.7 L185.0,374.7 L185.1,374.7 L185.3,374.7 L185.5,374.7 L185.6,374.6 L185.8,374.6 L185.9,374.6 L186.1,374.6 L186.3,374.5 L186.4,374.5 L186.6,374.5 L186.8,374.5 L186.9,374.5 L187.1,374.4 L187.2,374.4 L187.4,374.4 L187.6,374.4 L187.7,374.4 L187.9,374.3 L188.0,374.3 L188.2,374.3 L188.4,374.3 L188.5,374.2 L188.7,374.2 L188.8,374.2 L189.0,374.2 L189.2,374.2 L189.3,374.1 L189.5,374.1 L189.7,374.1 L189.8,374.1 L190.0,374.0 L190.1,374.0 L190.3,374.0 L190.5,374.0 L190.6,374.0 L190.8,373.9 L190.9,373.9 L191.1,373.9 L191.3,373.9 L191.4,373.9 L191.6,373.8 L191.7,373.8 L191.9,373.8 L192.1,373.8 L192.2,373.7 L192.4,373.7 L192.6,373.7 L192.7,373.7 L192.9,373.7 L193.0,373.6 L193.2,373.6 L193.4,373.6 L193.5,373.6 L193.7,373.6 L193.8,373.5 L194.0,373.5 L194.2,373.5 L194.3,373.5 L194.5,373.4 L194.6,373.4 L194.8,373.4 L195.0,373.4 L195.1,373.4 L195.3,373.3 L195.5,373.3 L195.6,373.3 L195.8,373.3 L195.9,373.3 L196.1,373.2 L196.3,373.2 L196.4,373.2 L196.6,373.2 L196.7,373.1 L196.9,373.1 L197.1,373.1 L197.2,373.1 L197.4,373.1 L197.6,373.0 L197.7,373.0 L197.9,373.0 L198.0,372.9 L198.2,372.8 L198.4,372.7 L198.5,372.7 L198.7,372.7 L198.8,372.5 L199.0,372.2 L199.2,371.7 L199.3,370.9 L199.5,369.7 L199.6,368.1 L199.8,366.0 L200.0,363.3 L200.1,360.0 L200.3,356.0 L200.5,351.4 L200.6,346.2 L200.8,340.4 L200.9,334.4 L201.1,328.1 L201.3,322.0 L201.4,316.1 L201.6,310.8 L201.7,306.2 L201.9,302.6 L202.1,300.0 L202.2,298.4 L202.4,297.9 L202.5,298.2 L202.7,299.4 L202.9,301.6 L203.0,304.9 L203.2,309.3 L203.4,314.4 L203.5,320.3 L203.7,326.7 L203.8,333.2 L204.0,339.8 L204.2,346.1 L204.3,352.0 L204.5,357.4 L204.6,362.1 L204.8,366.2 L205.0,369.7 L205.1,372.5 L205.3,374.8 L205.4,376.6 L205.6,378.0 L205.8,379.0 L205.9,379.8 L206.1,380.2 L206.3,380.5 L206.4,380.6 L206.6,380.8 L206.7,380.8 L206.9,380.9 L207.1,380.9 L207.2,380.9 L207.4,380.9 L207.5,380.9 L207.7,380.9 L207.9,380.8 L208.0,380.8 L208.2,380.8 L208.3,380.8 L208.5,380.8 L208.7,380.8 L208.8,380.8 L209.0,380.8 L209.2,380.7 L209.3,380.7 L209.5,380.7 L209.6,380.7 L209.8,380.7 L210.0,380.7 L210.1,380.7 L210.3,380.7 L210.4,380.6 L210.6,380.6 L210.8,380.6 L210.9,380.6 L211.1,380.6 L211.2,380.6 L211.4,380.6 L211.6,380.6 L211.7,380.5 L211.9,380.5 L212.1,380.5 L212.2,380.5 L212.4,380.5 L212.5,380.5 L212.7,380.5 L212.9,380.5 L213.0,380.5 L213.2,380.4 L213.3,380.4 L213.5,380.4 L213.7,380.4 L213.8,380.4 L214.0,380.4 L214.2,380.4 L214.3,380.4 L214.5,380.3 L214.6,380.3 L214.8,380.3 L215.0,380.3 L215.1,380.3 L215.3,380.3 L215.4,380.3 L215.6,380.3 L215.8,380.2 L215.9,380.2 L216.1,380.2 L216.2,380.2 L216.4,380.2 L216.6,380.2 L216.7,380.2 L216.9,380.2 L217.1,380.1 L217.2,380.1 L217.4,380.1 L217.5,380.1 L217.7,380.1 L217.9,380.1 L218.0,380.0 L218.2,380.0 L218.3,380.0 L218.5,379.9 L218.7,379.9 L218.8,379.7 L219.0,379.6 L219.1,379.3 L219.3,378.9 L219.5,378.3 L219.6,377.5 L219.8,376.4 L220.0,375.0 L220.1,373.1 L220.3,370.7 L220.4,367.7 L220.6,364.1 L220.8,359.8 L220.9,354.9 L221.1,349.4 L221.2,343.4 L221.4,337.2 L221.6,330.9 L221.7,324.7 L221.9,318.9 L222.0,313.7 L222.2,309.4 L222.4,306.0 L222.5,303.6 L222.7,302.3 L222.9,302.0 L223.0,302.4 L223.2,303.8 L223.3,306.2 L223.5,309.7 L223.7,314.2 L223.8,319.5 L224.0,325.4 L224.1,331.7 L224.3,338.1 L224.5,344.4 L224.6,350.4 L224.8,356.0 L224.9,361.0 L225.1,365.4 L225.3,369.1 L225.4,372.2 L225.6,374.7 L225.8,376.7 L225.9,378.2 L226.1,379.3 L226.2,380.2 L226.4,380.7 L226.6,381.1 L226.7,381.3 L226.9,381.5 L227.0,381.6 L227.2,381.6 L227.4,381.7 L227.5,381.7 L227.7,381.7 L227.9,381.6 L228.0,381.6 L228.2,381.6 L228.3,381.6 L228.5,381.6 L228.7,381.6 L228.8,381.6 L229.0,381.5 L229.1,381.5 L229.3,381.5 L229.5,381.5 L229.6,381.5 L229.8,381.5 L229.9,381.5 L230.1,381.4 L230.3,381.4 L230.4,381.4 L230.6,381.4 L230.8,381.4 L230.9,381.4 L231.1,381.3 L231.2,381.3 L231.4,381.3 L231.6,381.3 L231.7,381.3 L231.9,381.3 L232.0,381.3 L232.2,381.2 L232.4,381.2 L232.5,381.2 L232.7,381.2 L232.8,381.2 L233.0,381.2 L233.2,381.1 L233.3,381.1 L233.5,381.1 L233.7,381.1 L233.8,381.1 L234.0,381.1 L234.1,381.1 L234.3,381.0 L234.5,381.0 L234.6,381.0 L234.8,381.0 L234.9,381.0 L235.1,381.0 L235.3,380.9 L235.4,380.9 L235.6,380.9 L235.7,380.9 L235.9,380.9 L236.1,380.9 L236.2,380.9 L236.4,380.8 L236.6,380.8 L236.7,380.8 L236.9,380.8 L237.0,380.8 L237.2,380.8 L237.4,380.7 L237.5,380.7 L237.7,380.7 L237.8,380.7 L238.0,380.7 L238.2,380.7 L238.3,380.6 L238.5,380.6 L238.6,380.6 L238.8,380.6 L239.0,380.5 L239.1,380.5 L239.3,380.4 L239.5,380.3 L239.6,380.1 L239.8,379.8 L239.9,379.4 L240.1,378.9 L240.3,378.1 L240.4,377.1 L240.6,375.7 L240.7,373.8 L240.9,371.5 L241.1,368.5 L241.2,364.9 L241.4,360.7 L241.5,355.9 L241.7,350.5 L241.9,344.6 L242.0,338.5 L242.2,332.3 L242.4,326.2 L242.5,320.5 L242.7,315.4 L242.8,311.1 L243.0,307.7 L243.2,305.4 L243.3,304.1 L243.5,303.8 L243.6,304.2 L243.8,305.6 L244.0,308.0 L244.1,311.4 L244.3,315.8 L244.5,321.0 L244.6,326.8 L244.8,332.9 L244.9,339.2 L245.1,345.4 L245.3,351.3 L245.4,356.8 L245.6,361.8 L245.7,366.1 L245.9,369.7 L246.1,372.8 L246.2,375.2 L246.4,377.1 L246.5,378.6 L246.7,379.7 L246.9,380.4 L247.0,381.0 L247.2,381.3 L247.4,381.5 L247.5,381.6 L247.7,381.7 L247.8,381.8 L248.0,381.8 L248.2,381.7 L248.3,381.7 L248.5,381.7 L248.6,381.7 L248.8,381.6 L249.0,381.6 L249.1,381.6 L249.3,381.5 L249.4,381.5 L249.6,381.5 L249.8,381.4 L249.9,381.4 L250.1,381.4 L250.3,381.3 L250.4,381.3 L250.6,381.3 L250.7,381.2 L250.9,381.2 L251.1,381.2 L251.2,381.1 L251.4,381.1 L251.5,381.1 L251.7,381.0 L251.9,381.0 L252.0,381.0 L252.2,380.9 L252.3,380.9 L252.5,380.9 L252.7,380.8 L252.8,380.8 L253.0,380.8 L253.2,380.7 L253.3,380.7 L253.5,380.7 L253.6,380.6 L253.8,380.6 L254.0,380.6 L254.1,380.5 L254.3,380.5 L254.4,380.5 L254.6,380.4 L254.8,380.4 L254.9,380.4 L255.1,380.3 L255.2,380.3 L255.4,380.3 L255.6,380.2 L255.7,380.2 L255.9,380.2 L256.1,380.1 L256.2,380.1 L256.4,380.1 L256.5,380.0 L256.7,380.0 L256.9,380.0 L257.0,379.9 L257.2,379.9 L257.3,379.9 L257.5,379.8 L257.7,379.8 L257.8,379.8 L258.0,379.7 L258.1,379.7 L258.3,379.7 L258.5,379.6 L258.6,379.6 L258.8,379.6 L259.0,379.5 L259.1,379.5 L259.3,379.5 L259.4,379.4 L259.6,379.4" fill="none" stroke="#111" stroke-width="2.2" stroke-linejoin="round"/>
<rect x="66.2" y="236.8" width="193.4" height="155.5" fill="none" stroke="#111" stroke-width="2.0"/>
<line x1="66.2" y1="392.3" x2="66.2" y2="395.3" stroke="#111" stroke-width="1.3"/>
<text x="66.2" y="405.3" font-size="10" text-anchor="middle" fill="#333" stroke="#333" stroke-width="0.22">0</text>
<line x1="87.7" y1="392.3" x2="87.7" y2="395.3" stroke="#111" stroke-width="1.3"/>
<text x="87.7" y="405.3" font-size="10" text-anchor="middle" fill="#333" stroke="#333" stroke-width="0.22">2</text>
<line x1="109.2" y1="392.3" x2="109.2" y2="395.3" stroke="#111" stroke-width="1.3"/>
<text x="109.2" y="405.3" font-size="10" text-anchor="middle" fill="#333" stroke="#333" stroke-width="0.22">4</text>
<line x1="130.7" y1="392.3" x2="130.7" y2="395.3" stroke="#111" stroke-width="1.3"/>
<text x="130.7" y="405.3" font-size="10" text-anchor="middle" fill="#333" stroke="#333" stroke-width="0.22">6</text>
<line x1="152.2" y1="392.3" x2="152.2" y2="395.3" stroke="#111" stroke-width="1.3"/>
<text x="152.2" y="405.3" font-size="10" text-anchor="middle" fill="#333" stroke="#333" stroke-width="0.22">8</text>
<line x1="173.6" y1="392.3" x2="173.6" y2="395.3" stroke="#111" stroke-width="1.3"/>
<text x="173.6" y="405.3" font-size="10" text-anchor="middle" fill="#333" stroke="#333" stroke-width="0.22">10</text>
<line x1="195.1" y1="392.3" x2="195.1" y2="395.3" stroke="#111" stroke-width="1.3"/>
<text x="195.1" y="405.3" font-size="10" text-anchor="middle" fill="#333" stroke="#333" stroke-width="0.22">12</text>
<line x1="216.6" y1="392.3" x2="216.6" y2="395.3" stroke="#111" stroke-width="1.3"/>
<text x="216.6" y="405.3" font-size="10" text-anchor="middle" fill="#333" stroke="#333" stroke-width="0.22">14</text>
<line x1="238.1" y1="392.3" x2="238.1" y2="395.3" stroke="#111" stroke-width="1.3"/>
<text x="238.1" y="405.3" font-size="10" text-anchor="middle" fill="#333" stroke="#333" stroke-width="0.22">16</text>
<line x1="259.6" y1="392.3" x2="259.6" y2="395.3" stroke="#111" stroke-width="1.3"/>
<text x="259.6" y="405.3" font-size="10" text-anchor="middle" fill="#333" stroke="#333" stroke-width="0.22">18</text>
<line x1="76.9" y1="392.3" x2="76.9" y2="394.1" stroke="#111" stroke-width="1"/>
<line x1="98.4" y1="392.3" x2="98.4" y2="394.1" stroke="#111" stroke-width="1"/>
<line x1="119.9" y1="392.3" x2="119.9" y2="394.1" stroke="#111" stroke-width="1"/>
<line x1="141.4" y1="392.3" x2="141.4" y2="394.1" stroke="#111" stroke-width="1"/>
<line x1="162.9" y1="392.3" x2="162.9" y2="394.1" stroke="#111" stroke-width="1"/>
<line x1="184.4" y1="392.3" x2="184.4" y2="394.1" stroke="#111" stroke-width="1"/>
<line x1="205.9" y1="392.3" x2="205.9" y2="394.1" stroke="#111" stroke-width="1"/>
<line x1="227.4" y1="392.3" x2="227.4" y2="394.1" stroke="#111" stroke-width="1"/>
<line x1="248.9" y1="392.3" x2="248.9" y2="394.1" stroke="#111" stroke-width="1"/>
<line x1="63.2" y1="371.3" x2="66.2" y2="371.3" stroke="#111" stroke-width="1.3"/>
<text x="62.2" y="374.7" font-size="10" text-anchor="end" fill="#333" stroke="#333" stroke-width="0.22">0</text>
<line x1="63.2" y1="344.4" x2="66.2" y2="344.4" stroke="#111" stroke-width="1.3"/>
<text x="62.2" y="347.8" font-size="10" text-anchor="end" fill="#333" stroke="#333" stroke-width="0.22">10</text>
<line x1="63.2" y1="317.5" x2="66.2" y2="317.5" stroke="#111" stroke-width="1.3"/>
<text x="62.2" y="320.9" font-size="10" text-anchor="end" fill="#333" stroke="#333" stroke-width="0.22">20</text>
<line x1="63.2" y1="290.6" x2="66.2" y2="290.6" stroke="#111" stroke-width="1.3"/>
<text x="62.2" y="294.0" font-size="10" text-anchor="end" fill="#333" stroke="#333" stroke-width="0.22">30</text>
<line x1="63.2" y1="263.7" x2="66.2" y2="263.7" stroke="#111" stroke-width="1.3"/>
<text x="62.2" y="267.1" font-size="10" text-anchor="end" fill="#333" stroke="#333" stroke-width="0.22">40</text>
<line x1="63.2" y1="236.8" x2="66.2" y2="236.8" stroke="#111" stroke-width="1.3"/>
<text x="62.2" y="240.2" font-size="10" text-anchor="end" fill="#333" stroke="#333" stroke-width="0.22">50</text>
<line x1="64.4" y1="357.9" x2="66.2" y2="357.9" stroke="#111" stroke-width="1"/>
<line x1="64.4" y1="331.0" x2="66.2" y2="331.0" stroke="#111" stroke-width="1"/>
<line x1="64.4" y1="304.1" x2="66.2" y2="304.1" stroke="#111" stroke-width="1"/>
<line x1="64.4" y1="277.2" x2="66.2" y2="277.2" stroke="#111" stroke-width="1"/>
<line x1="64.4" y1="250.3" x2="66.2" y2="250.3" stroke="#111" stroke-width="1"/>
<text transform="translate(41.0,312.5) rotate(-90)" font-size="13" text-anchor="middle" fill="#222" dominant-baseline="central" stroke="#222" stroke-width="0.22">ΔR/R<tspan font-size="9.1" dy="3.2">0</tspan><tspan dy="-3.2"> (%)</tspan></text>
<text x="163.2" y="420.5" font-size="13" text-anchor="middle" fill="#222" stroke="#222" stroke-width="0.22">Time (s)</text>
<text x="280.5" y="245.0" font-size="16.5" fill="#222" stroke="#222" stroke-width="0.25">(f)</text>
<path d="M324.0,377.8 L324.2,377.8 L324.3,377.8 L324.5,377.8 L324.6,377.8 L324.8,377.8 L325.0,377.8 L325.1,377.8 L325.3,377.8 L325.4,377.8 L325.6,377.8 L325.8,377.8 L325.9,377.8 L326.1,377.8 L326.2,377.8 L326.4,377.8 L326.6,377.8 L326.7,377.8 L326.9,377.8 L327.0,377.8 L327.2,377.8 L327.4,377.8 L327.5,377.8 L327.7,377.8 L327.9,377.8 L328.0,377.8 L328.2,377.8 L328.3,377.8 L328.5,377.8 L328.7,377.8 L328.8,377.8 L329.0,377.8 L329.1,377.8 L329.3,377.8 L329.5,377.8 L329.6,377.8 L329.8,377.8 L329.9,377.8 L330.1,377.8 L330.3,377.8 L330.4,377.8 L330.6,377.8 L330.7,377.8 L330.9,377.8 L331.1,377.8 L331.2,377.8 L331.4,377.8 L331.5,377.8 L331.7,377.8 L331.9,377.7 L332.0,377.7 L332.2,377.7 L332.3,377.7 L332.5,377.7 L332.7,377.7 L332.8,377.7 L333.0,377.7 L333.1,377.7 L333.3,377.6 L333.5,377.6 L333.6,377.6 L333.8,377.5 L334.0,377.4 L334.1,377.3 L334.3,377.2 L334.4,377.1 L334.6,376.9 L334.8,376.7 L334.9,376.4 L335.1,376.1 L335.2,375.7 L335.4,375.2 L335.6,374.7 L335.7,374.1 L335.9,373.4 L336.0,372.6 L336.2,371.7 L336.4,370.7 L336.5,369.6 L336.7,368.3 L336.8,366.9 L337.0,365.4 L337.2,363.7 L337.3,361.9 L337.5,360.0 L337.6,357.9 L337.8,355.7 L338.0,353.4 L338.1,351.0 L338.3,348.4 L338.4,345.8 L338.6,343.2 L338.8,340.4 L338.9,337.6 L339.1,334.8 L339.2,332.0 L339.4,329.2 L339.6,326.5 L339.7,323.8 L339.9,321.1 L340.1,318.6 L340.2,316.1 L340.4,313.8 L340.5,311.5 L340.7,309.4 L340.9,307.5 L341.0,305.7 L341.2,304.0 L341.3,302.5 L341.5,301.1 L341.7,299.9 L341.8,298.9 L342.0,298.0 L342.1,297.2 L342.3,296.6 L342.5,296.1 L342.6,295.7 L342.8,295.4 L342.9,295.1 L343.1,295.0 L343.3,294.9 L343.4,294.9 L343.6,294.9 L343.7,294.9 L343.9,294.9 L344.1,295.0 L344.2,295.1 L344.4,295.3 L344.5,295.5 L344.7,295.9 L344.9,296.4 L345.0,297.0 L345.2,297.7 L345.3,298.5 L345.5,299.5 L345.7,300.7 L345.8,302.0 L346.0,303.4 L346.1,305.0 L346.3,306.8 L346.5,308.7 L346.6,310.7 L346.8,312.9 L347.0,315.2 L347.1,317.7 L347.3,320.2 L347.4,322.8 L347.6,325.5 L347.8,328.2 L347.9,331.0 L348.1,333.8 L348.2,336.6 L348.4,339.4 L348.6,342.2 L348.7,344.9 L348.9,347.5 L349.0,350.1 L349.2,352.5 L349.4,354.9 L349.5,357.1 L349.7,359.2 L349.8,361.2 L350.0,363.1 L350.2,364.8 L350.3,366.4 L350.5,367.8 L350.6,369.1 L350.8,370.2 L351.0,371.3 L351.1,372.2 L351.3,373.0 L351.4,373.7 L351.6,374.3 L351.8,374.8 L351.9,375.2 L352.1,375.6 L352.2,375.9 L352.4,376.2 L352.6,376.4 L352.7,376.6 L352.9,376.7 L353.1,376.8 L353.2,376.9 L353.4,376.9 L353.5,377.0 L353.7,377.0 L353.9,377.0 L354.0,377.0 L354.2,377.0 L354.3,377.0 L354.5,377.0 L354.7,376.9 L354.8,376.9 L355.0,376.9 L355.1,376.9 L355.3,376.9 L355.5,376.8 L355.6,376.8 L355.8,376.8 L355.9,376.7 L356.1,376.7 L356.3,376.7 L356.4,376.7 L356.6,376.6 L356.7,376.6 L356.9,376.6 L357.1,376.5 L357.2,376.5 L357.4,376.5 L357.5,376.5 L357.7,376.4 L357.9,376.4 L358.0,376.4 L358.2,376.3 L358.3,376.3 L358.5,376.3 L358.7,376.3 L358.8,376.2 L359.0,376.2 L359.1,376.2 L359.3,376.1 L359.5,376.1 L359.6,376.1 L359.8,376.1 L360.0,376.0 L360.1,376.0 L360.3,376.0 L360.4,375.9 L360.6,375.9 L360.8,375.9 L360.9,375.8 L361.1,375.8 L361.2,375.8 L361.4,375.8 L361.6,375.7 L361.7,375.7 L361.9,375.6 L362.0,375.6 L362.2,375.5 L362.4,375.5 L362.5,375.4 L362.7,375.3 L362.8,375.3 L363.0,375.1 L363.2,375.0 L363.3,374.9 L363.5,374.7 L363.6,374.5 L363.8,374.2 L364.0,373.9 L364.1,373.6 L364.3,373.2 L364.4,372.7 L364.6,372.2 L364.8,371.5 L364.9,370.8 L365.1,370.0 L365.2,369.1 L365.4,368.0 L365.6,366.8 L365.7,365.5 L365.9,364.1 L366.1,362.5 L366.2,360.9 L366.4,359.1 L366.5,357.2 L366.7,355.1 L366.9,352.9 L367.0,350.6 L367.2,348.2 L367.3,345.7 L367.5,343.1 L367.7,340.4 L367.8,337.6 L368.0,334.9 L368.1,332.0 L368.3,329.2 L368.5,326.4 L368.6,323.7 L368.8,320.9 L368.9,318.3 L369.1,315.7 L369.3,313.2 L369.4,310.8 L369.6,308.6 L369.7,306.5 L369.9,304.5 L370.1,302.7 L370.2,301.0 L370.4,299.5 L370.5,298.2 L370.7,297.0 L370.9,295.9 L371.0,295.0 L371.2,294.3 L371.3,293.7 L371.5,293.2 L371.7,292.8 L371.8,292.5 L372.0,292.3 L372.1,292.2 L372.3,292.2 L372.5,292.2 L372.6,292.2 L372.8,292.2 L373.0,292.3 L373.1,292.4 L373.3,292.5 L373.4,292.7 L373.6,293.0 L373.8,293.4 L373.9,293.9 L374.1,294.6 L374.2,295.3 L374.4,296.2 L374.6,297.3 L374.7,298.4 L374.9,299.8 L375.0,301.3 L375.2,302.9 L375.4,304.7 L375.5,306.7 L375.7,308.8 L375.8,311.1 L376.0,313.4 L376.2,315.9 L376.3,318.5 L376.5,321.2 L376.6,324.0 L376.8,326.8 L377.0,329.7 L377.1,332.5 L377.3,335.4 L377.4,338.3 L377.6,341.2 L377.8,343.9 L377.9,346.7 L378.1,349.3 L378.2,351.9 L378.4,354.3 L378.6,356.5 L378.7,358.6 L378.9,360.6 L379.1,362.5 L379.2,364.2 L379.4,365.8 L379.5,367.3 L379.7,368.6 L379.9,369.7 L380.0,370.8 L380.2,371.7 L380.3,372.5 L380.5,373.3 L380.7,373.9 L380.8,374.4 L381.0,374.9 L381.1,375.2 L381.3,375.5 L381.5,375.8 L381.6,376.0 L381.8,376.2 L381.9,376.3 L382.1,376.4 L382.3,376.5 L382.4,376.5 L382.6,376.6 L382.7,376.6 L382.9,376.6 L383.1,376.6 L383.2,376.6 L383.4,376.6 L383.5,376.5 L383.7,376.5 L383.9,376.5 L384.0,376.5 L384.2,376.4 L384.3,376.4 L384.5,376.4 L384.7,376.3 L384.8,376.3 L385.0,376.3 L385.2,376.2 L385.3,376.2 L385.5,376.2 L385.6,376.1 L385.8,376.1 L386.0,376.0 L386.1,376.0 L386.3,376.0 L386.4,375.9 L386.6,375.9 L386.8,375.9 L386.9,375.8 L387.1,375.8 L387.2,375.8 L387.4,375.7 L387.6,375.7 L387.7,375.6 L387.9,375.6 L388.0,375.6 L388.2,375.5 L388.4,375.5 L388.5,375.5 L388.7,375.4 L388.8,375.4 L389.0,375.3 L389.2,375.3 L389.3,375.3 L389.5,375.2 L389.6,375.1 L389.8,375.1 L390.0,375.0 L390.1,374.9 L390.3,374.8 L390.4,374.7 L390.6,374.6 L390.8,374.5 L390.9,374.3 L391.1,374.1 L391.2,373.9 L391.4,373.6 L391.6,373.3 L391.7,372.9 L391.9,372.4 L392.1,371.9 L392.2,371.3 L392.4,370.6 L392.5,369.8 L392.7,369.0 L392.9,368.0 L393.0,366.9 L393.2,365.6 L393.3,364.3 L393.5,362.8 L393.7,361.2 L393.8,359.4 L394.0,357.5 L394.1,355.5 L394.3,353.5 L394.5,351.3 L394.6,349.0 L394.8,346.6 L394.9,344.2 L395.1,341.6 L395.3,339.0 L395.4,336.4 L395.6,333.7 L395.7,331.0 L395.9,328.3 L396.1,325.6 L396.2,323.0 L396.4,320.5 L396.5,318.0 L396.7,315.6 L396.9,313.3 L397.0,311.1 L397.2,309.1 L397.3,307.2 L397.5,305.4 L397.7,303.8 L397.8,302.3 L398.0,301.0 L398.2,299.8 L398.3,298.8 L398.5,297.9 L398.6,297.2 L398.8,296.6 L399.0,296.1 L399.1,295.7 L399.3,295.4 L399.4,295.3 L399.6,295.2 L399.8,295.1 L399.9,295.2 L400.1,295.2 L400.2,295.3 L400.4,295.3 L400.6,295.5 L400.7,295.6 L400.9,295.8 L401.0,296.1 L401.2,296.5 L401.4,297.0 L401.5,297.6 L401.7,298.3 L401.8,299.2 L402.0,300.2 L402.2,301.3 L402.3,302.6 L402.5,304.0 L402.6,305.6 L402.8,307.4 L403.0,309.2 L403.1,311.3 L403.3,313.4 L403.4,315.7 L403.6,318.1 L403.8,320.6 L403.9,323.2 L404.1,325.9 L404.2,328.7 L404.4,331.5 L404.6,334.3 L404.7,337.1 L404.9,339.9 L405.1,342.7 L405.2,345.4 L405.4,348.1 L405.5,350.7 L405.7,353.3 L405.9,355.7 L406.0,358.0 L406.2,360.2 L406.3,362.2 L406.5,364.2 L406.7,366.0 L406.8,367.6 L407.0,369.2 L407.1,370.6 L407.3,371.9 L407.5,373.0 L407.6,374.0 L407.8,374.9 L407.9,375.8 L408.1,376.4 L408.3,377.0 L408.4,377.4 L408.6,377.8 L408.7,378.1 L408.9,378.4 L409.1,378.6 L409.2,378.7 L409.4,378.9 L409.5,378.9 L409.7,379.0 L409.9,379.1 L410.0,379.1 L410.2,379.1 L410.3,379.1 L410.5,379.1 L410.7,379.1 L410.8,379.1 L411.0,379.0 L411.2,379.0 L411.3,379.0 L411.5,378.9 L411.6,378.9 L411.8,378.9 L412.0,378.8 L412.1,378.8 L412.3,378.7 L412.4,378.7 L412.6,378.6 L412.8,378.6 L412.9,378.6 L413.1,378.5 L413.2,378.5 L413.4,378.4 L413.6,378.4 L413.7,378.3 L413.9,378.3 L414.0,378.3 L414.2,378.2 L414.4,378.2 L414.5,378.1 L414.7,378.1 L414.8,378.0 L415.0,378.0 L415.2,378.0 L415.3,377.9 L415.5,377.9 L415.6,377.8 L415.8,377.8 L416.0,377.7 L416.1,377.7 L416.3,377.7 L416.4,377.6 L416.6,377.6 L416.8,377.5 L416.9,377.5 L417.1,377.4 L417.3,377.4 L417.4,377.4 L417.6,377.3 L417.7,377.3 L417.9,377.2 L418.1,377.2 L418.2,377.1 L418.4,377.1 L418.5,377.1 L418.7,377.0 L418.9,377.0 L419.0,376.9 L419.2,376.9 L419.3,376.8 L419.5,376.8 L419.7,376.8 L419.8,376.7 L420.0,376.7 L420.1,376.6 L420.3,376.6 L420.5,376.5 L420.6,376.5 L420.8,376.4 L420.9,376.4 L421.1,376.4 L421.3,376.3 L421.4,376.3 L421.6,376.2 L421.7,376.2 L421.9,376.1 L422.1,376.0 L422.2,376.0 L422.4,375.9 L422.5,375.8 L422.7,375.7 L422.9,375.6 L423.0,375.4 L423.2,375.3 L423.3,375.1 L423.5,374.9 L423.7,374.6 L423.8,374.3 L424.0,374.0 L424.2,373.7 L424.3,373.3 L424.5,372.8 L424.6,372.2 L424.8,371.6 L425.0,370.8 L425.1,370.0 L425.3,369.0 L425.4,367.9 L425.6,366.7 L425.8,365.3 L425.9,363.9 L426.1,362.2 L426.2,360.5 L426.4,358.6 L426.6,356.6 L426.7,354.4 L426.9,352.1 L427.0,349.7 L427.2,347.3 L427.4,344.7 L427.5,342.0 L427.7,339.3 L427.8,336.6 L428.0,333.8 L428.2,331.0 L428.3,328.2 L428.5,325.5 L428.6,322.8 L428.8,320.2 L429.0,317.6 L429.1,315.1 L429.3,312.8 L429.4,310.6 L429.6,308.5 L429.8,306.5 L429.9,304.7 L430.1,303.0 L430.3,301.5 L430.4,300.1 L430.6,298.9 L430.7,297.9 L430.9,297.0 L431.1,296.2 L431.2,295.6 L431.4,295.1 L431.5,294.7 L431.7,294.4 L431.9,294.1 L432.0,294.0 L432.2,294.0 L432.3,293.9 L432.5,293.9 L432.7,294.0 L432.8,294.0 L433.0,294.1 L433.1,294.2 L433.3,294.4 L433.5,294.7 L433.6,295.0 L433.8,295.5 L433.9,296.1 L434.1,296.8 L434.3,297.7 L434.4,298.7 L434.6,299.8 L434.7,301.1 L434.9,302.5 L435.1,304.1 L435.2,305.9 L435.4,307.8 L435.5,309.8 L435.7,312.0 L435.9,314.3 L436.0,316.7 L436.2,319.3 L436.4,321.9 L436.5,324.6 L436.7,327.3 L436.8,330.1 L437.0,333.0 L437.2,335.8 L437.3,338.6 L437.5,341.4 L437.6,344.1 L437.8,346.8 L438.0,349.4 L438.1,351.9 L438.3,354.3 L438.4,356.6 L438.6,358.7 L438.8,360.8 L438.9,362.7 L439.1,364.4 L439.2,366.1 L439.4,367.6 L439.6,368.9 L439.7,370.1 L439.9,371.1 L440.0,372.1 L440.2,372.9 L440.4,373.6 L440.5,374.2 L440.7,374.8 L440.8,375.2 L441.0,375.6 L441.2,375.9 L441.3,376.2 L441.5,376.4 L441.6,376.6 L441.8,376.7 L442.0,376.8 L442.1,376.9 L442.3,377.0 L442.4,377.0 L442.6,377.0 L442.8,377.0 L442.9,377.1 L443.1,377.1 L443.3,377.0 L443.4,377.0 L443.6,377.0 L443.7,377.0 L443.9,377.0 L444.1,376.9 L444.2,376.9 L444.4,376.9 L444.5,376.9 L444.7,376.8 L444.9,376.8 L445.0,376.8 L445.2,376.8 L445.3,376.7 L445.5,376.7 L445.7,376.7 L445.8,376.6 L446.0,376.6 L446.1,376.6 L446.3,376.6 L446.5,376.5 L446.6,376.5 L446.8,376.5 L446.9,376.4 L447.1,376.4 L447.3,376.4 L447.4,376.4 L447.6,376.3 L447.7,376.3 L447.9,376.3 L448.1,376.2 L448.2,376.2 L448.4,376.2 L448.5,376.2 L448.7,376.1 L448.9,376.1 L449.0,376.1 L449.2,376.0 L449.4,376.0 L449.5,376.0 L449.7,376.0 L449.8,375.9 L450.0,375.9 L450.2,375.9 L450.3,375.8 L450.5,375.8 L450.6,375.8 L450.8,375.8 L451.0,375.7 L451.1,375.7 L451.3,375.7 L451.4,375.6 L451.6,375.6 L451.8,375.6 L451.9,375.5 L452.1,375.5 L452.2,375.5 L452.4,375.4 L452.6,375.4 L452.7,375.3 L452.9,375.3 L453.0,375.2 L453.2,375.1 L453.4,375.0 L453.5,374.9 L453.7,374.8 L453.8,374.7 L454.0,374.5 L454.2,374.3 L454.3,374.0 L454.5,373.7 L454.6,373.4 L454.8,373.0 L455.0,372.5 L455.1,371.9 L455.3,371.3 L455.4,370.6 L455.6,369.8 L455.8,369.0 L455.9,368.0 L456.1,366.8 L456.3,365.6 L456.4,364.2 L456.6,362.7 L456.7,361.0 L456.9,359.2 L457.1,357.3 L457.2,355.2 L457.4,353.0 L457.5,350.6 L457.7,348.2 L457.9,345.6 L458.0,343.0 L458.2,340.3 L458.3,337.5 L458.5,334.7 L458.7,331.9 L458.8,329.0 L459.0,326.2 L459.1,323.4 L459.3,320.6 L459.5,318.0 L459.6,315.4 L459.8,312.8 L459.9,310.5 L460.1,308.2 L460.3,306.1 L460.4,304.1 L460.6,302.2 L460.7,300.5 L460.9,299.0 L461.1,297.6 L461.2,296.4 L461.4,295.4 L461.5,294.5 L461.7,293.7 L461.9,293.1 L462.0,292.6 L462.2,292.2 L462.4,291.9 L462.5,291.7 L462.7,291.6 L462.8,291.5 L463.0,291.5 L463.2,291.5 L463.3,291.6 L463.5,291.6 L463.6,291.7 L463.8,291.9 L464.0,292.1 L464.1,292.4 L464.3,292.8 L464.4,293.3 L464.6,293.9 L464.8,294.7 L464.9,295.6 L465.1,296.6 L465.2,297.8 L465.4,299.1 L465.6,300.6 L465.7,302.3 L465.9,304.1 L466.0,306.1 L466.2,308.2 L466.4,310.5 L466.5,312.9 L466.7,315.4 L466.8,318.0 L467.0,320.7 L467.2,323.5 L467.3,326.3 L467.5,329.2 L467.6,332.1 L467.8,335.0 L468.0,337.9 L468.1,340.8 L468.3,343.6 L468.5,346.3 L468.6,349.0 L468.8,351.5 L468.9,354.0 L469.1,356.4 L469.3,358.6 L469.4,360.6 L469.6,362.5 L469.7,364.3 L469.9,365.9 L470.1,367.4 L470.2,368.7 L470.4,369.9 L470.5,371.0 L470.7,371.9 L470.9,372.8 L471.0,373.5 L471.2,374.1 L471.3,374.7 L471.5,375.1 L471.7,375.5 L471.8,375.9 L472.0,376.1 L472.1,376.4 L472.3,376.6 L472.5,376.7 L472.6,376.8 L472.8,376.9 L472.9,377.0 L473.1,377.0 L473.3,377.1 L473.4,377.1 L473.6,377.1 L473.7,377.1 L473.9,377.1 L474.1,377.1 L474.2,377.1 L474.4,377.1 L474.5,377.0 L474.7,377.0 L474.9,377.0 L475.0,377.0 L475.2,377.0 L475.4,376.9 L475.5,376.9 L475.7,376.9 L475.8,376.9 L476.0,376.9 L476.2,376.8 L476.3,376.8 L476.5,376.8 L476.6,376.8 L476.8,376.8 L477.0,376.7 L477.1,376.7 L477.3,376.7 L477.4,376.7 L477.6,376.6 L477.8,376.6 L477.9,376.6 L478.1,376.6 L478.2,376.6 L478.4,376.5 L478.6,376.5 L478.7,376.5 L478.9,376.5 L479.0,376.5 L479.2,376.4 L479.4,376.4 L479.5,376.4 L479.7,376.4 L479.8,376.3 L480.0,376.3 L480.2,376.3 L480.3,376.3 L480.5,376.3 L480.6,376.2 L480.8,376.2 L481.0,376.2 L481.1,376.2 L481.3,376.1 L481.5,376.1 L481.6,376.1 L481.8,376.1 L481.9,376.0 L482.1,376.0 L482.3,376.0 L482.4,375.9 L482.6,375.9 L482.7,375.8 L482.9,375.8 L483.1,375.7 L483.2,375.6 L483.4,375.5 L483.5,375.4 L483.7,375.2 L483.9,375.0 L484.0,374.8 L484.2,374.5 L484.3,374.2 L484.5,373.8 L484.7,373.4 L484.8,372.9 L485.0,372.3 L485.1,371.7 L485.3,370.9 L485.5,370.1 L485.6,369.1 L485.8,368.1 L485.9,366.9 L486.1,365.6 L486.3,364.1 L486.4,362.5 L486.6,360.8 L486.7,358.9 L486.9,356.9 L487.1,354.7 L487.2,352.5 L487.4,350.1 L487.5,347.6 L487.7,345.0 L487.9,342.3 L488.0,339.6 L488.2,336.8 L488.4,334.0 L488.5,331.2 L488.7,328.3 L488.8,325.5 L489.0,322.8 L489.2,320.1 L489.3,317.4 L489.5,314.9 L489.6,312.5 L489.8,310.1 L490.0,308.0 L490.1,305.9 L490.3,304.0 L490.4,302.3 L490.6,300.7 L490.8,299.2 L490.9,297.9 L491.1,296.8 L491.2,295.8 L491.4,295.0 L491.6,294.3 L491.7,293.7 L491.9,293.3 L492.0,292.9 L492.2,292.7 L492.4,292.5 L492.5,292.5 L492.7,292.4 L492.8,292.4 L493.0,292.4 L493.2,292.5 L493.3,292.5 L493.5,292.6 L493.6,292.8 L493.8,293.0 L494.0,293.4 L494.1,293.8 L494.3,294.4 L494.5,295.1 L494.6,295.9 L494.8,296.8 L494.9,297.9 L495.1,299.2 L495.3,300.6 L495.4,302.2 L495.6,303.9 L495.7,305.8 L495.9,307.8 L496.1,310.0 L496.2,312.3 L496.4,314.7 L496.5,317.2 L496.7,319.9 L496.9,322.6 L497.0,325.4 L497.2,328.2 L497.3,331.0 L497.5,333.9 L497.7,336.8 L497.8,339.6 L498.0,342.4 L498.1,345.2 L498.3,347.8 L498.5,350.4 L498.6,352.9 L498.8,355.3 L498.9,357.5 L499.1,359.6 L499.3,361.6 L499.4,363.5 L499.6,365.2 L499.7,366.7 L499.9,368.2 L500.1,369.5 L500.2,370.6 L500.4,371.7 L500.6,372.6 L500.7,373.4 L500.9,374.1 L501.0,374.7 L501.2,375.2 L501.4,375.7 L501.5,376.1 L501.7,376.4 L501.8,376.7 L502.0,376.9 L502.2,377.1 L502.3,377.2 L502.5,377.3 L502.6,377.4 L502.8,377.5 L503.0,377.6 L503.1,377.6 L503.3,377.6 L503.4,377.7 L503.6,377.7 L503.8,377.7 L503.9,377.7 L504.1,377.7 L504.2,377.7 L504.4,377.7 L504.6,377.7 L504.7,377.7 L504.9,377.8 L505.0,377.8 L505.2,377.8 L505.4,377.8 L505.5,377.8 L505.7,377.8 L505.8,377.8 L506.0,377.8 L506.2,377.8 L506.3,377.8 L506.5,377.8 L506.6,377.8 L506.8,377.8 L507.0,377.8 L507.1,377.8 L507.3,377.8 L507.5,377.8 L507.6,377.8 L507.8,377.8 L507.9,377.8 L508.1,377.8 L508.3,377.8 L508.4,377.8 L508.6,377.8 L508.7,377.8 L508.9,377.8 L509.1,377.8 L509.2,377.8 L509.4,377.8 L509.5,377.8 L509.7,377.8 L509.9,377.8 L510.0,377.8 L510.2,377.8 L510.3,377.8 L510.5,377.8 L510.7,377.8 L510.8,377.8 L511.0,377.8 L511.1,377.8 L511.3,377.8 L511.5,377.8 L511.6,377.8 L511.8,377.8 L511.9,377.8 L512.1,377.8 L512.3,377.8 L512.4,377.8 L512.6,377.8 L512.7,377.8 L512.9,377.8 L513.1,377.8 L513.2,377.8 L513.4,377.8 L513.6,377.8 L513.7,377.8 L513.9,377.8 L514.0,377.8 L514.2,377.8 L514.4,377.8 L514.5,377.8 L514.7,377.8 L514.8,377.8 L515.0,377.8 L515.2,377.8 L515.3,377.8 L515.5,377.8 L515.6,377.8 L515.8,377.8 L516.0,377.8 L516.1,377.8 L516.3,377.8 L516.4,377.8 L516.6,377.8" fill="none" stroke="#111" stroke-width="2.2" stroke-linejoin="round"/>
<rect x="324.0" y="237.3" width="192.6" height="154.5" fill="none" stroke="#111" stroke-width="2.0"/>
<line x1="324.0" y1="391.8" x2="324.0" y2="394.8" stroke="#111" stroke-width="1.3"/>
<text x="324.0" y="404.8" font-size="10" text-anchor="middle" fill="#333" stroke="#333" stroke-width="0.22">0</text>
<line x1="359.0" y1="391.8" x2="359.0" y2="394.8" stroke="#111" stroke-width="1.3"/>
<text x="359.0" y="404.8" font-size="10" text-anchor="middle" fill="#333" stroke="#333" stroke-width="0.22">2</text>
<line x1="394.0" y1="391.8" x2="394.0" y2="394.8" stroke="#111" stroke-width="1.3"/>
<text x="394.0" y="404.8" font-size="10" text-anchor="middle" fill="#333" stroke="#333" stroke-width="0.22">4</text>
<line x1="429.1" y1="391.8" x2="429.1" y2="394.8" stroke="#111" stroke-width="1.3"/>
<text x="429.1" y="404.8" font-size="10" text-anchor="middle" fill="#333" stroke="#333" stroke-width="0.22">6</text>
<line x1="464.1" y1="391.8" x2="464.1" y2="394.8" stroke="#111" stroke-width="1.3"/>
<text x="464.1" y="404.8" font-size="10" text-anchor="middle" fill="#333" stroke="#333" stroke-width="0.22">8</text>
<line x1="499.1" y1="391.8" x2="499.1" y2="394.8" stroke="#111" stroke-width="1.3"/>
<text x="499.1" y="404.8" font-size="10" text-anchor="middle" fill="#333" stroke="#333" stroke-width="0.22">10</text>
<line x1="341.5" y1="391.8" x2="341.5" y2="393.6" stroke="#111" stroke-width="1"/>
<line x1="376.5" y1="391.8" x2="376.5" y2="393.6" stroke="#111" stroke-width="1"/>
<line x1="411.5" y1="391.8" x2="411.5" y2="393.6" stroke="#111" stroke-width="1"/>
<line x1="446.6" y1="391.8" x2="446.6" y2="393.6" stroke="#111" stroke-width="1"/>
<line x1="481.6" y1="391.8" x2="481.6" y2="393.6" stroke="#111" stroke-width="1"/>
<line x1="516.6" y1="391.8" x2="516.6" y2="393.6" stroke="#111" stroke-width="1"/>
<line x1="321.0" y1="377.8" x2="324.0" y2="377.8" stroke="#111" stroke-width="1.3"/>
<text x="320.0" y="381.2" font-size="10" text-anchor="end" fill="#333" stroke="#333" stroke-width="0.22">0</text>
<line x1="321.0" y1="349.7" x2="324.0" y2="349.7" stroke="#111" stroke-width="1.3"/>
<text x="320.0" y="353.1" font-size="10" text-anchor="end" fill="#333" stroke="#333" stroke-width="0.22">4</text>
<line x1="321.0" y1="321.6" x2="324.0" y2="321.6" stroke="#111" stroke-width="1.3"/>
<text x="320.0" y="325.0" font-size="10" text-anchor="end" fill="#333" stroke="#333" stroke-width="0.22">8</text>
<line x1="321.0" y1="293.5" x2="324.0" y2="293.5" stroke="#111" stroke-width="1.3"/>
<text x="320.0" y="296.9" font-size="10" text-anchor="end" fill="#333" stroke="#333" stroke-width="0.22">12</text>
<line x1="321.0" y1="265.4" x2="324.0" y2="265.4" stroke="#111" stroke-width="1.3"/>
<text x="320.0" y="268.8" font-size="10" text-anchor="end" fill="#333" stroke="#333" stroke-width="0.22">16</text>
<line x1="321.0" y1="237.3" x2="324.0" y2="237.3" stroke="#111" stroke-width="1.3"/>
<text x="320.0" y="240.7" font-size="10" text-anchor="end" fill="#333" stroke="#333" stroke-width="0.22">20</text>
<line x1="322.2" y1="363.7" x2="324.0" y2="363.7" stroke="#111" stroke-width="1"/>
<line x1="322.2" y1="335.6" x2="324.0" y2="335.6" stroke="#111" stroke-width="1"/>
<line x1="322.2" y1="307.5" x2="324.0" y2="307.5" stroke="#111" stroke-width="1"/>
<line x1="322.2" y1="279.4" x2="324.0" y2="279.4" stroke="#111" stroke-width="1"/>
<line x1="322.2" y1="251.3" x2="324.0" y2="251.3" stroke="#111" stroke-width="1"/>
<line x1="322.2" y1="391.8" x2="324.0" y2="391.8" stroke="#111" stroke-width="1"/>
<text transform="translate(300.2,312.5) rotate(-90)" font-size="13" text-anchor="middle" fill="#222" dominant-baseline="central" stroke="#222" stroke-width="0.22">ΔR/R<tspan font-size="9.1" dy="3.2">0</tspan><tspan dy="-3.2"> (%)</tspan></text>
<text x="419.2" y="420.5" font-size="13" text-anchor="middle" fill="#222" stroke="#222" stroke-width="0.22">Time (s)</text>
<text x="767.0" y="242.3" font-size="16.5" fill="#222" stroke="#222" stroke-width="0.25">(h)</text>
<path d="M805.6,379.0 L805.8,379.0 L805.9,379.0 L806.1,379.0 L806.2,379.0 L806.4,379.0 L806.6,379.0 L806.7,379.0 L806.9,379.0 L807.0,379.0 L807.2,379.0 L807.4,379.0 L807.5,379.0 L807.7,379.0 L807.8,379.0 L808.0,379.0 L808.2,379.0 L808.3,379.0 L808.5,379.0 L808.6,379.0 L808.8,379.0 L809.0,379.0 L809.1,379.0 L809.3,379.0 L809.4,379.0 L809.6,379.0 L809.8,379.0 L809.9,379.0 L810.1,379.0 L810.2,379.0 L810.4,379.0 L810.6,379.0 L810.7,379.0 L810.9,379.0 L811.0,379.0 L811.2,379.0 L811.4,379.0 L811.5,379.0 L811.7,379.0 L811.8,379.0 L812.0,379.0 L812.1,379.0 L812.3,379.0 L812.5,379.0 L812.6,379.0 L812.8,379.0 L812.9,379.0 L813.1,379.0 L813.3,379.0 L813.4,379.0 L813.6,379.0 L813.7,379.0 L813.9,379.0 L814.1,379.0 L814.2,379.0 L814.4,379.0 L814.5,379.0 L814.7,379.0 L814.9,379.0 L815.0,379.0 L815.2,379.0 L815.3,379.0 L815.5,379.0 L815.7,379.0 L815.8,379.0 L816.0,379.0 L816.1,379.0 L816.3,379.0 L816.5,379.0 L816.6,379.0 L816.8,379.0 L816.9,379.0 L817.1,379.0 L817.3,379.0 L817.4,379.0 L817.6,379.0 L817.7,379.0 L817.9,379.0 L818.1,379.0 L818.2,379.0 L818.4,379.0 L818.5,379.0 L818.7,379.0 L818.9,379.0 L819.0,379.0 L819.2,379.0 L819.3,379.0 L819.5,379.0 L819.7,379.0 L819.8,379.0 L820.0,379.0 L820.1,379.0 L820.3,379.0 L820.5,379.0 L820.6,379.0 L820.8,379.0 L820.9,379.0 L821.1,379.0 L821.3,379.0 L821.4,379.0 L821.6,379.0 L821.7,379.0 L821.9,379.0 L822.1,379.0 L822.2,379.0 L822.4,379.0 L822.5,379.0 L822.7,379.0 L822.9,379.0 L823.0,379.0 L823.2,379.0 L823.3,379.0 L823.5,379.0 L823.7,379.0 L823.8,379.0 L824.0,379.0 L824.1,379.0 L824.3,379.0 L824.5,379.0 L824.6,379.0 L824.8,379.0 L824.9,379.0 L825.1,379.0 L825.2,379.0 L825.4,379.0 L825.6,379.0 L825.7,379.0 L825.9,379.0 L826.0,379.0 L826.2,379.0 L826.4,379.0 L826.5,379.0 L826.7,379.0 L826.8,379.0 L827.0,379.0 L827.2,379.0 L827.3,379.0 L827.5,379.0 L827.6,379.0 L827.8,379.0 L828.0,379.0 L828.1,379.0 L828.3,379.0 L828.4,379.0 L828.6,379.0 L828.8,379.0 L828.9,379.0 L829.1,379.0 L829.2,379.0 L829.4,379.0 L829.6,379.0 L829.7,379.0 L829.9,379.0 L830.0,379.0 L830.2,379.0 L830.4,379.0 L830.5,379.0 L830.7,379.0 L830.8,379.0 L831.0,379.0 L831.2,379.0 L831.3,379.0 L831.5,379.0 L831.6,379.0 L831.8,379.0 L832.0,379.0 L832.1,379.0 L832.3,379.0 L832.4,379.0 L832.6,379.0 L832.8,379.0 L832.9,379.0 L833.1,379.0 L833.2,379.0 L833.4,379.0 L833.6,379.0 L833.7,379.0 L833.9,379.0 L834.0,379.0 L834.2,379.0 L834.4,379.0 L834.5,379.0 L834.7,379.0 L834.8,379.0 L835.0,379.0 L835.2,379.0 L835.3,379.0 L835.5,379.0 L835.6,379.0 L835.8,379.0 L836.0,379.0 L836.1,379.0 L836.3,379.0 L836.4,379.0 L836.6,379.0 L836.8,378.9 L836.9,378.9 L837.1,378.8 L837.2,378.7 L837.4,378.5 L837.5,378.3 L837.7,378.0 L837.9,377.6 L838.0,377.1 L838.2,376.4 L838.3,375.6 L838.5,374.6 L838.7,373.5 L838.8,372.1 L839.0,370.6 L839.1,369.0 L839.3,367.2 L839.5,365.4 L839.6,363.6 L839.8,361.8 L839.9,360.1 L840.1,358.6 L840.3,357.4 L840.4,356.4 L840.6,355.7 L840.7,355.2 L840.9,355.1 L841.1,355.1 L841.2,355.4 L841.4,356.0 L841.5,356.9 L841.7,358.1 L841.9,359.5 L842.0,361.1 L842.2,362.8 L842.3,364.6 L842.5,366.5 L842.7,368.3 L842.8,370.0 L843.0,371.6 L843.1,373.0 L843.3,374.3 L843.5,375.4 L843.6,376.3 L843.8,377.1 L843.9,377.7 L844.1,378.1 L844.3,378.5 L844.4,378.8 L844.6,378.9 L844.7,379.1 L844.9,379.2 L845.1,379.3 L845.2,379.3 L845.4,379.3 L845.5,379.3 L845.7,379.3 L845.9,379.3 L846.0,379.3 L846.2,379.3 L846.3,379.3 L846.5,379.3 L846.7,379.3 L846.8,379.3 L847.0,379.3 L847.1,379.3 L847.3,379.3 L847.5,379.3 L847.6,379.3 L847.8,379.3 L847.9,379.3 L848.1,379.3 L848.3,379.2 L848.4,379.2 L848.6,379.2 L848.7,379.2 L848.9,379.2 L849.1,379.2 L849.2,379.2 L849.4,379.2 L849.5,379.2 L849.7,379.2 L849.9,379.2 L850.0,379.2 L850.2,379.2 L850.3,379.2 L850.5,379.2 L850.6,379.1 L850.8,379.1 L851.0,379.1 L851.1,379.1 L851.3,379.1 L851.4,379.1 L851.6,379.0 L851.8,379.0 L851.9,378.9 L852.1,378.9 L852.2,378.7 L852.4,378.5 L852.6,378.3 L852.7,378.0 L852.9,377.6 L853.0,377.0 L853.2,376.3 L853.4,375.5 L853.5,374.5 L853.7,373.3 L853.8,372.0 L854.0,370.5 L854.2,368.9 L854.3,367.2 L854.5,365.4 L854.6,363.6 L854.8,361.9 L855.0,360.4 L855.1,359.0 L855.3,357.8 L855.4,357.0 L855.6,356.3 L855.8,356.0 L855.9,355.9 L856.1,356.0 L856.2,356.4 L856.4,357.1 L856.6,358.0 L856.7,359.2 L856.9,360.6 L857.0,362.2 L857.2,363.9 L857.4,365.7 L857.5,367.5 L857.7,369.3 L857.8,370.9 L858.0,372.5 L858.2,373.8 L858.3,375.0 L858.5,376.1 L858.6,376.9 L858.8,377.6 L859.0,378.2 L859.1,378.6 L859.3,378.9 L859.4,379.2 L859.6,379.4 L859.8,379.5 L859.9,379.5 L860.1,379.6 L860.2,379.6 L860.4,379.6 L860.6,379.6 L860.7,379.6 L860.9,379.6 L861.0,379.6 L861.2,379.6 L861.4,379.6 L861.5,379.6 L861.7,379.6 L861.8,379.5 L862.0,379.5 L862.2,379.5 L862.3,379.5 L862.5,379.5 L862.6,379.5 L862.8,379.5 L863.0,379.4 L863.1,379.4 L863.3,379.4 L863.4,379.4 L863.6,379.4 L863.7,379.4 L863.9,379.4 L864.1,379.4 L864.2,379.3 L864.4,379.3 L864.5,379.3 L864.7,379.3 L864.9,379.3 L865.0,379.3 L865.2,379.2 L865.3,379.2 L865.5,379.2 L865.7,379.2 L865.8,379.1 L866.0,379.1 L866.1,379.0 L866.3,378.9 L866.5,378.7 L866.6,378.5 L866.8,378.3 L866.9,377.9 L867.1,377.5 L867.3,376.9 L867.4,376.2 L867.6,375.4 L867.7,374.4 L867.9,373.3 L868.1,372.0 L868.2,370.6 L868.4,369.0 L868.5,367.4 L868.7,365.7 L868.9,364.0 L869.0,362.3 L869.2,360.7 L869.3,359.3 L869.5,358.0 L869.7,357.0 L869.8,356.1 L870.0,355.6 L870.1,355.3 L870.3,355.2 L870.5,355.3 L870.6,355.7 L870.8,356.3 L870.9,357.1 L871.1,358.2 L871.3,359.5 L871.4,361.0 L871.6,362.6 L871.7,364.3 L871.9,366.1 L872.1,367.8 L872.2,369.5 L872.4,371.1 L872.5,372.5 L872.7,373.8 L872.9,375.0 L873.0,376.0 L873.2,376.8 L873.3,377.5 L873.5,378.1 L873.7,378.5 L873.8,378.9 L874.0,379.1 L874.1,379.3 L874.3,379.4 L874.5,379.5 L874.6,379.6 L874.8,379.6 L874.9,379.6 L875.1,379.6 L875.3,379.6 L875.4,379.6 L875.6,379.6 L875.7,379.6 L875.9,379.6 L876.0,379.6 L876.2,379.6 L876.4,379.6 L876.5,379.5 L876.7,379.5 L876.8,379.5 L877.0,379.5 L877.2,379.5 L877.3,379.5 L877.5,379.5 L877.6,379.5 L877.8,379.4 L878.0,379.4 L878.1,379.4 L878.3,379.4 L878.4,379.4 L878.6,379.4 L878.8,379.4 L878.9,379.4 L879.1,379.4 L879.2,379.3 L879.4,379.3 L879.6,379.3 L879.7,379.3 L879.9,379.3 L880.0,379.3 L880.2,379.3 L880.4,379.3 L880.5,379.2 L880.7,379.2 L880.8,379.2 L881.0,379.2 L881.2,379.2 L881.3,379.2 L881.5,379.2 L881.6,379.1 L881.8,379.1 L882.0,379.1 L882.1,379.0 L882.3,379.0 L882.4,378.9 L882.6,378.8 L882.8,378.6 L882.9,378.4 L883.1,378.1 L883.2,377.8 L883.4,377.3 L883.6,376.7 L883.7,375.9 L883.9,375.0 L884.0,373.8 L884.2,372.4 L884.4,370.8 L884.5,368.9 L884.7,366.8 L884.8,364.4 L885.0,361.7 L885.2,359.0 L885.3,356.1 L885.5,353.1 L885.6,350.2 L885.8,347.3 L886.0,344.7 L886.1,342.3 L886.3,340.2 L886.4,338.5 L886.6,337.1 L886.8,336.2 L886.9,335.7 L887.1,335.6 L887.2,335.8 L887.4,336.3 L887.6,337.3 L887.7,338.6 L887.9,340.4 L888.0,342.6 L888.2,345.0 L888.4,347.7 L888.5,350.6 L888.7,353.6 L888.8,356.6 L889.0,359.5 L889.1,362.4 L889.3,365.0 L889.5,367.5 L889.6,369.7 L889.8,371.6 L889.9,373.3 L890.1,374.7 L890.3,375.9 L890.4,376.9 L890.6,377.7 L890.7,378.3 L890.9,378.8 L891.1,379.1 L891.2,379.4 L891.4,379.6 L891.5,379.7 L891.7,379.8 L891.9,379.8 L892.0,379.8 L892.2,379.8 L892.3,379.8 L892.5,379.8 L892.7,379.8 L892.8,379.8 L893.0,379.8 L893.1,379.8 L893.3,379.8 L893.5,379.7 L893.6,379.7 L893.8,379.7 L893.9,379.7 L894.1,379.7 L894.3,379.6 L894.4,379.6 L894.6,379.6 L894.7,379.6 L894.9,379.6 L895.1,379.5 L895.2,379.5 L895.4,379.5 L895.5,379.5 L895.7,379.4 L895.9,379.4 L896.0,379.4 L896.2,379.3 L896.3,379.3 L896.5,379.2 L896.7,379.1 L896.8,378.9 L897.0,378.7 L897.1,378.5 L897.3,378.2 L897.5,377.8 L897.6,377.3 L897.8,376.6 L897.9,375.8 L898.1,374.8 L898.3,373.6 L898.4,372.2 L898.6,370.6 L898.7,368.7 L898.9,366.6 L899.1,364.2 L899.2,361.7 L899.4,359.1 L899.5,356.3 L899.7,353.4 L899.9,350.6 L900.0,347.7 L900.2,345.0 L900.3,342.5 L900.5,340.3 L900.7,338.4 L900.8,336.8 L901.0,335.6 L901.1,334.8 L901.3,334.3 L901.5,334.2 L901.6,334.4 L901.8,334.9 L901.9,335.8 L902.1,337.1 L902.2,338.7 L902.4,340.8 L902.6,343.1 L902.7,345.6 L902.9,348.4 L903.0,351.3 L903.2,354.3 L903.4,357.2 L903.5,360.1 L903.7,362.8 L903.8,365.4 L904.0,367.7 L904.2,369.9 L904.3,371.8 L904.5,373.4 L904.6,374.8 L904.8,376.0 L905.0,377.1 L905.1,377.9 L905.3,378.5 L905.4,379.0 L905.6,379.3 L905.8,379.6 L905.9,379.8 L906.1,380.0 L906.2,380.1 L906.4,380.1 L906.6,380.2 L906.7,380.2 L906.9,380.2 L907.0,380.2 L907.2,380.2 L907.4,380.2 L907.5,380.2 L907.7,380.2 L907.8,380.2 L908.0,380.2 L908.2,380.2 L908.3,380.2 L908.5,380.2 L908.6,380.1 L908.8,380.1 L909.0,380.1 L909.1,380.1 L909.3,380.1 L909.4,380.1 L909.6,380.1 L909.8,380.0 L909.9,380.0 L910.1,380.0 L910.2,380.0 L910.4,380.0 L910.6,379.9 L910.7,379.9 L910.9,379.9 L911.0,379.8 L911.2,379.7 L911.4,379.6 L911.5,379.5 L911.7,379.3 L911.8,379.0 L912.0,378.7 L912.2,378.2 L912.3,377.6 L912.5,376.9 L912.6,376.0 L912.8,374.9 L913.0,373.5 L913.1,372.0 L913.3,370.1 L913.4,368.1 L913.6,365.9 L913.8,363.5 L913.9,360.9 L914.1,358.2 L914.2,355.5 L914.4,352.8 L914.5,350.2 L914.7,347.7 L914.9,345.5 L915.0,343.6 L915.2,342.0 L915.3,340.8 L915.5,340.0 L915.7,339.6 L915.8,339.5 L916.0,339.7 L916.1,340.2 L916.3,341.1 L916.5,342.4 L916.6,344.1 L916.8,346.2 L916.9,348.5 L917.1,351.1 L917.3,353.8 L917.4,356.6 L917.6,359.5 L917.7,362.3 L917.9,364.9 L918.1,367.5 L918.2,369.8 L918.4,371.9 L918.5,373.7 L918.7,375.4 L918.9,376.7 L919.0,377.9 L919.2,378.9 L919.3,379.6 L919.5,380.2 L919.7,380.7 L919.8,381.0 L920.0,381.2 L920.1,381.4 L920.3,381.5 L920.5,381.6 L920.6,381.7 L920.8,381.7 L920.9,381.7 L921.1,381.7 L921.3,381.7 L921.4,381.7 L921.6,381.7 L921.7,381.7 L921.9,381.7 L922.1,381.7 L922.2,381.7 L922.4,381.7 L922.5,381.7 L922.7,381.7 L922.9,381.7 L923.0,381.6 L923.2,381.6 L923.3,381.6 L923.5,381.6 L923.7,381.6 L923.8,381.6 L924.0,381.6 L924.1,381.6 L924.3,381.6 L924.5,381.6 L924.6,381.6 L924.8,381.5 L924.9,381.5 L925.1,381.5 L925.3,381.5 L925.4,381.5 L925.6,381.5 L925.7,381.5 L925.9,381.5 L926.1,381.5 L926.2,381.5 L926.4,381.5 L926.5,381.4 L926.7,381.4 L926.9,381.4 L927.0,381.4 L927.2,381.4 L927.3,381.4 L927.5,381.4 L927.6,381.4 L927.8,381.4 L928.0,381.4 L928.1,381.3 L928.3,381.3 L928.4,381.3 L928.6,381.3 L928.8,381.3 L928.9,381.3 L929.1,381.3 L929.2,381.2 L929.4,381.2 L929.6,381.2 L929.7,381.1 L929.9,381.0 L930.0,380.9 L930.2,380.7 L930.4,380.5 L930.5,380.2 L930.7,379.7 L930.8,379.1 L931.0,378.4 L931.2,377.4 L931.3,376.2 L931.5,374.7 L931.6,372.9 L931.8,370.7 L932.0,368.1 L932.1,365.1 L932.3,361.5 L932.4,357.6 L932.6,353.2 L932.8,348.4 L932.9,343.3 L933.1,337.9 L933.2,332.4 L933.4,326.8 L933.6,321.4 L933.7,316.2 L933.9,311.4 L934.0,307.1 L934.2,303.4 L934.4,300.3 L934.5,298.0 L934.7,296.4 L934.8,295.6 L935.0,295.4 L935.2,295.7 L935.3,296.7 L935.5,298.4 L935.6,300.8 L935.8,304.0 L936.0,307.9 L936.1,312.3 L936.3,317.3 L936.4,322.6 L936.6,328.1 L936.8,333.8 L936.9,339.4 L937.1,344.9 L937.2,350.1 L937.4,355.1 L937.6,359.6 L937.7,363.7 L937.9,367.3 L938.0,370.5 L938.2,373.2 L938.4,375.6 L938.5,377.5 L938.7,379.0 L938.8,380.2 L939.0,381.1 L939.2,381.9 L939.3,382.4 L939.5,382.8 L939.6,383.1 L939.8,383.3 L939.9,383.4 L940.1,383.5 L940.3,383.6 L940.4,383.6 L940.6,383.6 L940.7,383.6 L940.9,383.6 L941.1,383.6 L941.2,383.5 L941.4,383.5 L941.5,383.5 L941.7,383.5 L941.9,383.4 L942.0,383.4 L942.2,383.4 L942.3,383.4 L942.5,383.3 L942.7,383.3 L942.8,383.3 L943.0,383.2 L943.1,383.2 L943.3,383.2 L943.5,383.2 L943.6,383.1 L943.8,383.1 L943.9,383.1 L944.1,383.0 L944.3,383.0 L944.4,382.9 L944.6,382.9 L944.7,382.8 L944.9,382.7 L945.1,382.5 L945.2,382.3 L945.4,382.0 L945.5,381.7 L945.7,381.2 L945.9,380.5 L946.0,379.7 L946.2,378.6 L946.3,377.3 L946.5,375.6 L946.7,373.6 L946.8,371.2 L947.0,368.3 L947.1,365.1 L947.3,361.5 L947.5,357.3 L947.6,352.8 L947.8,347.8 L947.9,342.6 L948.1,337.1 L948.3,331.5 L948.4,325.9 L948.6,320.4 L948.7,315.3 L948.9,310.5 L949.1,306.3 L949.2,302.7 L949.4,299.7 L949.5,297.6 L949.7,296.2 L949.9,295.5 L950.0,295.5 L950.2,296.0 L950.3,297.2 L950.5,299.1 L950.7,301.8 L950.8,305.2 L951.0,309.3 L951.1,314.0 L951.3,319.1 L951.5,324.6 L951.6,330.3 L951.8,336.1 L951.9,341.8 L952.1,347.3 L952.3,352.6 L952.4,357.5 L952.6,362.0 L952.7,366.1 L952.9,369.7 L953.0,372.8 L953.2,375.5 L953.4,377.8 L953.5,379.6 L953.7,381.2 L953.8,382.4 L954.0,383.4 L954.2,384.2 L954.3,384.7 L954.5,385.1 L954.6,385.3 L954.8,385.5 L955.0,385.6 L955.1,385.7 L955.3,385.8 L955.4,385.8 L955.6,385.8 L955.8,385.8 L955.9,385.7 L956.1,385.7 L956.2,385.7 L956.4,385.7 L956.6,385.6 L956.7,385.6 L956.9,385.6 L957.0,385.5 L957.2,385.5 L957.4,385.5 L957.5,385.5 L957.7,385.4 L957.8,385.4 L958.0,385.4 L958.2,385.3 L958.3,385.3 L958.5,385.3 L958.6,385.2 L958.8,385.2 L959.0,385.2 L959.1,385.1 L959.3,385.1 L959.4,385.1 L959.6,385.0 L959.8,385.0 L959.9,385.0 L960.1,384.9 L960.2,384.9 L960.4,384.9 L960.6,384.9 L960.7,384.8 L960.9,384.8 L961.0,384.8 L961.2,384.7 L961.4,384.7 L961.5,384.7 L961.7,384.6 L961.8,384.6 L962.0,384.5 L962.2,384.5 L962.3,384.5 L962.5,384.4 L962.6,384.3 L962.8,384.2 L963.0,384.1 L963.1,383.9 L963.3,383.7 L963.4,383.4 L963.6,383.0 L963.8,382.4 L963.9,381.7 L964.1,380.8 L964.2,379.7 L964.4,378.3 L964.6,376.5 L964.7,374.5 L964.9,372.0 L965.0,369.1 L965.2,365.8 L965.3,362.1 L965.5,357.9 L965.7,353.3 L965.8,348.5 L966.0,343.3 L966.1,338.0 L966.3,332.7 L966.5,327.4 L966.6,322.4 L966.8,317.6 L966.9,313.3 L967.1,309.5 L967.3,306.4 L967.4,304.0 L967.6,302.2 L967.7,301.2 L967.9,300.9 L968.1,301.0 L968.2,301.7 L968.4,303.2 L968.5,305.3 L968.7,308.1 L968.9,311.6 L969.0,315.7 L969.2,320.3 L969.3,325.3 L969.5,330.6 L969.7,336.0 L969.8,341.3 L970.0,346.6 L970.1,351.7 L970.3,356.5 L970.5,360.9 L970.6,364.9 L970.8,368.4 L970.9,371.6 L971.1,374.3 L971.3,376.6 L971.4,378.5 L971.6,380.0 L971.7,381.3 L971.9,382.3 L972.1,383.1 L972.2,383.7 L972.4,384.1 L972.5,384.5 L972.7,384.8 L972.9,385.0 L973.0,385.1 L973.2,385.2 L973.3,385.3 L973.5,385.4 L973.7,385.5 L973.8,385.6 L974.0,385.6 L974.1,385.7 L974.3,385.8 L974.5,385.8 L974.6,385.9 L974.8,386.0 L974.9,386.0 L975.1,386.1 L975.3,386.2 L975.4,386.2 L975.6,386.3 L975.7,386.3 L975.9,386.4 L976.1,386.5 L976.2,386.5 L976.4,386.6 L976.5,386.7 L976.7,386.7 L976.9,386.8 L977.0,386.8 L977.2,386.7 L977.3,386.7 L977.5,386.6 L977.7,386.5 L977.8,386.5 L978.0,386.4 L978.1,386.3 L978.3,386.2 L978.4,386.2 L978.6,386.1 L978.8,386.0 L978.9,386.0 L979.1,385.9 L979.2,385.8 L979.4,385.8 L979.6,385.7 L979.7,385.6 L979.9,385.6 L980.0,385.5 L980.2,385.4 L980.4,385.4 L980.5,385.3 L980.7,385.2 L980.8,385.2 L981.0,385.1 L981.2,385.0 L981.3,385.0 L981.5,384.9 L981.6,384.8 L981.8,384.8 L982.0,384.7 L982.1,384.6 L982.3,384.6 L982.4,384.5 L982.6,384.4 L982.8,384.4 L982.9,384.3 L983.1,384.2 L983.2,384.2 L983.4,384.1 L983.6,384.0 L983.7,384.0 L983.9,383.9 L984.0,383.8 L984.2,383.8 L984.4,383.7 L984.5,383.6 L984.7,383.5 L984.8,383.5 L985.0,383.4 L985.2,383.3 L985.3,383.3 L985.5,383.3 L985.6,383.2 L985.8,383.2 L986.0,383.2 L986.1,383.2 L986.3,383.1 L986.4,383.1 L986.6,383.1 L986.8,383.1 L986.9,383.0 L987.1,383.0 L987.2,383.0 L987.4,383.0 L987.6,382.9 L987.7,382.9 L987.9,382.9 L988.0,382.9 L988.2,382.9 L988.4,382.8 L988.5,382.8 L988.7,382.8 L988.8,382.8 L989.0,382.7 L989.2,382.7 L989.3,382.7 L989.5,382.7 L989.6,382.6 L989.8,382.6 L990.0,382.6 L990.1,382.6 L990.3,382.5 L990.4,382.5 L990.6,382.5 L990.8,382.5 L990.9,382.5 L991.1,382.4 L991.2,382.4 L991.4,382.4 L991.5,382.4 L991.7,382.3 L991.9,382.3 L992.0,382.3 L992.2,382.3 L992.3,382.2 L992.5,382.2 L992.7,382.2 L992.8,382.2 L993.0,382.1 L993.1,382.1 L993.3,382.1 L993.5,382.1 L993.6,382.1 L993.8,382.0 L993.9,382.0 L994.1,382.0 L994.3,382.0 L994.4,381.9 L994.6,381.9 L994.7,381.9 L994.9,381.9 L995.1,381.8 L995.2,381.8 L995.4,381.8 L995.5,381.8 L995.7,381.7 L995.9,381.7 L996.0,381.7 L996.2,381.7 L996.3,381.6 L996.5,381.6 L996.7,381.6 L996.8,381.6 L997.0,381.6 L997.1,381.5 L997.3,381.5" fill="none" stroke="#111" stroke-width="2.2" stroke-linejoin="round"/>
<rect x="805.6" y="237.3" width="191.7" height="155.9" fill="none" stroke="#111" stroke-width="2.0"/>
<line x1="805.6" y1="393.2" x2="805.6" y2="396.2" stroke="#111" stroke-width="1.3"/>
<text x="805.6" y="406.2" font-size="10" text-anchor="middle" fill="#333" stroke="#333" stroke-width="0.22">0</text>
<line x1="829.6" y1="393.2" x2="829.6" y2="396.2" stroke="#111" stroke-width="1.3"/>
<text x="829.6" y="406.2" font-size="10" text-anchor="middle" fill="#333" stroke="#333" stroke-width="0.22">2</text>
<line x1="853.5" y1="393.2" x2="853.5" y2="396.2" stroke="#111" stroke-width="1.3"/>
<text x="853.5" y="406.2" font-size="10" text-anchor="middle" fill="#333" stroke="#333" stroke-width="0.22">4</text>
<line x1="877.5" y1="393.2" x2="877.5" y2="396.2" stroke="#111" stroke-width="1.3"/>
<text x="877.5" y="406.2" font-size="10" text-anchor="middle" fill="#333" stroke="#333" stroke-width="0.22">6</text>
<line x1="901.5" y1="393.2" x2="901.5" y2="396.2" stroke="#111" stroke-width="1.3"/>
<text x="901.5" y="406.2" font-size="10" text-anchor="middle" fill="#333" stroke="#333" stroke-width="0.22">8</text>
<line x1="925.4" y1="393.2" x2="925.4" y2="396.2" stroke="#111" stroke-width="1.3"/>
<text x="925.4" y="406.2" font-size="10" text-anchor="middle" fill="#333" stroke="#333" stroke-width="0.22">10</text>
<line x1="949.4" y1="393.2" x2="949.4" y2="396.2" stroke="#111" stroke-width="1.3"/>
<text x="949.4" y="406.2" font-size="10" text-anchor="middle" fill="#333" stroke="#333" stroke-width="0.22">12</text>
<line x1="973.3" y1="393.2" x2="973.3" y2="396.2" stroke="#111" stroke-width="1.3"/>
<text x="973.3" y="406.2" font-size="10" text-anchor="middle" fill="#333" stroke="#333" stroke-width="0.22">14</text>
<line x1="997.3" y1="393.2" x2="997.3" y2="396.2" stroke="#111" stroke-width="1.3"/>
<text x="997.3" y="406.2" font-size="10" text-anchor="middle" fill="#333" stroke="#333" stroke-width="0.22">16</text>
<line x1="817.6" y1="393.2" x2="817.6" y2="395.0" stroke="#111" stroke-width="1"/>
<line x1="841.5" y1="393.2" x2="841.5" y2="395.0" stroke="#111" stroke-width="1"/>
<line x1="865.5" y1="393.2" x2="865.5" y2="395.0" stroke="#111" stroke-width="1"/>
<line x1="889.5" y1="393.2" x2="889.5" y2="395.0" stroke="#111" stroke-width="1"/>
<line x1="913.4" y1="393.2" x2="913.4" y2="395.0" stroke="#111" stroke-width="1"/>
<line x1="937.4" y1="393.2" x2="937.4" y2="395.0" stroke="#111" stroke-width="1"/>
<line x1="961.4" y1="393.2" x2="961.4" y2="395.0" stroke="#111" stroke-width="1"/>
<line x1="985.3" y1="393.2" x2="985.3" y2="395.0" stroke="#111" stroke-width="1"/>
<line x1="802.6" y1="379.0" x2="805.6" y2="379.0" stroke="#111" stroke-width="1.3"/>
<text x="801.6" y="382.4" font-size="10" text-anchor="end" fill="#333" stroke="#333" stroke-width="0.22">0</text>
<line x1="802.6" y1="350.7" x2="805.6" y2="350.7" stroke="#111" stroke-width="1.3"/>
<text x="801.6" y="354.1" font-size="10" text-anchor="end" fill="#333" stroke="#333" stroke-width="0.22">4</text>
<line x1="802.6" y1="322.3" x2="805.6" y2="322.3" stroke="#111" stroke-width="1.3"/>
<text x="801.6" y="325.7" font-size="10" text-anchor="end" fill="#333" stroke="#333" stroke-width="0.22">8</text>
<line x1="802.6" y1="294.0" x2="805.6" y2="294.0" stroke="#111" stroke-width="1.3"/>
<text x="801.6" y="297.4" font-size="10" text-anchor="end" fill="#333" stroke="#333" stroke-width="0.22">12</text>
<line x1="802.6" y1="265.6" x2="805.6" y2="265.6" stroke="#111" stroke-width="1.3"/>
<text x="801.6" y="269.0" font-size="10" text-anchor="end" fill="#333" stroke="#333" stroke-width="0.22">16</text>
<line x1="802.6" y1="237.3" x2="805.6" y2="237.3" stroke="#111" stroke-width="1.3"/>
<text x="801.6" y="240.7" font-size="10" text-anchor="end" fill="#333" stroke="#333" stroke-width="0.22">20</text>
<line x1="803.8" y1="364.9" x2="805.6" y2="364.9" stroke="#111" stroke-width="1"/>
<line x1="803.8" y1="336.5" x2="805.6" y2="336.5" stroke="#111" stroke-width="1"/>
<line x1="803.8" y1="308.2" x2="805.6" y2="308.2" stroke="#111" stroke-width="1"/>
<line x1="803.8" y1="279.8" x2="805.6" y2="279.8" stroke="#111" stroke-width="1"/>
<line x1="803.8" y1="251.5" x2="805.6" y2="251.5" stroke="#111" stroke-width="1"/>
<line x1="803.8" y1="393.2" x2="805.6" y2="393.2" stroke="#111" stroke-width="1"/>
<text transform="translate(781.5,312.5) rotate(-90)" font-size="13" text-anchor="middle" fill="#222" dominant-baseline="central" stroke="#222" stroke-width="0.22">ΔR/R<tspan font-size="9.1" dy="3.2">0</tspan><tspan dy="-3.2"> (%)</tspan></text>
<text x="898.7" y="421.5" font-size="13" text-anchor="middle" fill="#222" stroke="#222" stroke-width="0.22">Time (s)</text>
<text x="1010.0" y="244.5" font-size="16.5" fill="#222" stroke="#222" stroke-width="0.25">(i)</text>
<path d="M1048.3,380.6 L1048.5,380.6 L1048.6,380.6 L1048.8,380.6 L1048.9,380.6 L1049.1,380.6 L1049.3,380.6 L1049.4,380.6 L1049.6,380.6 L1049.7,380.6 L1049.9,380.6 L1050.1,380.6 L1050.2,380.6 L1050.4,380.6 L1050.5,380.6 L1050.7,380.6 L1050.9,380.6 L1051.0,380.6 L1051.2,380.6 L1051.3,380.6 L1051.5,380.6 L1051.7,380.6 L1051.8,380.6 L1052.0,380.6 L1052.1,380.6 L1052.3,380.6 L1052.5,380.6 L1052.6,380.6 L1052.8,380.6 L1052.9,380.6 L1053.1,380.6 L1053.3,380.6 L1053.4,380.6 L1053.6,380.6 L1053.7,380.6 L1053.9,380.6 L1054.1,380.6 L1054.2,380.6 L1054.4,380.6 L1054.5,380.6 L1054.7,380.6 L1054.9,380.6 L1055.0,380.6 L1055.2,380.6 L1055.3,380.6 L1055.5,380.6 L1055.7,380.6 L1055.8,380.6 L1056.0,380.6 L1056.1,380.6 L1056.3,380.6 L1056.5,380.6 L1056.6,380.6 L1056.8,380.6 L1056.9,380.6 L1057.1,380.6 L1057.3,380.6 L1057.4,380.6 L1057.6,380.6 L1057.7,380.6 L1057.9,380.6 L1058.1,380.6 L1058.2,380.6 L1058.4,380.6 L1058.6,380.6 L1058.7,380.6 L1058.9,380.6 L1059.0,380.6 L1059.2,380.6 L1059.4,380.6 L1059.5,380.6 L1059.7,380.6 L1059.8,380.6 L1060.0,380.6 L1060.2,380.6 L1060.3,380.6 L1060.5,380.6 L1060.6,380.6 L1060.8,380.6 L1061.0,380.6 L1061.1,380.6 L1061.3,380.6 L1061.4,380.6 L1061.6,380.6 L1061.8,380.6 L1061.9,380.6 L1062.1,380.6 L1062.2,380.6 L1062.4,380.6 L1062.6,380.6 L1062.7,380.6 L1062.9,380.6 L1063.0,380.6 L1063.2,380.6 L1063.4,380.6 L1063.5,380.6 L1063.7,380.6 L1063.8,380.6 L1064.0,380.6 L1064.2,380.6 L1064.3,380.6 L1064.5,380.6 L1064.6,380.6 L1064.8,380.6 L1065.0,380.6 L1065.1,380.6 L1065.3,380.6 L1065.4,380.6 L1065.6,380.6 L1065.8,380.6 L1065.9,380.6 L1066.1,380.6 L1066.2,380.6 L1066.4,380.6 L1066.6,380.6 L1066.7,380.6 L1066.9,380.6 L1067.0,380.6 L1067.2,380.6 L1067.4,380.6 L1067.5,380.6 L1067.7,380.6 L1067.8,380.6 L1068.0,380.6 L1068.2,380.6 L1068.3,380.6 L1068.5,380.6 L1068.6,380.6 L1068.8,380.6 L1069.0,380.6 L1069.1,380.6 L1069.3,380.6 L1069.4,380.6 L1069.6,380.6 L1069.8,380.6 L1069.9,380.6 L1070.1,380.5 L1070.2,380.5 L1070.4,380.5 L1070.6,380.4 L1070.7,380.3 L1070.9,380.2 L1071.0,380.1 L1071.2,380.0 L1071.4,379.8 L1071.5,379.6 L1071.7,379.3 L1071.8,379.1 L1072.0,378.7 L1072.2,378.3 L1072.3,377.8 L1072.5,377.3 L1072.6,376.7 L1072.8,376.1 L1073.0,375.3 L1073.1,374.6 L1073.3,373.7 L1073.4,372.9 L1073.6,371.9 L1073.8,371.0 L1073.9,370.1 L1074.1,369.1 L1074.2,368.2 L1074.4,367.3 L1074.6,366.5 L1074.7,365.7 L1074.9,365.0 L1075.0,364.4 L1075.2,363.9 L1075.4,363.5 L1075.5,363.2 L1075.7,363.0 L1075.8,363.0 L1076.0,362.9 L1076.2,363.0 L1076.3,363.2 L1076.5,363.4 L1076.6,363.8 L1076.8,364.3 L1077.0,364.8 L1077.1,365.5 L1077.3,366.2 L1077.5,367.0 L1077.6,367.9 L1077.8,368.9 L1077.9,369.8 L1078.1,370.8 L1078.3,371.7 L1078.4,372.7 L1078.6,373.6 L1078.7,374.5 L1078.9,375.3 L1079.1,376.1 L1079.2,376.8 L1079.4,377.5 L1079.5,378.1 L1079.7,378.6 L1079.9,379.1 L1080.0,379.5 L1080.2,379.8 L1080.3,380.1 L1080.5,380.4 L1080.7,380.6 L1080.8,380.7 L1081.0,380.8 L1081.1,380.9 L1081.3,381.0 L1081.5,381.0 L1081.6,381.1 L1081.8,381.1 L1081.9,381.1 L1082.1,381.1 L1082.3,381.1 L1082.4,381.1 L1082.6,381.1 L1082.7,381.1 L1082.9,381.1 L1083.1,381.1 L1083.2,381.0 L1083.4,381.0 L1083.5,381.0 L1083.7,381.0 L1083.9,381.0 L1084.0,380.9 L1084.2,380.9 L1084.3,380.9 L1084.5,380.9 L1084.7,380.9 L1084.8,380.8 L1085.0,380.8 L1085.1,380.8 L1085.3,380.7 L1085.5,380.7 L1085.6,380.6 L1085.8,380.6 L1085.9,380.5 L1086.1,380.4 L1086.3,380.3 L1086.4,380.2 L1086.6,380.0 L1086.7,379.8 L1086.9,379.7 L1087.1,379.4 L1087.2,379.1 L1087.4,378.8 L1087.5,378.4 L1087.7,378.0 L1087.9,377.5 L1088.0,376.9 L1088.2,376.3 L1088.3,375.6 L1088.5,374.9 L1088.7,374.1 L1088.8,373.3 L1089.0,372.4 L1089.1,371.5 L1089.3,370.6 L1089.5,369.7 L1089.6,368.9 L1089.8,368.0 L1089.9,367.2 L1090.1,366.5 L1090.3,365.9 L1090.4,365.3 L1090.6,364.8 L1090.7,364.4 L1090.9,364.1 L1091.1,364.0 L1091.2,363.9 L1091.4,363.9 L1091.5,363.9 L1091.7,364.1 L1091.9,364.3 L1092.0,364.7 L1092.2,365.1 L1092.3,365.6 L1092.5,366.3 L1092.7,367.0 L1092.8,367.8 L1093.0,368.6 L1093.1,369.5 L1093.3,370.4 L1093.5,371.3 L1093.6,372.2 L1093.8,373.1 L1093.9,374.0 L1094.1,374.8 L1094.3,375.6 L1094.4,376.3 L1094.6,377.0 L1094.7,377.6 L1094.9,378.2 L1095.1,378.7 L1095.2,379.1 L1095.4,379.5 L1095.5,379.9 L1095.7,380.1 L1095.9,380.4 L1096.0,380.6 L1096.2,380.7 L1096.3,380.9 L1096.5,381.0 L1096.7,381.1 L1096.8,381.1 L1097.0,381.2 L1097.2,381.2 L1097.3,381.2 L1097.5,381.2 L1097.6,381.2 L1097.8,381.2 L1098.0,381.2 L1098.1,381.1 L1098.3,381.1 L1098.4,381.1 L1098.6,381.1 L1098.8,381.1 L1098.9,381.1 L1099.1,381.0 L1099.2,381.0 L1099.4,381.0 L1099.6,381.0 L1099.7,380.9 L1099.9,380.9 L1100.0,380.9 L1100.2,380.9 L1100.4,380.9 L1100.5,380.8 L1100.7,380.8 L1100.8,380.8 L1101.0,380.8 L1101.2,380.7 L1101.3,380.7 L1101.5,380.6 L1101.6,380.6 L1101.8,380.5 L1102.0,380.5 L1102.1,380.4 L1102.3,380.3 L1102.4,380.2 L1102.6,380.1 L1102.8,379.9 L1102.9,379.7 L1103.1,379.5 L1103.2,379.2 L1103.4,378.9 L1103.6,378.5 L1103.7,378.1 L1103.9,377.5 L1104.0,377.0 L1104.2,376.3 L1104.4,375.6 L1104.5,374.8 L1104.7,373.9 L1104.8,373.0 L1105.0,372.1 L1105.2,371.1 L1105.3,370.1 L1105.5,369.0 L1105.6,368.0 L1105.8,367.0 L1106.0,366.1 L1106.1,365.2 L1106.3,364.4 L1106.4,363.7 L1106.6,363.0 L1106.8,362.5 L1106.9,362.1 L1107.1,361.8 L1107.2,361.6 L1107.4,361.5 L1107.6,361.5 L1107.7,361.6 L1107.9,361.8 L1108.0,362.1 L1108.2,362.5 L1108.4,363.0 L1108.5,363.7 L1108.7,364.4 L1108.8,365.2 L1109.0,366.1 L1109.2,367.1 L1109.3,368.1 L1109.5,369.1 L1109.6,370.1 L1109.8,371.2 L1110.0,372.2 L1110.1,373.2 L1110.3,374.1 L1110.4,375.0 L1110.6,375.8 L1110.8,376.6 L1110.9,377.3 L1111.1,377.9 L1111.2,378.5 L1111.4,378.9 L1111.6,379.4 L1111.7,379.7 L1111.9,380.0 L1112.0,380.3 L1112.2,380.5 L1112.4,380.7 L1112.5,380.8 L1112.7,381.0 L1112.8,381.1 L1113.0,381.1 L1113.2,381.2 L1113.3,381.2 L1113.5,381.2 L1113.6,381.2 L1113.8,381.2 L1114.0,381.2 L1114.1,381.2 L1114.3,381.1 L1114.4,381.1 L1114.6,381.1 L1114.8,381.1 L1114.9,381.1 L1115.1,381.0 L1115.2,381.0 L1115.4,381.0 L1115.6,381.0 L1115.7,381.0 L1115.9,380.9 L1116.1,380.9 L1116.2,380.9 L1116.4,380.9 L1116.5,380.8 L1116.7,380.8 L1116.9,380.7 L1117.0,380.7 L1117.2,380.6 L1117.3,380.5 L1117.5,380.5 L1117.7,380.4 L1117.8,380.2 L1118.0,380.1 L1118.1,379.9 L1118.3,379.6 L1118.5,379.4 L1118.6,379.1 L1118.8,378.8 L1118.9,378.4 L1119.1,377.9 L1119.3,377.3 L1119.4,376.7 L1119.6,376.0 L1119.7,375.3 L1119.9,374.4 L1120.1,373.6 L1120.2,372.6 L1120.4,371.6 L1120.5,370.6 L1120.7,369.5 L1120.9,368.4 L1121.0,367.4 L1121.2,366.3 L1121.3,365.3 L1121.5,364.4 L1121.7,363.5 L1121.8,362.8 L1122.0,362.1 L1122.1,361.6 L1122.3,361.1 L1122.5,360.8 L1122.6,360.6 L1122.8,360.6 L1122.9,360.6 L1123.1,360.6 L1123.3,360.8 L1123.4,361.1 L1123.6,361.6 L1123.7,362.1 L1123.9,362.8 L1124.1,363.6 L1124.2,364.4 L1124.4,365.4 L1124.5,366.4 L1124.7,367.4 L1124.9,368.5 L1125.0,369.6 L1125.2,370.7 L1125.3,371.7 L1125.5,372.8 L1125.7,373.8 L1125.8,374.7 L1126.0,375.6 L1126.1,376.4 L1126.3,377.1 L1126.5,377.7 L1126.6,378.3 L1126.8,378.8 L1126.9,379.3 L1127.1,379.7 L1127.3,380.0 L1127.4,380.3 L1127.6,380.5 L1127.7,380.7 L1127.9,380.8 L1128.1,381.0 L1128.2,381.1 L1128.4,381.1 L1128.5,381.1 L1128.7,381.2 L1128.9,381.2 L1129.0,381.2 L1129.2,381.2 L1129.3,381.2 L1129.5,381.2 L1129.7,381.1 L1129.8,381.1 L1130.0,381.1 L1130.1,381.1 L1130.3,381.1 L1130.5,381.0 L1130.6,381.0 L1130.8,381.0 L1130.9,381.0 L1131.1,381.0 L1131.3,380.9 L1131.4,380.9 L1131.6,380.9 L1131.7,380.8 L1131.9,380.8 L1132.1,380.8 L1132.2,380.7 L1132.4,380.7 L1132.5,380.6 L1132.7,380.5 L1132.9,380.4 L1133.0,380.3 L1133.2,380.2 L1133.3,380.0 L1133.5,379.8 L1133.7,379.5 L1133.8,379.3 L1134.0,378.9 L1134.1,378.6 L1134.3,378.1 L1134.5,377.6 L1134.6,377.0 L1134.8,376.3 L1135.0,375.5 L1135.1,374.7 L1135.3,373.8 L1135.4,372.8 L1135.6,371.7 L1135.8,370.6 L1135.9,369.4 L1136.1,368.2 L1136.2,367.0 L1136.4,365.9 L1136.6,364.7 L1136.7,363.6 L1136.9,362.6 L1137.0,361.6 L1137.2,360.8 L1137.4,360.0 L1137.5,359.4 L1137.7,358.9 L1137.8,358.6 L1138.0,358.4 L1138.2,358.3 L1138.3,358.3 L1138.5,358.4 L1138.6,358.6 L1138.8,359.0 L1139.0,359.4 L1139.1,360.1 L1139.3,360.8 L1139.4,361.7 L1139.6,362.6 L1139.8,363.7 L1139.9,364.8 L1140.1,366.0 L1140.2,367.2 L1140.4,368.4 L1140.6,369.6 L1140.7,370.8 L1140.9,372.0 L1141.0,373.1 L1141.2,374.1 L1141.4,375.1 L1141.5,376.0 L1141.7,376.8 L1141.8,377.5 L1142.0,378.2 L1142.2,378.7 L1142.3,379.2 L1142.5,379.7 L1142.6,380.0 L1142.8,380.3 L1143.0,380.6 L1143.1,380.8 L1143.3,381.0 L1143.4,381.1 L1143.6,381.3 L1143.8,381.3 L1143.9,381.4 L1144.1,381.4 L1144.2,381.4 L1144.4,381.4 L1144.6,381.4 L1144.7,381.4 L1144.9,381.4 L1145.0,381.4 L1145.2,381.4 L1145.4,381.4 L1145.5,381.4 L1145.7,381.4 L1145.8,381.4 L1146.0,381.4 L1146.2,381.4 L1146.3,381.3 L1146.5,381.3 L1146.6,381.3 L1146.8,381.3 L1147.0,381.3 L1147.1,381.3 L1147.3,381.3 L1147.4,381.2 L1147.6,381.2 L1147.8,381.2 L1147.9,381.2 L1148.1,381.2 L1148.2,381.2 L1148.4,381.1 L1148.6,381.1 L1148.7,381.1 L1148.9,381.1 L1149.0,381.0 L1149.2,381.0 L1149.4,380.9 L1149.5,380.8 L1149.7,380.7 L1149.8,380.4 L1150.0,380.1 L1150.2,379.6 L1150.3,378.9 L1150.5,378.0 L1150.6,376.9 L1150.8,375.4 L1151.0,373.5 L1151.1,371.1 L1151.3,368.3 L1151.4,365.0 L1151.6,361.2 L1151.8,356.8 L1151.9,352.0 L1152.1,346.8 L1152.2,341.4 L1152.4,335.7 L1152.6,330.1 L1152.7,324.5 L1152.9,319.3 L1153.0,314.5 L1153.2,310.3 L1153.4,306.9 L1153.5,304.2 L1153.7,302.4 L1153.8,301.4 L1154.0,301.1 L1154.2,301.4 L1154.3,302.5 L1154.5,304.3 L1154.7,307.1 L1154.8,310.6 L1155.0,314.8 L1155.1,319.6 L1155.3,324.9 L1155.5,330.5 L1155.6,336.2 L1155.8,341.9 L1155.9,347.4 L1156.1,352.6 L1156.3,357.5 L1156.4,361.8 L1156.6,365.7 L1156.7,369.1 L1156.9,371.9 L1157.1,374.3 L1157.2,376.3 L1157.4,377.8 L1157.5,379.0 L1157.7,380.0 L1157.9,380.7 L1158.0,381.2 L1158.2,381.6 L1158.3,381.9 L1158.5,382.1 L1158.7,382.3 L1158.8,382.4 L1159.0,382.4 L1159.1,382.4 L1159.3,382.4 L1159.5,382.4 L1159.6,382.4 L1159.8,382.4 L1159.9,382.3 L1160.1,382.3 L1160.3,382.3 L1160.4,382.2 L1160.6,382.2 L1160.7,382.2 L1160.9,382.1 L1161.1,382.1 L1161.2,382.1 L1161.4,382.0 L1161.5,382.0 L1161.7,382.0 L1161.9,381.9 L1162.0,381.9 L1162.2,381.9 L1162.3,381.8 L1162.5,381.8 L1162.7,381.8 L1162.8,381.7 L1163.0,381.7 L1163.1,381.7 L1163.3,381.6 L1163.5,381.6 L1163.6,381.6 L1163.8,381.6 L1163.9,381.5 L1164.1,381.5 L1164.3,381.5 L1164.4,381.4 L1164.6,381.3 L1164.7,381.1 L1164.9,380.8 L1165.1,380.5 L1165.2,379.9 L1165.4,379.2 L1165.5,378.3 L1165.7,377.1 L1165.9,375.5 L1166.0,373.6 L1166.2,371.3 L1166.3,368.5 L1166.5,365.2 L1166.7,361.5 L1166.8,357.3 L1167.0,352.7 L1167.1,347.7 L1167.3,342.6 L1167.5,337.3 L1167.6,332.1 L1167.8,327.1 L1167.9,322.3 L1168.1,318.1 L1168.3,314.5 L1168.4,311.6 L1168.6,309.4 L1168.7,308.0 L1168.9,307.4 L1169.1,307.3 L1169.2,307.9 L1169.4,309.1 L1169.5,311.2 L1169.7,314.0 L1169.9,317.5 L1170.0,321.6 L1170.2,326.3 L1170.3,331.3 L1170.5,336.5 L1170.7,341.8 L1170.8,347.0 L1171.0,352.1 L1171.1,356.8 L1171.3,361.1 L1171.5,364.9 L1171.6,368.3 L1171.8,371.2 L1171.9,373.7 L1172.1,375.7 L1172.3,377.4 L1172.4,378.7 L1172.6,379.7 L1172.7,380.5 L1172.9,381.1 L1173.1,381.5 L1173.2,381.8 L1173.4,382.0 L1173.6,382.2 L1173.7,382.3 L1173.9,382.4 L1174.0,382.4 L1174.2,382.5 L1174.4,382.5 L1174.5,382.5 L1174.7,382.5 L1174.8,382.4 L1175.0,382.4 L1175.2,382.4 L1175.3,382.3 L1175.5,382.3 L1175.6,382.3 L1175.8,382.2 L1176.0,382.2 L1176.1,382.2 L1176.3,382.1 L1176.4,382.1 L1176.6,382.1 L1176.8,382.0 L1176.9,382.0 L1177.1,382.0 L1177.2,381.9 L1177.4,381.9 L1177.6,381.9 L1177.7,381.8 L1177.9,381.8 L1178.0,381.8 L1178.2,381.7 L1178.4,381.7 L1178.5,381.6 L1178.7,381.5 L1178.8,381.5 L1179.0,381.3 L1179.2,381.2 L1179.3,381.0 L1179.5,380.8 L1179.6,380.4 L1179.8,379.9 L1180.0,379.2 L1180.1,378.2 L1180.3,377.0 L1180.4,375.4 L1180.6,373.5 L1180.8,371.1 L1180.9,368.2 L1181.1,364.8 L1181.2,361.0 L1181.4,356.6 L1181.6,351.8 L1181.7,346.6 L1181.9,341.1 L1182.0,335.6 L1182.2,330.0 L1182.4,324.6 L1182.5,319.5 L1182.7,314.9 L1182.8,310.9 L1183.0,307.6 L1183.2,305.1 L1183.3,303.5 L1183.5,302.7 L1183.6,302.5 L1183.8,302.9 L1184.0,304.1 L1184.1,306.1 L1184.3,309.0 L1184.4,312.6 L1184.6,316.8 L1184.8,321.7 L1184.9,327.0 L1185.1,332.5 L1185.2,338.1 L1185.4,343.7 L1185.6,349.1 L1185.7,354.1 L1185.9,358.8 L1186.0,363.0 L1186.2,366.7 L1186.4,369.9 L1186.5,372.7 L1186.7,374.9 L1186.8,376.7 L1187.0,378.2 L1187.2,379.3 L1187.3,380.2 L1187.5,380.9 L1187.6,381.3 L1187.8,381.7 L1188.0,382.0 L1188.1,382.1 L1188.3,382.3 L1188.4,382.4 L1188.6,382.4 L1188.8,382.5 L1188.9,382.5 L1189.1,382.5 L1189.2,382.5 L1189.4,382.5 L1189.6,382.4 L1189.7,382.4 L1189.9,382.4 L1190.0,382.3 L1190.2,382.3 L1190.4,382.3 L1190.5,382.3 L1190.7,382.2 L1190.8,382.2 L1191.0,382.2 L1191.2,382.1 L1191.3,382.1 L1191.5,382.1 L1191.6,382.1 L1191.8,382.0 L1192.0,382.0 L1192.1,382.0 L1192.3,381.9 L1192.5,381.9 L1192.6,381.9 L1192.8,381.9 L1192.9,381.8 L1193.1,381.8 L1193.3,381.8 L1193.4,381.7 L1193.6,381.7 L1193.7,381.7 L1193.9,381.6 L1194.1,381.5 L1194.2,381.5 L1194.4,381.3 L1194.5,381.2 L1194.7,381.0 L1194.9,380.8 L1195.0,380.4 L1195.2,379.9 L1195.3,379.2 L1195.5,378.2 L1195.7,377.0 L1195.8,375.4 L1196.0,373.4 L1196.1,371.0 L1196.3,368.1 L1196.5,364.7 L1196.6,360.8 L1196.8,356.4 L1196.9,351.5 L1197.1,346.3 L1197.3,340.8 L1197.4,335.1 L1197.6,329.5 L1197.7,324.1 L1197.9,318.9 L1198.1,314.3 L1198.2,310.2 L1198.4,306.9 L1198.5,304.4 L1198.7,302.8 L1198.9,301.9 L1199.0,301.8 L1199.2,302.2 L1199.3,303.4 L1199.5,305.4 L1199.7,308.3 L1199.8,311.9 L1200.0,316.3 L1200.1,321.1 L1200.3,326.5 L1200.5,332.0 L1200.6,337.7 L1200.8,343.3 L1200.9,348.8 L1201.1,353.9 L1201.3,358.6 L1201.4,362.9 L1201.6,366.6 L1201.7,369.8 L1201.9,372.6 L1202.1,374.8 L1202.2,376.7 L1202.4,378.2 L1202.5,379.3 L1202.7,380.2 L1202.9,380.8 L1203.0,381.3 L1203.2,381.7 L1203.3,381.9 L1203.5,382.1 L1203.7,382.3 L1203.8,382.3 L1204.0,382.4 L1204.1,382.5 L1204.3,382.5 L1204.5,382.5 L1204.6,382.5 L1204.8,382.5 L1204.9,382.4 L1205.1,382.4 L1205.3,382.4 L1205.4,382.4 L1205.6,382.3 L1205.7,382.3 L1205.9,382.3 L1206.1,382.3 L1206.2,382.2 L1206.4,382.2 L1206.5,382.2 L1206.7,382.2 L1206.9,382.1 L1207.0,382.1 L1207.2,382.1 L1207.3,382.1 L1207.5,382.0 L1207.7,382.0 L1207.8,382.0 L1208.0,382.0 L1208.1,381.9 L1208.3,381.9 L1208.5,381.9 L1208.6,381.9 L1208.8,381.8 L1208.9,381.8 L1209.1,381.8 L1209.3,381.8 L1209.4,381.7 L1209.6,381.7 L1209.7,381.7 L1209.9,381.7 L1210.1,381.6 L1210.2,381.6 L1210.4,381.6 L1210.5,381.6 L1210.7,381.6 L1210.9,381.6 L1211.0,381.6 L1211.2,381.5 L1211.3,381.5 L1211.5,381.3 L1211.7,381.2 L1211.8,380.9 L1212.0,380.5 L1212.2,380.0 L1212.3,379.3 L1212.5,378.3 L1212.6,377.1 L1212.8,375.5 L1213.0,373.5 L1213.1,371.2 L1213.3,368.3 L1213.4,365.0 L1213.6,361.3 L1213.8,357.1 L1213.9,352.5 L1214.1,347.6 L1214.2,342.5 L1214.4,337.3 L1214.6,332.2 L1214.7,327.3 L1214.9,322.8 L1215.0,318.8 L1215.2,315.3 L1215.4,312.6 L1215.5,310.7 L1215.7,309.4 L1215.8,309.0 L1216.0,309.0 L1216.2,309.7 L1216.3,311.1 L1216.5,313.3 L1216.6,316.2 L1216.8,319.8 L1217.0,324.0 L1217.1,328.7 L1217.3,333.7 L1217.4,338.9 L1217.6,344.1 L1217.8,349.2 L1217.9,354.1 L1218.1,358.7 L1218.2,362.9 L1218.4,366.6 L1218.6,369.9 L1218.7,372.7 L1218.9,375.0 L1219.0,376.9 L1219.2,378.5 L1219.4,379.7 L1219.5,380.7 L1219.7,381.4 L1219.8,382.0 L1220.0,382.4 L1220.2,382.7 L1220.3,382.9 L1220.5,383.1 L1220.6,383.2 L1220.8,383.3 L1221.0,383.4 L1221.1,383.4 L1221.3,383.5 L1221.4,383.5 L1221.6,383.5 L1221.8,383.5 L1221.9,383.5 L1222.1,383.5 L1222.2,383.5 L1222.4,383.5 L1222.6,383.4 L1222.7,383.4 L1222.9,383.4 L1223.0,383.4 L1223.2,383.4 L1223.4,383.4 L1223.5,383.4 L1223.7,383.4 L1223.8,383.4 L1224.0,383.4 L1224.2,383.4 L1224.3,383.4 L1224.5,383.4 L1224.6,383.4 L1224.8,383.4 L1225.0,383.4 L1225.1,383.4 L1225.3,383.4 L1225.4,383.4 L1225.6,383.4 L1225.8,383.4 L1225.9,383.4 L1226.1,383.4 L1226.2,383.4 L1226.4,383.4 L1226.6,383.3 L1226.7,383.3 L1226.9,383.3 L1227.0,383.3 L1227.2,383.3 L1227.4,383.3 L1227.5,383.3 L1227.7,383.3 L1227.8,383.3 L1228.0,383.3 L1228.2,383.3 L1228.3,383.3 L1228.5,383.3 L1228.6,383.3 L1228.8,383.3 L1229.0,383.3 L1229.1,383.3 L1229.3,383.3 L1229.4,383.3 L1229.6,383.3 L1229.8,383.3 L1229.9,383.3 L1230.1,383.3 L1230.2,383.3 L1230.4,383.3 L1230.6,383.2 L1230.7,383.2 L1230.9,383.2 L1231.1,383.2 L1231.2,383.2 L1231.4,383.2 L1231.5,383.2 L1231.7,383.2 L1231.9,383.2 L1232.0,383.2 L1232.2,383.2 L1232.3,383.2 L1232.5,383.2 L1232.7,383.2 L1232.8,383.2 L1233.0,383.2 L1233.1,383.2 L1233.3,383.2 L1233.5,383.2 L1233.6,383.2 L1233.8,383.2 L1233.9,383.2 L1234.1,383.2 L1234.3,383.2 L1234.4,383.2 L1234.6,383.2 L1234.7,383.1 L1234.9,383.1 L1235.1,383.1 L1235.2,383.1 L1235.4,383.1 L1235.5,383.1 L1235.7,383.1 L1235.9,383.1 L1236.0,383.1 L1236.2,383.1 L1236.3,383.1 L1236.5,383.1 L1236.7,383.1 L1236.8,383.1 L1237.0,383.1 L1237.1,383.1 L1237.3,383.1 L1237.5,383.1 L1237.6,383.1 L1237.8,383.1 L1237.9,383.1 L1238.1,383.1 L1238.3,383.1 L1238.4,383.1 L1238.6,383.1 L1238.7,383.0 L1238.9,383.0 L1239.1,383.0 L1239.2,383.0 L1239.4,383.0 L1239.5,383.0 L1239.7,383.0 L1239.9,383.0 L1240.0,383.0 L1240.2,383.0 L1240.3,383.0 L1240.5,383.0" fill="none" stroke="#111" stroke-width="2.2" stroke-linejoin="round"/>
<rect x="1048.3" y="238.2" width="192.2" height="154.3" fill="none" stroke="#111" stroke-width="2.0"/>
<line x1="1048.3" y1="392.5" x2="1048.3" y2="395.5" stroke="#111" stroke-width="1.3"/>
<text x="1048.3" y="405.5" font-size="10" text-anchor="middle" fill="#333" stroke="#333" stroke-width="0.22">0</text>
<line x1="1086.7" y1="392.5" x2="1086.7" y2="395.5" stroke="#111" stroke-width="1.3"/>
<text x="1086.7" y="405.5" font-size="10" text-anchor="middle" fill="#333" stroke="#333" stroke-width="0.22">5</text>
<line x1="1125.2" y1="392.5" x2="1125.2" y2="395.5" stroke="#111" stroke-width="1.3"/>
<text x="1125.2" y="405.5" font-size="10" text-anchor="middle" fill="#333" stroke="#333" stroke-width="0.22">10</text>
<line x1="1163.6" y1="392.5" x2="1163.6" y2="395.5" stroke="#111" stroke-width="1.3"/>
<text x="1163.6" y="405.5" font-size="10" text-anchor="middle" fill="#333" stroke="#333" stroke-width="0.22">15</text>
<line x1="1202.1" y1="392.5" x2="1202.1" y2="395.5" stroke="#111" stroke-width="1.3"/>
<text x="1202.1" y="405.5" font-size="10" text-anchor="middle" fill="#333" stroke="#333" stroke-width="0.22">20</text>
<line x1="1240.5" y1="392.5" x2="1240.5" y2="395.5" stroke="#111" stroke-width="1.3"/>
<text x="1240.5" y="405.5" font-size="10" text-anchor="middle" fill="#333" stroke="#333" stroke-width="0.22">25</text>
<line x1="1067.5" y1="392.5" x2="1067.5" y2="394.3" stroke="#111" stroke-width="1"/>
<line x1="1106.0" y1="392.5" x2="1106.0" y2="394.3" stroke="#111" stroke-width="1"/>
<line x1="1144.4" y1="392.5" x2="1144.4" y2="394.3" stroke="#111" stroke-width="1"/>
<line x1="1182.8" y1="392.5" x2="1182.8" y2="394.3" stroke="#111" stroke-width="1"/>
<line x1="1221.3" y1="392.5" x2="1221.3" y2="394.3" stroke="#111" stroke-width="1"/>
<line x1="1045.3" y1="380.6" x2="1048.3" y2="380.6" stroke="#111" stroke-width="1.3"/>
<text x="1044.3" y="384.0" font-size="10" text-anchor="end" fill="#333" stroke="#333" stroke-width="0.22">0</text>
<line x1="1045.3" y1="356.9" x2="1048.3" y2="356.9" stroke="#111" stroke-width="1.3"/>
<text x="1044.3" y="360.3" font-size="10" text-anchor="end" fill="#333" stroke="#333" stroke-width="0.22">10</text>
<line x1="1045.3" y1="333.2" x2="1048.3" y2="333.2" stroke="#111" stroke-width="1.3"/>
<text x="1044.3" y="336.6" font-size="10" text-anchor="end" fill="#333" stroke="#333" stroke-width="0.22">20</text>
<line x1="1045.3" y1="309.4" x2="1048.3" y2="309.4" stroke="#111" stroke-width="1.3"/>
<text x="1044.3" y="312.8" font-size="10" text-anchor="end" fill="#333" stroke="#333" stroke-width="0.22">30</text>
<line x1="1045.3" y1="285.7" x2="1048.3" y2="285.7" stroke="#111" stroke-width="1.3"/>
<text x="1044.3" y="289.1" font-size="10" text-anchor="end" fill="#333" stroke="#333" stroke-width="0.22">40</text>
<line x1="1045.3" y1="261.9" x2="1048.3" y2="261.9" stroke="#111" stroke-width="1.3"/>
<text x="1044.3" y="265.3" font-size="10" text-anchor="end" fill="#333" stroke="#333" stroke-width="0.22">50</text>
<line x1="1045.3" y1="238.2" x2="1048.3" y2="238.2" stroke="#111" stroke-width="1.3"/>
<text x="1044.3" y="241.6" font-size="10" text-anchor="end" fill="#333" stroke="#333" stroke-width="0.22">60</text>
<line x1="1046.5" y1="368.8" x2="1048.3" y2="368.8" stroke="#111" stroke-width="1"/>
<line x1="1046.5" y1="345.0" x2="1048.3" y2="345.0" stroke="#111" stroke-width="1"/>
<line x1="1046.5" y1="321.3" x2="1048.3" y2="321.3" stroke="#111" stroke-width="1"/>
<line x1="1046.5" y1="297.5" x2="1048.3" y2="297.5" stroke="#111" stroke-width="1"/>
<line x1="1046.5" y1="273.8" x2="1048.3" y2="273.8" stroke="#111" stroke-width="1"/>
<line x1="1046.5" y1="250.1" x2="1048.3" y2="250.1" stroke="#111" stroke-width="1"/>
<line x1="1046.5" y1="392.5" x2="1048.3" y2="392.5" stroke="#111" stroke-width="1"/>
<text transform="translate(1022.0,312.5) rotate(-90)" font-size="13" text-anchor="middle" fill="#222" dominant-baseline="central" stroke="#222" stroke-width="0.22">ΔR/R<tspan font-size="9.1" dy="3.2">0</tspan><tspan dy="-3.2"> (%)</tspan></text>
<text x="1145.2" y="421.5" font-size="13" text-anchor="middle" fill="#222" stroke="#222" stroke-width="0.22">Time (s)</text>
<defs>
<linearGradient id="greyBg" x1="0" y1="0" x2="1" y2="1"><stop offset="0" stop-color="#d6d6d8"/><stop offset="1" stop-color="#cacacc"/></linearGradient>
<linearGradient id="greyBg2" x1="0" y1="0" x2="1" y2="0"><stop offset="0" stop-color="#d2d4d6"/><stop offset="1" stop-color="#dcdcdc"/></linearGradient>
<linearGradient id="bglove" x1="0" y1="0" x2="0" y2="1"><stop offset="0" stop-color="#6cbcef"/><stop offset="0.5" stop-color="#55a8e4"/><stop offset="1" stop-color="#3c8ed6"/></linearGradient>
<linearGradient id="skinF" x1="0" y1="0" x2="0" y2="1"><stop offset="0" stop-color="#eadccc"/><stop offset="1" stop-color="#dcc6ae"/></linearGradient>
<linearGradient id="skinH" x1="0" y1="0" x2="0" y2="1"><stop offset="0" stop-color="#e6dccb"/><stop offset="0.6" stop-color="#d6c4a6"/><stop offset="1" stop-color="#a08860"/></linearGradient>
<linearGradient id="skinI" x1="0" y1="0" x2="1" y2="1"><stop offset="0" stop-color="#e0cab2"/><stop offset="0.5" stop-color="#d6bea2"/><stop offset="1" stop-color="#c8ac8e"/></linearGradient>
</defs>
<clipPath id="c744_2505"><rect x="0" y="0" width="41.3" height="34.4"/></clipPath>
<g transform="translate(74.4,250.5)" clip-path="url(#c744_2505)"><g filter="url(#soft)"><rect x="-2" y="-2" width="45.3" height="38.4" fill="url(#greyBg)"/><path d="M-2,6 C8,4 14,6 20,9 L38,10 C41,11 40,15 36,15 L20,16 C18,20 16,26 14,34 L-2,36 Z" fill="url(#bglove)"/>
<path d="M-2,17 C4,16 9,18 11,22 C11,26 8,28 4,29 L-2,29 Z" fill="#1f4f8c"/>
<path d="M-2,28 C6,24 14,25 16,30 L14,36 L-2,36Z" fill="#4a9ee0"/>
<rect x="15" y="17" width="3" height="17" rx="1.2" fill="#8a2424"/><rect x="25.5" y="17" width="2.6" height="17" rx="1.2" fill="#1a1a1a"/></g></g>
<text x="95.3" y="247.5" font-size="7.5" font-weight="bold" text-anchor="middle" fill="#222" stroke="#222" stroke-width="0.12">0°</text>
<clipPath id="c1201_2505"><rect x="0" y="0" width="40.8" height="34.4"/></clipPath>
<g transform="translate(120.1,250.5)" clip-path="url(#c1201_2505)"><g filter="url(#soft)"><rect x="-2" y="-2" width="44.8" height="38.4" fill="url(#greyBg)"/><path d="M-2,6 C8,3 16,5 22,9 C28,13 33,17 35,22 C35,24 32,24 30,22 L22,17 C19,22 16,28 14,36 L-2,36 Z" fill="url(#bglove)"/>
<path d="M-2,17 C4,16 9,18 11,22 C11,26 8,28 4,29 L-2,29 Z" fill="#1f4f8c"/>
<path d="M-2,28 C6,24 14,25 16,30 L14,36 L-2,36Z" fill="#4a9ee0"/>
<rect x="16" y="17" width="3" height="17" rx="1.2" fill="#8a2424"/><rect x="22.5" y="18" width="2.6" height="16" rx="1.2" fill="#1a1a1a"/></g></g>
<text x="140.0" y="247.5" font-size="7.5" font-weight="bold" text-anchor="middle" fill="#222" stroke="#222" stroke-width="0.12">45°</text>
<clipPath id="c1650_2505"><rect x="0" y="0" width="41" height="34.4"/></clipPath>
<g transform="translate(165,250.5)" clip-path="url(#c1650_2505)"><g filter="url(#soft)"><rect x="-2" y="-2" width="45" height="38.4" fill="url(#greyBg)"/><path d="M-2,5 C8,3 18,4 24,8 C26,14 25,22 23,26 C21,27 20,24 20,20 L18,16 C15,22 12,28 10,36 L-2,36 Z" fill="url(#bglove)"/>
<path d="M-2,13 C4,12 9,14 12,18 C12,22 9,25 5,27 L-2,27 Z" fill="#1f4f8c"/>
<path d="M-2,26 C6,22 12,23 14,28 L12,36 L-2,36Z" fill="#4a9ee0"/>
<rect x="15.5" y="16" width="2.5" height="18" fill="#5a2a2a"/><rect x="18.5" y="17" width="2.5" height="17" fill="#1a1a1a"/><rect x="15" y="13" width="4" height="5" fill="#eee"/></g></g>
<text x="185.3" y="247.5" font-size="7.5" font-weight="bold" text-anchor="middle" fill="#222" stroke="#222" stroke-width="0.12">90°</text>
<clipPath id="c2101_2505"><rect x="0" y="0" width="41.7" height="34.4"/></clipPath>
<g transform="translate(210.1,250.5)" clip-path="url(#c2101_2505)"><g filter="url(#soft)"><rect x="-2" y="-2" width="45.7" height="38.4" fill="url(#greyBg)"/><path d="M-2,4 C8,3 18,6 24,10 C22,16 20,19 14,24 C10,28 6,32 4,36 L-2,36 Z" fill="url(#bglove)"/>
<path d="M-2,12 C4,11 9,13 12,16 C10,20 7,23 3,26 L-2,26 Z" fill="#1f4f8c"/>
<path d="M-2,28 C6,22 14,18 20,16 L18,22 L6,36 L-2,36Z" fill="#4a9ee0"/>
<rect x="15.5" y="21" width="2.5" height="13" fill="#3a2222"/><rect x="18.5" y="20" width="2.5" height="14" fill="#111"/></g></g>
<text x="231.0" y="247.5" font-size="7.5" font-weight="bold" text-anchor="middle" fill="#222" stroke="#222" stroke-width="0.12">120°</text>
<clipPath id="c3639_2511"><rect x="0" y="0" width="47.3" height="34.4"/></clipPath>
<g transform="translate(363.9,251.1)" clip-path="url(#c3639_2511)"><g filter="url(#soft)"><rect x="-2" y="-2" width="51.3" height="38.4" fill="url(#greyBg2)"/><path d="M-2,9 C10,8 22,9 30,11 C36,11 42,13 43,18 C44,23 41,27 36,27 C32,27 30,25 28,22 C20,20 10,20 -2,21 Z" fill="url(#skinF)"/>
<path d="M-2,20 C10,19 20,20 28,22" fill="none" stroke="#8a7a68" stroke-width="1"/>
<circle cx="38" cy="21" r="2.2" fill="#b05a40" opacity="0.8"/>
<path d="M2,34 L12,22 M6,34 L16,22" stroke="#555" stroke-width="0.6" opacity="0.8"/></g></g>
<text x="386.8" y="247.5" font-size="7.5" font-weight="bold" text-anchor="middle" fill="#222" stroke="#222" stroke-width="0.12">0°</text>
<clipPath id="c4418_2511"><rect x="0" y="0" width="47.9" height="34.4"/></clipPath>
<g transform="translate(441.8,251.1)" clip-path="url(#c4418_2511)"><g filter="url(#soft)"><rect x="-2" y="-2" width="51.9" height="38.4" fill="url(#greyBg2)"/><path d="M-2,5 C8,4 20,5 26,7 C31,9 33,14 33,20 C33,26 31,31 26,32 C22,32 21,28 22,24 L22,16 C16,15 8,15 -2,16 Z" fill="url(#skinF)"/>
<path d="M-2,15 C8,14 16,15 22,16" fill="none" stroke="#8a7a68" stroke-width="1"/>
<circle cx="25" cy="31" r="2" fill="#6a3a2a" opacity="0.8"/>
<path d="M2,34 L10,17 M5,34 L13,17" stroke="#555" stroke-width="0.6" opacity="0.8"/></g></g>
<text x="465.7" y="247.5" font-size="7.5" font-weight="bold" text-anchor="middle" fill="#222" stroke="#222" stroke-width="0.12">90°</text>
<clipPath id="c8093_2515"><rect x="0" y="0" width="45.8" height="33.8"/></clipPath>
<g transform="translate(809.3,251.5)" clip-path="url(#c8093_2515)"><g filter="url(#soft)"><rect x="-2" y="-2" width="49.8" height="37.8" fill="url(#greyBg2)"/><path d="M0,13 C3,12 7,12 10,14 C20,15 32,13 46,12 L47,24 C36,24 24,22 12,20 C8,20 3,20 0,20 Z" fill="url(#skinH)"/>
<ellipse cx="4" cy="16" rx="4" ry="3.5" fill="#b8a078"/>
<rect x="35" y="23" width="1.4" height="9" fill="#666"/><rect x="38" y="23" width="1.4" height="9" fill="#666"/></g></g>
<text x="831.6" y="247.5" font-size="7.5" font-weight="bold" text-anchor="middle" fill="#222" stroke="#222" stroke-width="0.12">0°</text>
<clipPath id="c8550_2515"><rect x="0" y="0" width="47.2" height="33.8"/></clipPath>
<g transform="translate(855,251.5)" clip-path="url(#c8550_2515)"><g filter="url(#soft)"><rect x="-2" y="-2" width="51.2" height="37.8" fill="url(#greyBg2)"/><path d="M13,3 C17,1 20,3 22,6 C28,12 36,16 46,17 L47,26 C38,26 30,23 24,18 C19,14 15,9 13,3 Z" fill="url(#skinH)"/>
<rect x="34" y="24" width="1.4" height="9" fill="#666"/><rect x="37" y="24" width="1.4" height="9" fill="#666"/></g></g>
<text x="878.4" y="247.5" font-size="7.5" font-weight="bold" text-anchor="middle" fill="#222" stroke="#222" stroke-width="0.12">45°</text>
<clipPath id="c9022_2515"><rect x="0" y="0" width="46.6" height="33.8"/></clipPath>
<g transform="translate(902.2,251.5)" clip-path="url(#c9022_2515)"><g filter="url(#soft)"><rect x="-2" y="-2" width="50.6" height="37.8" fill="url(#greyBg2)"/><path d="M36,-2 L42,-2 C44,8 47,14 47,18 L47,26 C40,26 34,24 32,20 C32,12 34,6 36,-2 Z" fill="url(#skinH)"/>
<rect x="34" y="24" width="1.4" height="9" fill="#666"/></g></g>
<text x="924.8" y="247.5" font-size="7.5" font-weight="bold" text-anchor="middle" fill="#222" stroke="#222" stroke-width="0.12">90°</text>
<clipPath id="c9488_2515"><rect x="0" y="0" width="46.3" height="33.8"/></clipPath>
<g transform="translate(948.8,251.5)" clip-path="url(#c9488_2515)"><g filter="url(#soft)"><rect x="-2" y="-2" width="50.3" height="37.8" fill="url(#greyBg2)"/><path d="M44,-2 L48,-2 L48,26 C42,26 36,24 34,20 C36,12 40,6 44,-2 Z" fill="url(#skinH)"/>
<rect x="34" y="24" width="1.4" height="9" fill="#666"/></g></g>
<text x="971.8" y="247.5" font-size="7.5" font-weight="bold" text-anchor="middle" fill="#222" stroke="#222" stroke-width="0.12">120°</text>
<clipPath id="c10595_2528"><rect x="0" y="0" width="48" height="34.5"/></clipPath>
<g transform="translate(1059.5,252.8)" clip-path="url(#c10595_2528)"><g filter="url(#soft)"><rect x="-2" y="-2" width="52" height="38.5" fill="url(#greyBg)"/><rect x="0" y="0" width="48" height="35" fill="#dcdcdc"/>
<path d="M10,-2 L38,-2 L37,36 L12,36 Z" fill="url(#skinI)"/>
<path d="M24,-2 C23,10 23,24 25,36" stroke="#b89a7a" stroke-width="1" fill="none"/>
<ellipse cx="21" cy="10" rx="3" ry="1.6" fill="#b0503a"/><ellipse cx="21" cy="22" rx="3" ry="1.4" fill="#3a2a1a"/>
<path d="M14,10 C6,16 2,24 6,30 C10,34 14,28 16,22" fill="none" stroke="#777" stroke-width="0.6"/></g></g>
<text x="1083.6" y="249.0" font-size="7.5" font-weight="bold" text-anchor="middle" fill="#222" stroke="#222" stroke-width="0.12">stand</text>
<clipPath id="c11203_2528"><rect x="0" y="0" width="48.3" height="34.5"/></clipPath>
<g transform="translate(1120.3,252.8)" clip-path="url(#c11203_2528)"><g filter="url(#soft)"><rect x="-2" y="-2" width="52.3" height="38.5" fill="url(#greyBg)"/><rect x="0" y="0" width="48.3" height="35" fill="url(#skinI)"/>
<path d="M-2,22 C6,22 14,24 20,30 L20,36 L-2,36 Z" fill="#dad6d2"/>
<path d="M6,26 C12,22 22,20 30,20" fill="none" stroke="#e8d0b8" stroke-width="3"/>
<ellipse cx="26" cy="10" rx="3" ry="1.4" fill="#b0503a"/><ellipse cx="28" cy="20" rx="3" ry="1.2" fill="#3a2a1a"/>
<path d="M40,-2 C36,10 36,22 40,36" fill="none" stroke="#c4a482" stroke-width="1"/></g></g>
<text x="1144.8" y="249.0" font-size="7.5" font-weight="bold" text-anchor="middle" fill="#222" stroke="#222" stroke-width="0.12">half squat</text>
<clipPath id="c11818_2528"><rect x="0" y="0" width="48.1" height="34.5"/></clipPath>
<g transform="translate(1181.8,252.8)" clip-path="url(#c11818_2528)"><g filter="url(#soft)"><rect x="-2" y="-2" width="52.1" height="38.5" fill="url(#greyBg)"/><rect x="0" y="0" width="48" height="35" fill="url(#skinI)"/>
<rect x="0" y="0" width="48" height="6" fill="#cdb8a4"/>
<path d="M0,7 L30,6" stroke="#444" stroke-width="1"/>
<ellipse cx="28" cy="3" rx="4" ry="3" fill="#e0d4cc"/>
<path d="M10,36 C14,26 22,20 34,16 C40,14 44,16 48,20" fill="none" stroke="#e6d2bc" stroke-width="3"/>
<ellipse cx="24" cy="12" rx="3" ry="1.2" fill="#8a4a3a"/><ellipse cx="30" cy="22" rx="3" ry="1.2" fill="#3a2a1a"/></g></g>
<text x="1205.8" y="249.0" font-size="7.5" font-weight="bold" text-anchor="middle" fill="#222" stroke="#222" stroke-width="0.12">fully squat</text>
<text x="577.6" y="242" font-size="16" font-weight="bold" fill="#111" stroke="#111" stroke-width="0.22">(g)</text>
<g filter="url(#soft)">
<path d="M644,256 C656,256 666,259 674,263 C682,267 685,274 685,281 L690,298 C692,305 694,311 692,316 C688,320 682,316 680,310 L675,290 C672,282 668,278 662,276 C654,273 647,271 643,269 Z" fill="#fdf0d0"/>
<path d="M683,374 L692,363 C702,372 714,384 726,396 L721,402 C708,392 694,382 683,374 Z" fill="#fdf0d0"/>
<path d="M720,403 C724,398 730,395 737,394 C740,398 738,406 735,412 C732,418 729,424 727,427 C724,425 722,418 721,412 Z" fill="#96a8e0"/>
<path d="M736,395 C739,400 737,410 733,418" stroke="#dde6f7" stroke-width="1.2" fill="none"/>
<path d="M652,318 C664,314 672,316 672,326 C674,338 684,350 693,362 L684,376 C674,370 662,356 654,342 C650,334 648,326 652,318 Z" fill="#5274c4"/>
<path d="M614,376 L627,373 C629,385 632,396 634,406 L625,408 C621,398 617,387 614,376 Z" fill="#fdf0d0"/>
<path d="M612,423 C614,417 620,412 626,408 L634,406 C637,408 640,412 640,415 C632,419 620,423 612,424 Z" fill="#96a8e0"/>
<path d="M613,424 C622,422 632,419 640,415" stroke="#dde6f7" stroke-width="1.2" fill="none"/>
<path d="M641,315 L663,309 C670,312 673,320 670,330 C664,338 656,344 648,346 C640,350 630,355 624,358 C625,364 627,370 627,373 L609,379 C606,372 603,364 604,356 C608,348 616,340 626,332 C632,326 637,320 641,315 Z" fill="#5274c4"/>
<path d="M631,261 C628,270 624,277 623.5,284 C623,294 630,304 641,315 L663,310 C661,296 659,280 656.5,262 C650,264 647,267 644,268 C639,266 635,263 631,261 Z" fill="#98acda"/>
<path d="M605,262 C603,255 607,250 613,251 C618,252 619,258 617,263 C619,273 624,284 628,296 C627,301 621,303 617,300 C612,290 607,276 605,262 Z" fill="#fdf0d0"/>
<path d="M629,248 L639,248 C641,254 644,258 648,259 C652,260 656,261 657,263 C650,264 647,267 644,268 C639,266 634,263 631,261 C630,257 629,252 629,248 Z" fill="#fdf0d0"/>
<path d="M615,231 C613,235 614,238 613,241 C612,243 614,244 615,245 C615,248 617,250 621,250.5 C626,251 630,251 634,249 C640,246 641,238 637,232 C631,227 620,227 615,231 Z" fill="#fdf0d0"/>
<path d="M613.5,231 C615,223 622,217 631,217 C639,217 645,223 645.5,232 C645.5,240 643.5,246 640,250.5 C637,248 636,244 635.5,241.5 L628.5,241.5 C627.5,237 626.5,234 625.5,231.8 C621,231.8 617,231.6 613.5,231 Z" fill="#7e7e7e"/>
<ellipse cx="646" cy="221" rx="10.5" ry="10.3" fill="#7e7e7e"/>
<path d="M636,220 C638,224 640,227 643,228.5" stroke="#f0f0f0" stroke-width="2.8" fill="none"/>
<ellipse cx="632" cy="237.5" rx="3.2" ry="3.8" fill="#fdf0d0"/>
<circle cx="619.8" cy="238.5" r="1.1" fill="#333"/>
<path d="M616.5,234 L623,233.6" stroke="#444" stroke-width="1.3"/>
</g>
<ellipse cx="608.8" cy="260" rx="9.2" ry="11.2" fill="none" stroke="#c24c3c" stroke-width="2" stroke-dasharray="7 3.6"/>
<ellipse cx="675.3" cy="271.7" rx="9.4" ry="11.6" fill="none" stroke="#c24c3c" stroke-width="2" stroke-dasharray="7 3.6"/>
<ellipse cx="684" cy="300.8" rx="9.2" ry="11.2" fill="none" stroke="#c24c3c" stroke-width="2" stroke-dasharray="7 3.6"/>
<ellipse cx="608.5" cy="360.2" rx="9.1" ry="11.4" fill="none" stroke="#c24c3c" stroke-width="2" stroke-dasharray="7 3.6"/>
<text x="548" y="259.8" font-size="16.5" font-weight="bold" fill="#111" stroke="#111" stroke-width="0.22">Finger</text>
<text x="689.2" y="267" font-size="16.5" font-weight="bold" fill="#111" stroke="#111" stroke-width="0.22">Elbow</text>
<text x="704.3" y="306" font-size="16.5" font-weight="bold" fill="#111" stroke="#111" stroke-width="0.22">Wrist</text>
<text x="552.2" y="369.4" font-size="16.5" font-weight="bold" fill="#111" stroke="#111" stroke-width="0.22">Knee</text>
</svg></body></html>
